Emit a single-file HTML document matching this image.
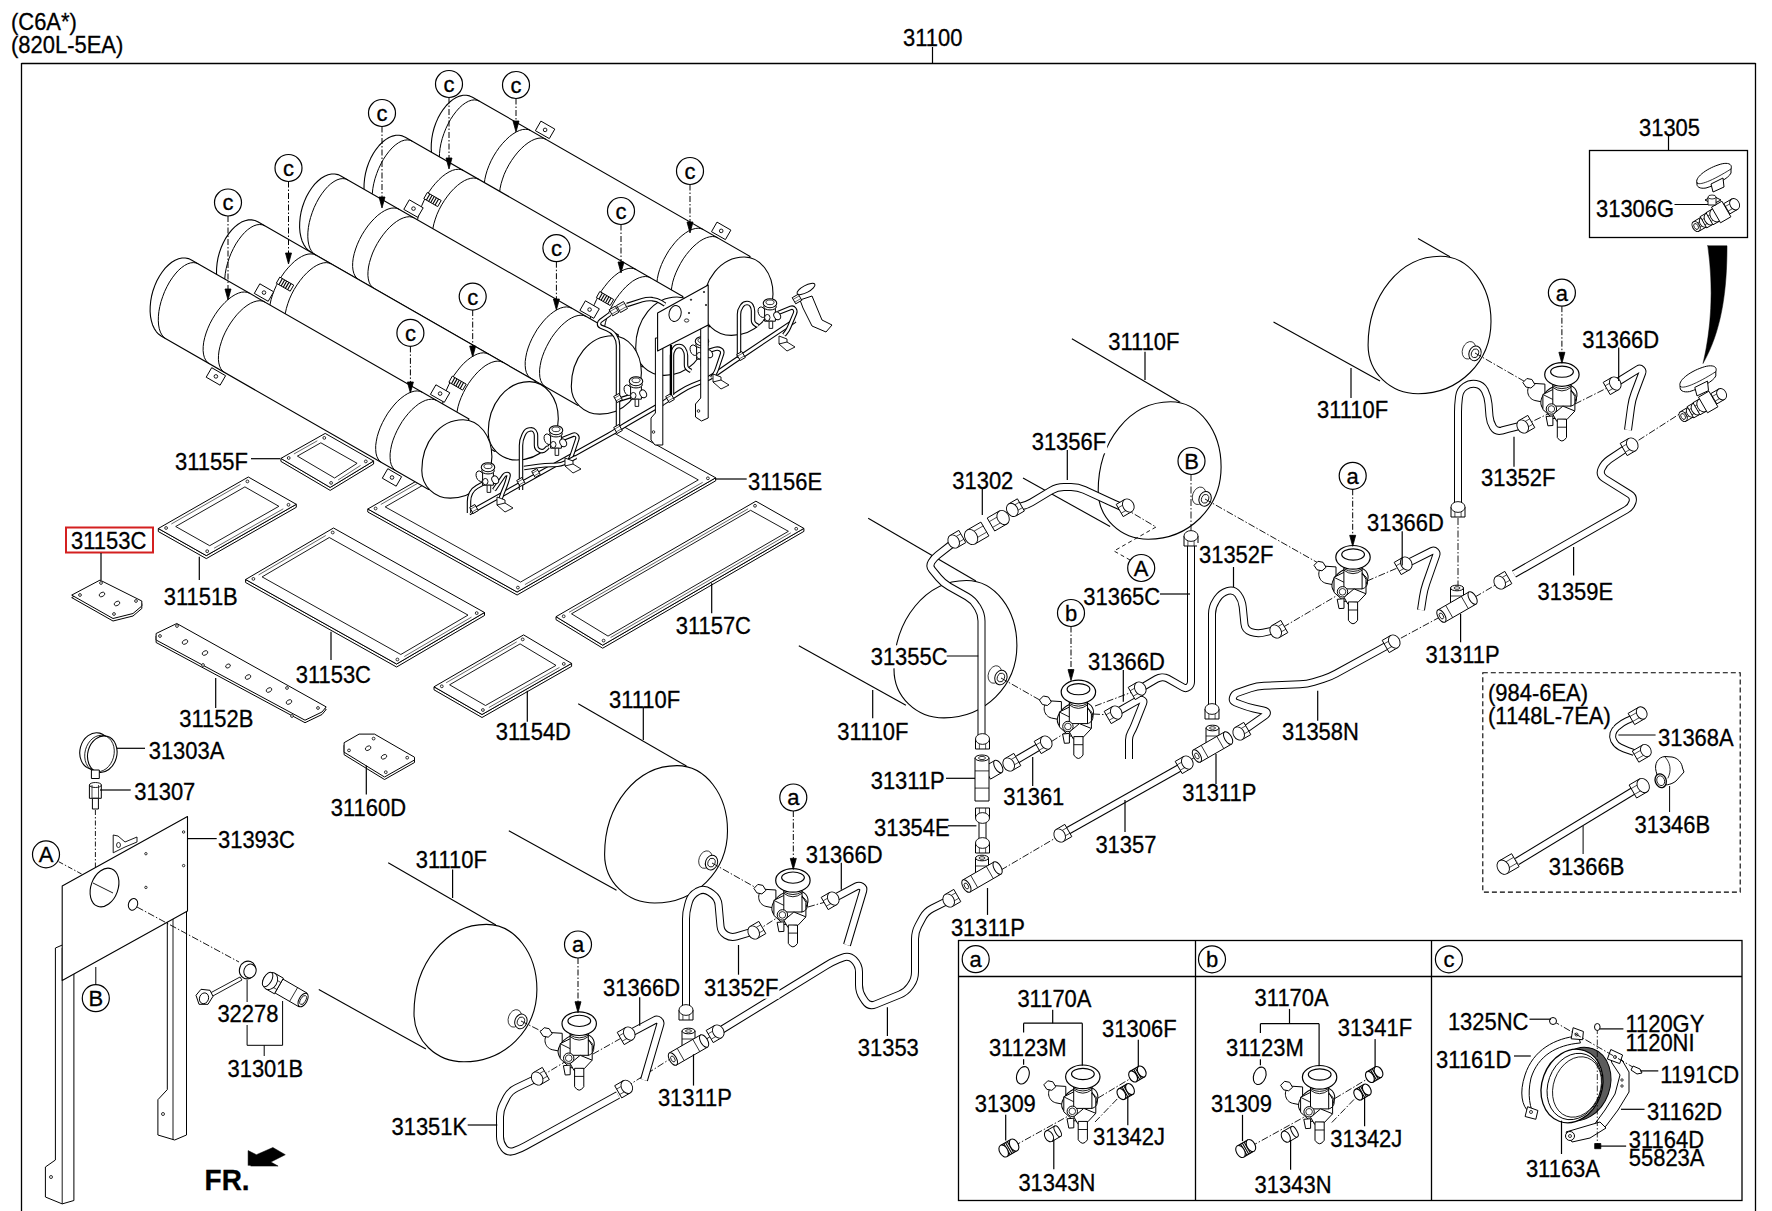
<!DOCTYPE html>
<html><head><meta charset="utf-8"><style>
html,body{margin:0;padding:0;background:#fff;width:1772px;height:1211px;overflow:hidden}
svg{display:block}
text{font-family:"Liberation Sans",sans-serif;fill:#000;stroke:#000;stroke-width:0.3px}
</style></head><body>
<svg width="1772" height="1211" viewBox="0 0 1772 1211">
<rect width="1772" height="1211" fill="#fff"/>
<clipPath id="c56"><path clip-rule="evenodd" d="M0,0 H1772 V1211 H0 Z M530,370 L623,370 L623,432 L600,432 L530,400 Z"/></clipPath>
<g clip-path="url(#c56)">
<polygon points="367.8,509.0 367.8,512.0 517.1,595.0 715.7,480.8 715.7,477.8 517.1,592.0" fill="#fff" stroke="#000" stroke-width="1.0" stroke-linejoin="round"/>
<polygon points="367.8,509.0 566.4,394.8 715.7,477.8 517.1,592.0" fill="#fff" stroke="#000" stroke-width="1.0" stroke-linejoin="round"/>
<polygon points="385.2,506.9 563.0,404.7 698.3,479.9 520.5,582.1" fill="#fff" stroke="#000" stroke-width="0.9" stroke-linejoin="round"/>
<line x1="380.8" y1="504.5" x2="558.6" y2="402.2" stroke="#000" stroke-width="0.6"/>
<line x1="524.9" y1="584.6" x2="702.7" y2="482.3" stroke="#000" stroke-width="0.6"/>
<circle cx="375.6" cy="508.5" r="1.4" fill="#fff" stroke="#000" stroke-width="0.8"/>
<circle cx="565.6" cy="399.2" r="1.4" fill="#fff" stroke="#000" stroke-width="0.8"/>
<circle cx="707.9" cy="478.3" r="1.4" fill="#fff" stroke="#000" stroke-width="0.8"/>
<circle cx="517.9" cy="587.6" r="1.4" fill="#fff" stroke="#000" stroke-width="0.8"/>
</g>
<polygon points="280.9,458.4 280.9,461.4 330.2,490.4 373.6,464.0 373.6,461.0 330.2,487.4" fill="#fff" stroke="#000" stroke-width="1.0" stroke-linejoin="round"/>
<polygon points="280.9,458.4 325.2,433.4 373.6,461.0 330.2,487.4" fill="#fff" stroke="#000" stroke-width="1.0" stroke-linejoin="round"/>
<polygon points="297.4,456.1 320.8,442.8 357.1,463.3 334.6,478.0" fill="#fff" stroke="#000" stroke-width="0.9" stroke-linejoin="round"/>
<line x1="293.9" y1="454.0" x2="317.3" y2="440.8" stroke="#000" stroke-width="0.6"/>
<line x1="338.1" y1="480.0" x2="360.6" y2="465.4" stroke="#000" stroke-width="0.6"/>
<circle cx="288.7" cy="458.0" r="1.4" fill="#fff" stroke="#000" stroke-width="0.8"/>
<circle cx="324.3" cy="437.9" r="1.4" fill="#fff" stroke="#000" stroke-width="0.8"/>
<circle cx="365.8" cy="461.4" r="1.4" fill="#fff" stroke="#000" stroke-width="0.8"/>
<circle cx="331.1" cy="482.9" r="1.4" fill="#fff" stroke="#000" stroke-width="0.8"/>
<polygon points="472.5,97.2 469.6,95.9 466.4,95.3 463.1,95.3 459.7,96.1 456.2,97.5 452.8,99.6 449.5,102.3 446.3,105.5 443.3,109.3 440.5,113.5 438.0,118.1 435.9,122.9 434.1,128.0 432.7,133.3 431.8,138.5 431.3,143.7 431.2,148.8 431.6,153.6 432.5,158.1 433.7,162.2 435.4,165.9 437.5,169.1 439.9,171.6 442.6,173.6 709.7,326.8 750.1,256.4" fill="#fff" stroke="#000" stroke-width="1.1" stroke-linejoin="round"/>
<polyline points="479.5,101.2 477.1,100.2 474.4,99.9 471.6,100.2 468.6,101.2 465.6,102.8 462.4,105.1 459.3,107.9 456.3,111.3 453.4,115.1 450.6,119.3 448.1,123.9 445.8,128.7 443.9,133.6 442.2,138.7 440.9,143.8 440.0,148.7 439.5,153.5 439.4,158.1 439.7,162.3 440.4,166.1 441.5,169.4 443.0,172.2 444.8,174.5 446.9,176.1" fill="none" stroke="#000" stroke-width="1.0" stroke-linejoin="round"/>
<polyline points="530.8,130.6 528.4,129.6 525.7,129.3 522.7,129.5 519.6,130.4 516.3,131.9 512.9,134.0 509.4,136.6 506.0,139.8 502.7,143.3 499.4,147.3 496.4,151.6 493.6,156.1 491.1,160.8 489.0,165.5 487.2,170.3 485.8,175.0 484.8,179.5 484.3,183.8 484.2,187.8 484.6,191.4 485.4,194.6 486.7,197.3 488.3,199.4 490.3,201.0" fill="none" stroke="#000" stroke-width="1.0" stroke-linejoin="round"/>
<polyline points="546.0,139.3 543.6,138.4 541.0,138.0 538.0,138.3 534.9,139.2 531.5,140.7 528.1,142.8 524.7,145.4 521.3,148.5 517.9,152.1 514.7,156.1 511.7,160.3 508.9,164.8 506.4,169.5 504.2,174.3 502.5,179.1 501.1,183.7 500.1,188.3 499.6,192.6 499.5,196.6 499.9,200.2 500.7,203.4 501.9,206.0 503.6,208.2 505.6,209.8" fill="none" stroke="#000" stroke-width="1.0" stroke-linejoin="round"/>
<polyline points="703.3,229.5 700.9,228.6 698.2,228.2 695.3,228.5 692.1,229.4 688.8,230.9 685.4,233.0 682.0,235.6 678.5,238.7 675.2,242.3 672.0,246.3 668.9,250.5 666.2,255.1 663.7,259.7 661.5,264.5 659.7,269.3 658.3,274.0 657.4,278.5 656.8,282.8 656.8,286.8 657.1,290.4 657.9,293.6 659.2,296.3 660.8,298.4 662.9,300.0" fill="none" stroke="#000" stroke-width="1.0" stroke-linejoin="round"/>
<polyline points="717.7,237.8 715.3,236.8 712.6,236.5 709.7,236.8 706.5,237.7 703.2,239.2 699.8,241.2 696.4,243.9 692.9,247.0 689.6,250.6 686.4,254.5 683.3,258.8 680.6,263.3 678.1,268.0 675.9,272.8 674.1,277.5 672.7,282.2 671.8,286.8 671.2,291.1 671.2,295.0 671.5,298.7 672.3,301.8 673.6,304.5 675.2,306.7 677.3,308.2" fill="none" stroke="#000" stroke-width="1.0" stroke-linejoin="round"/>
<path d="M744.2,257.0 C760.3,257.0 773.0,273.4 773.0,294.1 C773.0,317.2 754.7,335.4 731.4,335.4 C715.4,335.4 702.9,323.2 702.9,307.7 C702.9,279.3 721.1,257.0 744.2,257.0Z" fill="#fff" stroke="#000" stroke-width="1.1" stroke-linejoin="round" stroke-linecap="round" />
<polygon points="540.9,121.1 554.8,129.1 549.3,138.6 535.4,130.7" fill="#fff" stroke="#000" stroke-width="1.0" stroke-linejoin="round"/>
<circle cx="545.1" cy="129.9" r="1.8" fill="#fff" stroke="#000" stroke-width="0.9"/>
<polygon points="717.0,222.1 730.9,230.1 725.4,239.6 711.5,231.7" fill="#fff" stroke="#000" stroke-width="1.0" stroke-linejoin="round"/>
<circle cx="721.2" cy="230.9" r="1.8" fill="#fff" stroke="#000" stroke-width="0.9"/>
<polygon points="405.3,137.2 402.4,135.9 399.2,135.3 395.9,135.3 392.5,136.1 389.0,137.5 385.6,139.6 382.3,142.3 379.1,145.5 376.1,149.3 373.3,153.5 370.8,158.1 368.7,162.9 366.9,168.0 365.5,173.3 364.6,178.5 364.1,183.7 364.0,188.8 364.4,193.6 365.3,198.1 366.5,202.2 368.2,205.9 370.3,209.1 372.7,211.6 375.4,213.6 642.5,366.8 682.9,296.4" fill="#fff" stroke="#000" stroke-width="1.1" stroke-linejoin="round"/>
<polyline points="412.3,141.2 409.9,140.2 407.2,139.9 404.4,140.2 401.4,141.2 398.4,142.8 395.2,145.1 392.1,147.9 389.1,151.3 386.2,155.1 383.4,159.3 380.9,163.9 378.6,168.7 376.7,173.6 375.0,178.7 373.7,183.8 372.8,188.7 372.3,193.5 372.2,198.1 372.5,202.3 373.2,206.1 374.3,209.4 375.8,212.2 377.6,214.5 379.7,216.1" fill="none" stroke="#000" stroke-width="1.0" stroke-linejoin="round"/>
<polyline points="463.6,170.6 461.2,169.6 458.5,169.3 455.5,169.5 452.4,170.4 449.1,171.9 445.7,174.0 442.2,176.6 438.8,179.8 435.5,183.3 432.2,187.3 429.2,191.6 426.4,196.1 423.9,200.8 421.8,205.5 420.0,210.3 418.6,215.0 417.6,219.5 417.1,223.8 417.0,227.8 417.4,231.4 418.2,234.6 419.5,237.3 421.1,239.4 423.1,241.0" fill="none" stroke="#000" stroke-width="1.0" stroke-linejoin="round"/>
<polyline points="478.8,179.3 476.4,178.4 473.8,178.0 470.8,178.3 467.7,179.2 464.3,180.7 460.9,182.8 457.5,185.4 454.1,188.5 450.7,192.1 447.5,196.1 444.5,200.3 441.7,204.8 439.2,209.5 437.0,214.3 435.3,219.1 433.9,223.7 432.9,228.3 432.4,232.6 432.3,236.6 432.7,240.2 433.5,243.4 434.7,246.0 436.4,248.2 438.4,249.8" fill="none" stroke="#000" stroke-width="1.0" stroke-linejoin="round"/>
<polyline points="636.1,269.5 633.7,268.6 631.0,268.2 628.1,268.5 624.9,269.4 621.6,270.9 618.2,273.0 614.8,275.6 611.3,278.7 608.0,282.3 604.8,286.3 601.7,290.5 599.0,295.1 596.5,299.7 594.3,304.5 592.5,309.3 591.1,314.0 590.2,318.5 589.6,322.8 589.6,326.8 589.9,330.4 590.7,333.6 592.0,336.3 593.6,338.4 595.7,340.0" fill="none" stroke="#000" stroke-width="1.0" stroke-linejoin="round"/>
<polyline points="650.5,277.8 648.1,276.8 645.4,276.5 642.5,276.8 639.3,277.7 636.0,279.2 632.6,281.2 629.2,283.9 625.7,287.0 622.4,290.6 619.2,294.5 616.1,298.8 613.4,303.3 610.9,308.0 608.7,312.8 606.9,317.5 605.5,322.2 604.6,326.8 604.0,331.1 604.0,335.0 604.3,338.7 605.1,341.8 606.4,344.5 608.0,346.7 610.1,348.2" fill="none" stroke="#000" stroke-width="1.0" stroke-linejoin="round"/>
<path d="M677.0,297.0 C693.1,297.0 705.8,313.4 705.8,334.1 C705.8,357.2 687.5,375.4 664.2,375.4 C648.2,375.4 635.7,363.2 635.7,347.7 C635.7,319.3 653.9,297.0 677.0,297.0Z" fill="#fff" stroke="#000" stroke-width="1.1" stroke-linejoin="round" stroke-linecap="round" />
<polygon points="427.3,192.5 441.2,200.5 437.7,206.6 423.8,198.6" fill="#fff" stroke="#000" stroke-width="1.0" stroke-linejoin="round"/>
<line x1="429.9" y1="194.0" x2="426.4" y2="200.1" stroke="#000" stroke-width="1.1"/>
<line x1="432.1" y1="195.3" x2="428.6" y2="201.4" stroke="#000" stroke-width="1.1"/>
<line x1="434.2" y1="196.5" x2="430.8" y2="202.6" stroke="#000" stroke-width="1.1"/>
<line x1="436.4" y1="197.8" x2="432.9" y2="203.8" stroke="#000" stroke-width="1.1"/>
<line x1="438.6" y1="199.0" x2="435.1" y2="205.1" stroke="#000" stroke-width="1.1"/>
<polygon points="599.8,291.5 613.7,299.5 610.2,305.5 596.4,297.6" fill="#fff" stroke="#000" stroke-width="1.0" stroke-linejoin="round"/>
<line x1="602.4" y1="293.0" x2="599.0" y2="299.1" stroke="#000" stroke-width="1.1"/>
<line x1="604.6" y1="294.3" x2="601.1" y2="300.3" stroke="#000" stroke-width="1.1"/>
<line x1="606.8" y1="295.5" x2="603.3" y2="301.6" stroke="#000" stroke-width="1.1"/>
<line x1="608.9" y1="296.7" x2="605.5" y2="302.8" stroke="#000" stroke-width="1.1"/>
<line x1="611.1" y1="298.0" x2="607.6" y2="304.1" stroke="#000" stroke-width="1.1"/>
<polygon points="340.9,175.9 338.0,174.6 334.8,174.0 331.5,174.0 328.1,174.8 324.6,176.2 321.2,178.3 317.9,181.0 314.7,184.2 311.7,188.0 308.9,192.2 306.4,196.8 304.3,201.6 302.5,206.7 301.1,212.0 300.2,217.2 299.7,222.4 299.6,227.5 300.0,232.3 300.9,236.8 302.1,240.9 303.8,244.6 305.9,247.8 308.3,250.3 311.0,252.3 578.1,405.5 618.5,335.1" fill="#fff" stroke="#000" stroke-width="1.1" stroke-linejoin="round"/>
<polyline points="347.9,179.9 345.5,178.9 342.8,178.6 340.0,178.9 337.0,179.9 334.0,181.5 330.8,183.8 327.7,186.6 324.7,190.0 321.8,193.8 319.0,198.0 316.5,202.6 314.2,207.4 312.3,212.3 310.6,217.4 309.3,222.5 308.4,227.4 307.9,232.2 307.8,236.8 308.1,241.0 308.8,244.8 309.9,248.1 311.4,250.9 313.2,253.2 315.3,254.8" fill="none" stroke="#000" stroke-width="1.0" stroke-linejoin="round"/>
<polyline points="399.2,209.3 396.8,208.3 394.1,208.0 391.1,208.2 388.0,209.1 384.7,210.6 381.3,212.7 377.8,215.3 374.4,218.5 371.1,222.0 367.8,226.0 364.8,230.3 362.0,234.8 359.5,239.5 357.4,244.2 355.6,249.0 354.2,253.7 353.2,258.2 352.7,262.5 352.6,266.5 353.0,270.1 353.8,273.3 355.1,276.0 356.7,278.1 358.7,279.7" fill="none" stroke="#000" stroke-width="1.0" stroke-linejoin="round"/>
<polyline points="414.4,218.0 412.0,217.1 409.4,216.7 406.4,217.0 403.3,217.9 399.9,219.4 396.5,221.5 393.1,224.1 389.7,227.2 386.3,230.8 383.1,234.8 380.1,239.0 377.3,243.5 374.8,248.2 372.6,253.0 370.9,257.8 369.5,262.4 368.5,267.0 368.0,271.3 367.9,275.3 368.3,278.9 369.1,282.1 370.3,284.7 372.0,286.9 374.0,288.5" fill="none" stroke="#000" stroke-width="1.0" stroke-linejoin="round"/>
<polyline points="571.7,308.2 569.3,307.3 566.6,306.9 563.7,307.2 560.5,308.1 557.2,309.6 553.8,311.7 550.4,314.3 546.9,317.4 543.6,321.0 540.4,325.0 537.3,329.2 534.6,333.8 532.1,338.4 529.9,343.2 528.1,348.0 526.7,352.7 525.8,357.2 525.2,361.5 525.2,365.5 525.5,369.1 526.3,372.3 527.6,375.0 529.2,377.1 531.3,378.7" fill="none" stroke="#000" stroke-width="1.0" stroke-linejoin="round"/>
<polyline points="586.1,316.5 583.7,315.5 581.0,315.2 578.1,315.5 574.9,316.4 571.6,317.9 568.2,319.9 564.8,322.6 561.3,325.7 558.0,329.3 554.8,333.2 551.7,337.5 549.0,342.0 546.5,346.7 544.3,351.5 542.5,356.2 541.1,360.9 540.2,365.5 539.6,369.8 539.6,373.7 539.9,377.4 540.7,380.5 542.0,383.2 543.6,385.4 545.7,386.9" fill="none" stroke="#000" stroke-width="1.0" stroke-linejoin="round"/>
<path d="M612.6,335.7 C628.7,335.7 641.4,352.1 641.4,372.8 C641.4,395.9 623.1,414.1 599.8,414.1 C583.8,414.1 571.3,401.9 571.3,386.4 C571.3,358.0 589.5,335.7 612.6,335.7Z" fill="#fff" stroke="#000" stroke-width="1.1" stroke-linejoin="round" stroke-linecap="round" />
<polygon points="409.3,199.8 423.2,207.8 417.7,217.3 403.8,209.4" fill="#fff" stroke="#000" stroke-width="1.0" stroke-linejoin="round"/>
<circle cx="413.5" cy="208.6" r="1.8" fill="#fff" stroke="#000" stroke-width="0.9"/>
<polygon points="585.4,300.8 599.3,308.8 593.8,318.3 579.9,310.4" fill="#fff" stroke="#000" stroke-width="1.0" stroke-linejoin="round"/>
<circle cx="589.6" cy="309.6" r="1.8" fill="#fff" stroke="#000" stroke-width="0.9"/>
<polygon points="257.8,221.8 254.9,220.5 251.7,219.9 248.4,219.9 245.0,220.7 241.5,222.1 238.1,224.2 234.8,226.9 231.6,230.1 228.6,233.9 225.8,238.1 223.3,242.7 221.2,247.5 219.4,252.6 218.0,257.9 217.1,263.1 216.6,268.3 216.5,273.4 216.9,278.2 217.8,282.7 219.0,286.8 220.7,290.5 222.8,293.7 225.2,296.2 227.9,298.2 495.0,451.4 535.4,381.0" fill="#fff" stroke="#000" stroke-width="1.1" stroke-linejoin="round"/>
<polyline points="264.8,225.8 262.4,224.8 259.7,224.5 256.9,224.8 253.9,225.8 250.9,227.4 247.7,229.7 244.6,232.5 241.6,235.9 238.7,239.7 235.9,243.9 233.4,248.5 231.1,253.3 229.2,258.2 227.5,263.3 226.2,268.4 225.3,273.3 224.8,278.1 224.7,282.7 225.0,286.9 225.7,290.7 226.8,294.0 228.3,296.8 230.1,299.1 232.2,300.7" fill="none" stroke="#000" stroke-width="1.0" stroke-linejoin="round"/>
<polyline points="316.1,255.2 313.7,254.2 311.0,253.9 308.0,254.1 304.9,255.0 301.6,256.5 298.2,258.6 294.7,261.2 291.3,264.4 288.0,267.9 284.7,271.9 281.7,276.2 278.9,280.7 276.4,285.4 274.3,290.1 272.5,294.9 271.1,299.6 270.1,304.1 269.6,308.4 269.5,312.4 269.9,316.0 270.7,319.2 272.0,321.9 273.6,324.0 275.6,325.6" fill="none" stroke="#000" stroke-width="1.0" stroke-linejoin="round"/>
<polyline points="331.3,263.9 328.9,263.0 326.3,262.6 323.3,262.9 320.2,263.8 316.8,265.3 313.4,267.4 310.0,270.0 306.6,273.1 303.2,276.7 300.0,280.7 297.0,284.9 294.2,289.4 291.7,294.1 289.5,298.9 287.8,303.7 286.4,308.3 285.4,312.9 284.9,317.2 284.8,321.2 285.2,324.8 286.0,328.0 287.2,330.6 288.9,332.8 290.9,334.4" fill="none" stroke="#000" stroke-width="1.0" stroke-linejoin="round"/>
<polyline points="488.6,354.1 486.2,353.2 483.5,352.8 480.6,353.1 477.4,354.0 474.1,355.5 470.7,357.6 467.3,360.2 463.8,363.3 460.5,366.9 457.3,370.9 454.2,375.1 451.5,379.7 449.0,384.3 446.8,389.1 445.0,393.9 443.6,398.6 442.7,403.1 442.1,407.4 442.1,411.4 442.4,415.0 443.2,418.2 444.5,420.9 446.1,423.0 448.2,424.6" fill="none" stroke="#000" stroke-width="1.0" stroke-linejoin="round"/>
<polyline points="503.0,362.4 500.6,361.4 497.9,361.1 495.0,361.4 491.8,362.3 488.5,363.8 485.1,365.8 481.7,368.5 478.2,371.6 474.9,375.2 471.7,379.1 468.6,383.4 465.9,387.9 463.4,392.6 461.2,397.4 459.4,402.1 458.0,406.8 457.1,411.4 456.5,415.7 456.5,419.6 456.8,423.3 457.6,426.4 458.9,429.1 460.5,431.3 462.6,432.8" fill="none" stroke="#000" stroke-width="1.0" stroke-linejoin="round"/>
<path d="M529.5,381.6 C545.6,381.6 558.3,398.0 558.3,418.7 C558.3,441.8 540.0,460.0 516.7,460.0 C500.7,460.0 488.2,447.8 488.2,432.3 C488.2,403.9 506.4,381.6 529.5,381.6Z" fill="#fff" stroke="#000" stroke-width="1.1" stroke-linejoin="round" stroke-linecap="round" />
<polygon points="279.8,277.1 293.7,285.1 290.2,291.2 276.3,283.2" fill="#fff" stroke="#000" stroke-width="1.0" stroke-linejoin="round"/>
<line x1="282.4" y1="278.6" x2="278.9" y2="284.7" stroke="#000" stroke-width="1.1"/>
<line x1="284.6" y1="279.9" x2="281.1" y2="286.0" stroke="#000" stroke-width="1.1"/>
<line x1="286.7" y1="281.1" x2="283.3" y2="287.2" stroke="#000" stroke-width="1.1"/>
<line x1="288.9" y1="282.4" x2="285.4" y2="288.4" stroke="#000" stroke-width="1.1"/>
<line x1="291.1" y1="283.6" x2="287.6" y2="289.7" stroke="#000" stroke-width="1.1"/>
<polygon points="452.3,376.1 466.2,384.1 462.7,390.1 448.9,382.2" fill="#fff" stroke="#000" stroke-width="1.0" stroke-linejoin="round"/>
<line x1="454.9" y1="377.6" x2="451.5" y2="383.7" stroke="#000" stroke-width="1.1"/>
<line x1="457.1" y1="378.9" x2="453.6" y2="384.9" stroke="#000" stroke-width="1.1"/>
<line x1="459.3" y1="380.1" x2="455.8" y2="386.2" stroke="#000" stroke-width="1.1"/>
<line x1="461.4" y1="381.3" x2="458.0" y2="387.4" stroke="#000" stroke-width="1.1"/>
<line x1="463.6" y1="382.6" x2="460.1" y2="388.7" stroke="#000" stroke-width="1.1"/>
<polygon points="191.4,259.9 188.5,258.6 185.3,258.0 182.0,258.0 178.6,258.8 175.1,260.2 171.7,262.3 168.4,265.0 165.2,268.2 162.2,272.0 159.4,276.2 156.9,280.8 154.8,285.6 153.0,290.7 151.6,296.0 150.7,301.2 150.2,306.4 150.1,311.5 150.5,316.3 151.4,320.8 152.6,324.9 154.3,328.6 156.4,331.8 158.8,334.3 161.5,336.3 428.6,489.5 469.0,419.1" fill="#fff" stroke="#000" stroke-width="1.1" stroke-linejoin="round"/>
<polyline points="198.4,263.9 196.0,262.9 193.3,262.6 190.5,262.9 187.5,263.9 184.5,265.5 181.3,267.8 178.2,270.6 175.2,274.0 172.3,277.8 169.5,282.0 167.0,286.6 164.7,291.4 162.8,296.3 161.1,301.4 159.8,306.5 158.9,311.4 158.4,316.2 158.3,320.8 158.6,325.0 159.3,328.8 160.4,332.1 161.9,334.9 163.7,337.2 165.8,338.8" fill="none" stroke="#000" stroke-width="1.0" stroke-linejoin="round"/>
<polyline points="249.7,293.3 247.3,292.3 244.6,292.0 241.6,292.2 238.5,293.1 235.2,294.6 231.8,296.7 228.3,299.3 224.9,302.5 221.6,306.0 218.3,310.0 215.3,314.3 212.5,318.8 210.0,323.5 207.9,328.2 206.1,333.0 204.7,337.7 203.7,342.2 203.2,346.5 203.1,350.5 203.5,354.1 204.3,357.3 205.6,360.0 207.2,362.1 209.2,363.7" fill="none" stroke="#000" stroke-width="1.0" stroke-linejoin="round"/>
<polyline points="264.9,302.0 262.5,301.1 259.9,300.7 256.9,301.0 253.8,301.9 250.4,303.4 247.0,305.5 243.6,308.1 240.2,311.2 236.8,314.8 233.6,318.8 230.6,323.0 227.8,327.5 225.3,332.2 223.1,337.0 221.4,341.8 220.0,346.4 219.0,351.0 218.5,355.3 218.4,359.3 218.8,362.9 219.6,366.1 220.8,368.7 222.5,370.9 224.5,372.5" fill="none" stroke="#000" stroke-width="1.0" stroke-linejoin="round"/>
<polyline points="422.2,392.2 419.8,391.3 417.1,390.9 414.2,391.2 411.0,392.1 407.7,393.6 404.3,395.7 400.9,398.3 397.4,401.4 394.1,405.0 390.9,409.0 387.8,413.2 385.1,417.8 382.6,422.4 380.4,427.2 378.6,432.0 377.2,436.7 376.3,441.2 375.7,445.5 375.7,449.5 376.0,453.1 376.8,456.3 378.1,459.0 379.7,461.1 381.8,462.7" fill="none" stroke="#000" stroke-width="1.0" stroke-linejoin="round"/>
<polyline points="436.6,400.5 434.2,399.5 431.5,399.2 428.6,399.5 425.4,400.4 422.1,401.9 418.7,403.9 415.3,406.6 411.8,409.7 408.5,413.3 405.3,417.2 402.2,421.5 399.5,426.0 397.0,430.7 394.8,435.5 393.0,440.2 391.6,444.9 390.7,449.5 390.1,453.8 390.1,457.7 390.4,461.4 391.2,464.5 392.5,467.2 394.1,469.4 396.2,470.9" fill="none" stroke="#000" stroke-width="1.0" stroke-linejoin="round"/>
<path d="M463.1,419.7 C479.2,419.7 491.9,436.1 491.9,456.8 C491.9,479.9 473.6,498.1 450.3,498.1 C434.3,498.1 421.8,485.9 421.8,470.4 C421.8,442.0 440.0,419.7 463.1,419.7Z" fill="#fff" stroke="#000" stroke-width="1.1" stroke-linejoin="round" stroke-linecap="round" />
<polygon points="259.8,283.8 273.7,291.8 268.2,301.3 254.3,293.4" fill="#fff" stroke="#000" stroke-width="1.0" stroke-linejoin="round"/>
<circle cx="264.0" cy="292.6" r="1.8" fill="#fff" stroke="#000" stroke-width="0.9"/>
<polygon points="435.9,384.8 449.8,392.8 444.3,402.3 430.4,394.4" fill="#fff" stroke="#000" stroke-width="1.0" stroke-linejoin="round"/>
<circle cx="440.1" cy="393.6" r="1.8" fill="#fff" stroke="#000" stroke-width="0.9"/>
<polygon points="211.7,367.7 225.6,375.7 220.1,385.2 206.2,377.2" fill="#fff" stroke="#000" stroke-width="1.0" stroke-linejoin="round"/>
<circle cx="215.9" cy="376.4" r="1.8" fill="#fff" stroke="#000" stroke-width="0.9"/>
<polygon points="387.8,468.7 401.6,476.7 396.2,486.2 382.3,478.2" fill="#fff" stroke="#000" stroke-width="1.0" stroke-linejoin="round"/>
<circle cx="392.0" cy="477.5" r="1.8" fill="#fff" stroke="#000" stroke-width="0.9"/>
<path d="M469.0,513.0 L608.8,434.9 Q614.0,432.0 619.0,428.8 L619.0,428.8 Q624.0,425.5 629.2,422.5 L663.0,403.0" fill="none" stroke="#000" stroke-width="5" stroke-linejoin="round" stroke-linecap="butt"/>
<path d="M469.0,513.0 L608.8,434.9 Q614.0,432.0 619.0,428.8 L619.0,428.8 Q624.0,425.5 629.2,422.5 L663.0,403.0" fill="none" stroke="#fff" stroke-width="2.8" stroke-linejoin="round" stroke-linecap="butt"/>
<path d="M663.0,403.0 L680.1,391.8 Q686.0,388.0 692.5,385.3 L702.5,381.2 Q709.0,378.5 714.8,374.6 L733.2,361.9 Q739.0,358.0 744.8,354.1 L795.0,320.5" fill="none" stroke="#000" stroke-width="5" stroke-linejoin="round" stroke-linecap="butt"/>
<path d="M663.0,403.0 L680.1,391.8 Q686.0,388.0 692.5,385.3 L702.5,381.2 Q709.0,378.5 714.8,374.6 L733.2,361.9 Q739.0,358.0 744.8,354.1 L795.0,320.5" fill="none" stroke="#fff" stroke-width="2.8" stroke-linejoin="round" stroke-linecap="butt"/>
<path d="M484.0,483.0 L476.9,486.9 Q473.0,489.0 471.0,493.0 L471.0,493.0 Q469.0,497.0 469.0,501.5 L469.0,513.0" fill="none" stroke="#000" stroke-width="4.5" stroke-linejoin="round" stroke-linecap="butt"/>
<path d="M484.0,483.0 L476.9,486.9 Q473.0,489.0 471.0,493.0 L471.0,493.0 Q469.0,497.0 469.0,501.5 L469.0,513.0" fill="none" stroke="#fff" stroke-width="2.3" stroke-linejoin="round" stroke-linecap="butt"/>
<path d="M494.0,490.0 L503.9,475.6 Q505.0,474.0 507.0,474.0 L507.0,474.0 Q509.0,474.0 508.5,475.9 L508.0,478.0 Q507.0,482.0 505.5,485.8 L502.7,492.7 Q501.0,497.0 500.0,501.5 L499.0,506.0" fill="none" stroke="#000" stroke-width="4.5" stroke-linejoin="round" stroke-linecap="butt"/>
<path d="M494.0,490.0 L503.9,475.6 Q505.0,474.0 507.0,474.0 L507.0,474.0 Q509.0,474.0 508.5,475.9 L508.0,478.0 Q507.0,482.0 505.5,485.8 L502.7,492.7 Q501.0,497.0 500.0,501.5 L499.0,506.0" fill="none" stroke="#fff" stroke-width="2.3" stroke-linejoin="round" stroke-linecap="butt"/>
<path d="M521.0,490.0 L521.0,445.6 Q521.0,440.0 523.5,435.0 L524.4,433.2 Q526.0,430.0 529.5,429.5 L530.5,429.4 Q533.0,429.0 534.5,431.0 L534.5,431.0 Q536.0,433.0 536.0,435.5 L536.0,445.2 Q536.0,449.0 539.5,450.5 L539.8,450.6 Q543.0,452.0 545.5,449.5 L548.0,447.0" fill="none" stroke="#000" stroke-width="4.5" stroke-linejoin="round" stroke-linecap="butt"/>
<path d="M521.0,490.0 L521.0,445.6 Q521.0,440.0 523.5,435.0 L524.4,433.2 Q526.0,430.0 529.5,429.5 L530.5,429.4 Q533.0,429.0 534.5,431.0 L534.5,431.0 Q536.0,433.0 536.0,435.5 L536.0,445.2 Q536.0,449.0 539.5,450.5 L539.8,450.6 Q543.0,452.0 545.5,449.5 L548.0,447.0" fill="none" stroke="#fff" stroke-width="2.3" stroke-linejoin="round" stroke-linecap="butt"/>
<path d="M560.0,440.0 L573.0,434.8 Q575.0,434.0 576.5,435.5 L576.5,435.5 Q578.0,437.0 577.3,439.0 L573.2,451.4 Q572.0,455.0 570.5,458.5 L569.0,462.0" fill="none" stroke="#000" stroke-width="4.5" stroke-linejoin="round" stroke-linecap="butt"/>
<path d="M560.0,440.0 L573.0,434.8 Q575.0,434.0 576.5,435.5 L576.5,435.5 Q578.0,437.0 577.3,439.0 L573.2,451.4 Q572.0,455.0 570.5,458.5 L569.0,462.0" fill="none" stroke="#fff" stroke-width="2.3" stroke-linejoin="round" stroke-linecap="butt"/>
<path d="M524.0,468.0 L538.1,466.0 Q545.0,465.0 552.0,465.0 L554.0,465.0 Q561.0,465.0 567.2,461.7 L576.0,457.0" fill="none" stroke="#000" stroke-width="4.5" stroke-linejoin="round" stroke-linecap="butt"/>
<path d="M524.0,468.0 L538.1,466.0 Q545.0,465.0 552.0,465.0 L554.0,465.0 Q561.0,465.0 567.2,461.7 L576.0,457.0" fill="none" stroke="#fff" stroke-width="2.3" stroke-linejoin="round" stroke-linecap="butt"/>
<path d="M618.0,431.0 L618.0,345.4 Q618.0,340.0 615.0,335.5 L615.0,335.5 Q612.0,331.0 607.0,329.1 L600.9,326.7 Q599.0,326.0 599.0,324.0 L599.0,324.0 Q599.0,322.0 600.6,320.8 L610.0,314.0" fill="none" stroke="#000" stroke-width="4.5" stroke-linejoin="round" stroke-linecap="butt"/>
<path d="M618.0,431.0 L618.0,345.4 Q618.0,340.0 615.0,335.5 L615.0,335.5 Q612.0,331.0 607.0,329.1 L600.9,326.7 Q599.0,326.0 599.0,324.0 L599.0,324.0 Q599.0,322.0 600.6,320.8 L610.0,314.0" fill="none" stroke="#fff" stroke-width="2.3" stroke-linejoin="round" stroke-linecap="butt"/>
<polygon points="609.2,309.7 615.3,306.2 618.8,312.3 612.7,315.8" fill="#fff" stroke="#000" stroke-width="1.0" stroke-linejoin="round"/>
<line x1="610.2" y1="311.4" x2="616.2" y2="307.9" stroke="#000" stroke-width="0.6"/>
<line x1="611.8" y1="314.1" x2="617.8" y2="310.6" stroke="#000" stroke-width="0.6"/>
<polygon points="616.5,305.5 623.5,301.5 627.5,308.5 620.5,312.5" fill="#fff" stroke="#000" stroke-width="1.0" stroke-linejoin="round"/>
<line x1="617.6" y1="307.4" x2="624.6" y2="303.4" stroke="#000" stroke-width="0.6"/>
<line x1="619.4" y1="310.6" x2="626.4" y2="306.6" stroke="#000" stroke-width="0.6"/>
<path d="M627.0,305.0 L642.2,300.2 Q647.0,298.7 652.0,299.1 L652.3,299.2 Q657.0,299.6 661.0,302.1 L665.0,304.6" fill="none" stroke="#000" stroke-width="4.5" stroke-linejoin="round" stroke-linecap="butt"/>
<path d="M627.0,305.0 L642.2,300.2 Q647.0,298.7 652.0,299.1 L652.3,299.2 Q657.0,299.6 661.0,302.1 L665.0,304.6" fill="none" stroke="#fff" stroke-width="2.3" stroke-linejoin="round" stroke-linecap="butt"/>
<path d="M618.0,400.0 L631.0,396.0" fill="none" stroke="#000" stroke-width="4.5" stroke-linejoin="round" stroke-linecap="butt"/>
<path d="M618.0,400.0 L631.0,396.0" fill="none" stroke="#fff" stroke-width="2.3" stroke-linejoin="round" stroke-linecap="butt"/>
<path d="M672.0,395.0 L672.0,355.6 Q672.0,352.0 674.0,349.0 L674.3,348.5 Q676.0,346.0 679.0,346.0 L679.0,346.0 Q682.0,346.0 683.7,348.5 L684.0,349.0 Q686.0,352.0 686.0,355.6 L686.0,365.1 Q686.0,368.0 688.5,369.5 L691.0,371.0" fill="none" stroke="#000" stroke-width="4.5" stroke-linejoin="round" stroke-linecap="butt"/>
<path d="M672.0,395.0 L672.0,355.6 Q672.0,352.0 674.0,349.0 L674.3,348.5 Q676.0,346.0 679.0,346.0 L679.0,346.0 Q682.0,346.0 683.7,348.5 L684.0,349.0 Q686.0,352.0 686.0,355.6 L686.0,365.1 Q686.0,368.0 688.5,369.5 L691.0,371.0" fill="none" stroke="#fff" stroke-width="2.3" stroke-linejoin="round" stroke-linecap="butt"/>
<path d="M705.0,352.0 L715.2,348.9 Q718.0,348.0 720.5,349.5 L720.5,349.5 Q723.0,351.0 722.1,353.8 L717.1,368.6 Q716.0,372.0 714.0,375.0 L712.0,378.0" fill="none" stroke="#000" stroke-width="4.5" stroke-linejoin="round" stroke-linecap="butt"/>
<path d="M705.0,352.0 L715.2,348.9 Q718.0,348.0 720.5,349.5 L720.5,349.5 Q723.0,351.0 722.1,353.8 L717.1,368.6 Q716.0,372.0 714.0,375.0 L712.0,378.0" fill="none" stroke="#fff" stroke-width="2.3" stroke-linejoin="round" stroke-linecap="butt"/>
<path d="M739.0,358.0 L739.0,314.3 Q739.0,310.0 741.5,306.5 L742.3,305.4 Q744.0,303.0 747.0,303.0 L747.1,303.0 Q750.0,303.0 751.5,305.5 L751.5,305.5 Q753.0,308.0 753.0,310.9 L753.0,320.1 Q753.0,323.0 755.5,324.5 L758.0,326.0" fill="none" stroke="#000" stroke-width="4.5" stroke-linejoin="round" stroke-linecap="butt"/>
<path d="M739.0,358.0 L739.0,314.3 Q739.0,310.0 741.5,306.5 L742.3,305.4 Q744.0,303.0 747.0,303.0 L747.1,303.0 Q750.0,303.0 751.5,305.5 L751.5,305.5 Q753.0,308.0 753.0,310.9 L753.0,320.1 Q753.0,323.0 755.5,324.5 L758.0,326.0" fill="none" stroke="#fff" stroke-width="2.3" stroke-linejoin="round" stroke-linecap="butt"/>
<path d="M778.0,313.0 L790.7,307.9 Q793.0,307.0 794.5,309.0 L794.5,309.0 Q796.0,311.0 795.0,313.3 L789.2,327.0 Q788.0,330.0 786.0,332.5 L784.0,335.0" fill="none" stroke="#000" stroke-width="4.5" stroke-linejoin="round" stroke-linecap="butt"/>
<path d="M778.0,313.0 L790.7,307.9 Q793.0,307.0 794.5,309.0 L794.5,309.0 Q796.0,311.0 795.0,313.3 L789.2,327.0 Q788.0,330.0 786.0,332.5 L784.0,335.0" fill="none" stroke="#fff" stroke-width="2.3" stroke-linejoin="round" stroke-linecap="butt"/>
<polygon points="469.7,507.5 474.8,504.5 478.3,510.5 473.2,513.5" fill="#fff" stroke="#000" stroke-width="1.0" stroke-linejoin="round"/>
<line x1="470.6" y1="509.1" x2="475.8" y2="506.1" stroke="#000" stroke-width="0.6"/>
<line x1="472.2" y1="511.9" x2="477.4" y2="508.9" stroke="#000" stroke-width="0.6"/>
<polygon points="516.7,480.5 521.8,477.5 525.3,483.5 520.2,486.5" fill="#fff" stroke="#000" stroke-width="1.0" stroke-linejoin="round"/>
<line x1="517.6" y1="482.1" x2="522.8" y2="479.1" stroke="#000" stroke-width="0.6"/>
<line x1="519.2" y1="484.9" x2="524.4" y2="481.9" stroke="#000" stroke-width="0.6"/>
<polygon points="531.7,471.5 536.8,468.5 540.3,474.5 535.2,477.5" fill="#fff" stroke="#000" stroke-width="1.0" stroke-linejoin="round"/>
<line x1="532.6" y1="473.1" x2="537.8" y2="470.1" stroke="#000" stroke-width="0.6"/>
<line x1="534.2" y1="475.9" x2="539.4" y2="472.9" stroke="#000" stroke-width="0.6"/>
<polygon points="613.7,427.5 618.8,424.5 622.3,430.5 617.2,433.5" fill="#fff" stroke="#000" stroke-width="1.0" stroke-linejoin="round"/>
<line x1="614.6" y1="429.1" x2="619.8" y2="426.1" stroke="#000" stroke-width="0.6"/>
<line x1="616.2" y1="431.9" x2="621.4" y2="428.9" stroke="#000" stroke-width="0.6"/>
<polygon points="613.7,396.5 618.8,393.5 622.3,399.5 617.2,402.5" fill="#fff" stroke="#000" stroke-width="1.0" stroke-linejoin="round"/>
<line x1="614.6" y1="398.1" x2="619.8" y2="395.1" stroke="#000" stroke-width="0.6"/>
<line x1="616.2" y1="400.9" x2="621.4" y2="397.9" stroke="#000" stroke-width="0.6"/>
<polygon points="665.7,396.5 670.8,393.5 674.3,399.5 669.2,402.5" fill="#fff" stroke="#000" stroke-width="1.0" stroke-linejoin="round"/>
<line x1="666.6" y1="398.1" x2="671.8" y2="395.1" stroke="#000" stroke-width="0.6"/>
<line x1="668.2" y1="400.9" x2="673.4" y2="397.9" stroke="#000" stroke-width="0.6"/>
<polygon points="736.7,354.5 741.8,351.5 745.3,357.5 740.2,360.5" fill="#fff" stroke="#000" stroke-width="1.0" stroke-linejoin="round"/>
<line x1="737.6" y1="356.1" x2="742.8" y2="353.1" stroke="#000" stroke-width="0.6"/>
<line x1="739.2" y1="358.9" x2="744.4" y2="355.9" stroke="#000" stroke-width="0.6"/>
<ellipse cx="479.9" cy="476.2" rx="3.6" ry="5.4" transform="rotate(-20 479.9 476.2)" fill="#fff" stroke="#000" stroke-width="0.9"/>
<polygon points="482.6,472.6 493.4,472.6 493.4,485.2 482.6,485.2" fill="#fff" stroke="#000" stroke-width="1.0" stroke-linejoin="round"/>
<ellipse cx="488.0" cy="470.8" rx="6.3" ry="3.15" transform="rotate(0 488.0 470.8)" fill="#fff" stroke="#000" stroke-width="1.0"/>
<ellipse cx="488.0" cy="467.2" rx="6.75" ry="4.5" transform="rotate(0 488.0 467.2)" fill="#fff" stroke="#000" stroke-width="1.1"/>
<ellipse cx="488.0" cy="466.3" rx="4.05" ry="2.3400000000000003" transform="rotate(0 488.0 466.3)" fill="#fff" stroke="#000" stroke-width="0.8"/>
<ellipse cx="495.2" cy="479.8" rx="3.15" ry="4.05" transform="rotate(-30 495.2 479.8)" fill="#fff" stroke="#000" stroke-width="0.9"/>
<ellipse cx="485.3" cy="481.6" rx="2.7" ry="3.15" transform="rotate(0 485.3 481.6)" fill="#fff" stroke="#000" stroke-width="0.9"/>
<polygon points="487.1,485.2 490.7,485.2 490.7,492.4 487.1,492.4" fill="#fff" stroke="#000" stroke-width="0.9" stroke-linejoin="round"/>
<ellipse cx="547.9" cy="439.2" rx="3.6" ry="5.4" transform="rotate(-20 547.9 439.2)" fill="#fff" stroke="#000" stroke-width="0.9"/>
<polygon points="550.6,435.6 561.4,435.6 561.4,448.2 550.6,448.2" fill="#fff" stroke="#000" stroke-width="1.0" stroke-linejoin="round"/>
<ellipse cx="556.0" cy="433.8" rx="6.3" ry="3.15" transform="rotate(0 556.0 433.8)" fill="#fff" stroke="#000" stroke-width="1.0"/>
<ellipse cx="556.0" cy="430.2" rx="6.75" ry="4.5" transform="rotate(0 556.0 430.2)" fill="#fff" stroke="#000" stroke-width="1.1"/>
<ellipse cx="556.0" cy="429.3" rx="4.05" ry="2.3400000000000003" transform="rotate(0 556.0 429.3)" fill="#fff" stroke="#000" stroke-width="0.8"/>
<ellipse cx="563.2" cy="442.8" rx="3.15" ry="4.05" transform="rotate(-30 563.2 442.8)" fill="#fff" stroke="#000" stroke-width="0.9"/>
<ellipse cx="553.3" cy="444.6" rx="2.7" ry="3.15" transform="rotate(0 553.3 444.6)" fill="#fff" stroke="#000" stroke-width="0.9"/>
<polygon points="555.1,448.2 558.7,448.2 558.7,455.4 555.1,455.4" fill="#fff" stroke="#000" stroke-width="0.9" stroke-linejoin="round"/>
<ellipse cx="627.9" cy="390.2" rx="3.6" ry="5.4" transform="rotate(-20 627.9 390.2)" fill="#fff" stroke="#000" stroke-width="0.9"/>
<polygon points="630.6,386.6 641.4,386.6 641.4,399.2 630.6,399.2" fill="#fff" stroke="#000" stroke-width="1.0" stroke-linejoin="round"/>
<ellipse cx="636.0" cy="384.8" rx="6.3" ry="3.15" transform="rotate(0 636.0 384.8)" fill="#fff" stroke="#000" stroke-width="1.0"/>
<ellipse cx="636.0" cy="381.2" rx="6.75" ry="4.5" transform="rotate(0 636.0 381.2)" fill="#fff" stroke="#000" stroke-width="1.1"/>
<ellipse cx="636.0" cy="380.3" rx="4.05" ry="2.3400000000000003" transform="rotate(0 636.0 380.3)" fill="#fff" stroke="#000" stroke-width="0.8"/>
<ellipse cx="643.2" cy="393.8" rx="3.15" ry="4.05" transform="rotate(-30 643.2 393.8)" fill="#fff" stroke="#000" stroke-width="0.9"/>
<ellipse cx="633.3" cy="395.6" rx="2.7" ry="3.15" transform="rotate(0 633.3 395.6)" fill="#fff" stroke="#000" stroke-width="0.9"/>
<polygon points="635.1,399.2 638.7,399.2 638.7,406.4 635.1,406.4" fill="#fff" stroke="#000" stroke-width="0.9" stroke-linejoin="round"/>
<ellipse cx="693.9" cy="350.2" rx="3.6" ry="5.4" transform="rotate(-20 693.9 350.2)" fill="#fff" stroke="#000" stroke-width="0.9"/>
<polygon points="696.6,346.6 707.4,346.6 707.4,359.2 696.6,359.2" fill="#fff" stroke="#000" stroke-width="1.0" stroke-linejoin="round"/>
<ellipse cx="702.0" cy="344.8" rx="6.3" ry="3.15" transform="rotate(0 702.0 344.8)" fill="#fff" stroke="#000" stroke-width="1.0"/>
<ellipse cx="702.0" cy="341.2" rx="6.75" ry="4.5" transform="rotate(0 702.0 341.2)" fill="#fff" stroke="#000" stroke-width="1.1"/>
<ellipse cx="702.0" cy="340.3" rx="4.05" ry="2.3400000000000003" transform="rotate(0 702.0 340.3)" fill="#fff" stroke="#000" stroke-width="0.8"/>
<ellipse cx="709.2" cy="353.8" rx="3.15" ry="4.05" transform="rotate(-30 709.2 353.8)" fill="#fff" stroke="#000" stroke-width="0.9"/>
<ellipse cx="699.3" cy="355.6" rx="2.7" ry="3.15" transform="rotate(0 699.3 355.6)" fill="#fff" stroke="#000" stroke-width="0.9"/>
<polygon points="701.1,359.2 704.7,359.2 704.7,366.4 701.1,366.4" fill="#fff" stroke="#000" stroke-width="0.9" stroke-linejoin="round"/>
<ellipse cx="761.9" cy="312.2" rx="3.6" ry="5.4" transform="rotate(-20 761.9 312.2)" fill="#fff" stroke="#000" stroke-width="0.9"/>
<polygon points="764.6,308.6 775.4,308.6 775.4,321.2 764.6,321.2" fill="#fff" stroke="#000" stroke-width="1.0" stroke-linejoin="round"/>
<ellipse cx="770.0" cy="306.8" rx="6.3" ry="3.15" transform="rotate(0 770.0 306.8)" fill="#fff" stroke="#000" stroke-width="1.0"/>
<ellipse cx="770.0" cy="303.2" rx="6.75" ry="4.5" transform="rotate(0 770.0 303.2)" fill="#fff" stroke="#000" stroke-width="1.1"/>
<ellipse cx="770.0" cy="302.3" rx="4.05" ry="2.3400000000000003" transform="rotate(0 770.0 302.3)" fill="#fff" stroke="#000" stroke-width="0.8"/>
<ellipse cx="777.2" cy="315.8" rx="3.15" ry="4.05" transform="rotate(-30 777.2 315.8)" fill="#fff" stroke="#000" stroke-width="0.9"/>
<ellipse cx="767.3" cy="317.6" rx="2.7" ry="3.15" transform="rotate(0 767.3 317.6)" fill="#fff" stroke="#000" stroke-width="0.9"/>
<polygon points="769.1,321.2 772.7,321.2 772.7,328.4 769.1,328.4" fill="#fff" stroke="#000" stroke-width="0.9" stroke-linejoin="round"/>
<polygon points="497.0,497.0 505.0,500.0 505.0,507.0 497.0,505.0" fill="#fff" stroke="#000" stroke-width="0.9" stroke-linejoin="round"/>
<polygon points="497.0,505.0 505.0,512.0 513.0,508.0 505.0,503.0" fill="#fff" stroke="#000" stroke-width="0.9" stroke-linejoin="round"/>
<polygon points="565.0,458.0 573.0,461.0 573.0,468.0 565.0,466.0" fill="#fff" stroke="#000" stroke-width="0.9" stroke-linejoin="round"/>
<polygon points="565.0,466.0 573.0,473.0 581.0,469.0 573.0,464.0" fill="#fff" stroke="#000" stroke-width="0.9" stroke-linejoin="round"/>
<polygon points="713.0,374.0 721.0,377.0 721.0,384.0 713.0,382.0" fill="#fff" stroke="#000" stroke-width="0.9" stroke-linejoin="round"/>
<polygon points="713.0,382.0 721.0,389.0 729.0,385.0 721.0,380.0" fill="#fff" stroke="#000" stroke-width="0.9" stroke-linejoin="round"/>
<polygon points="779.0,336.0 787.0,339.0 787.0,346.0 779.0,344.0" fill="#fff" stroke="#000" stroke-width="0.9" stroke-linejoin="round"/>
<polygon points="779.0,344.0 787.0,351.0 795.0,347.0 787.0,342.0" fill="#fff" stroke="#000" stroke-width="0.9" stroke-linejoin="round"/>
<polygon points="800.0,300.0 812.0,296.0 822.0,320.0 832.0,325.0 826.0,332.0 812.0,326.0 803.0,308.0" fill="#fff" stroke="#000" stroke-width="1.0" stroke-linejoin="round"/>
<ellipse cx="806.0" cy="289.0" rx="10" ry="3.5" transform="rotate(-28 806.0 289.0)" fill="#fff" stroke="#000" stroke-width="1.0"/>
<polygon points="792.2,297.7 798.3,294.2 801.8,300.3 795.7,303.8" fill="#fff" stroke="#000" stroke-width="1.0" stroke-linejoin="round"/>
<line x1="793.2" y1="299.4" x2="799.2" y2="295.9" stroke="#000" stroke-width="0.6"/>
<line x1="794.8" y1="302.1" x2="800.8" y2="298.6" stroke="#000" stroke-width="0.6"/>
<polygon points="655.4,338.0 662.8,338.0 662.8,445.0 655.0,445.0 651.0,440.0 651.0,418.0 655.4,413.0" fill="#fff" stroke="#000" stroke-width="1.0" stroke-linejoin="round"/>
<polygon points="700.7,328.0 708.2,325.0 708.2,418.0 701.5,421.0 695.5,417.0 695.5,404.0 700.7,398.0" fill="#fff" stroke="#000" stroke-width="1.0" stroke-linejoin="round"/>
<circle cx="653.5" cy="432.0" r="1.3" fill="#fff" stroke="#000" stroke-width="0.8"/>
<circle cx="698.5" cy="411.0" r="1.3" fill="#fff" stroke="#000" stroke-width="0.8"/>
<polygon points="657.6,313.1 708.2,284.9 708.2,325.0 657.6,351.0" fill="#fff" stroke="#000" stroke-width="1.1" stroke-linejoin="round"/>
<ellipse cx="675.1" cy="313.5" rx="6" ry="8" transform="rotate(15 675.1 313.5)" fill="#fff" stroke="#000" stroke-width="1.0"/>
<ellipse cx="686.6" cy="320.5" rx="2.2" ry="1.6" transform="rotate(0 686.6 320.5)" fill="#fff" stroke="#000" stroke-width="0.8"/>
<circle cx="691.0" cy="299.7" r="0.7" fill="#000" stroke="#000" stroke-width="0.6"/>
<circle cx="706.0" cy="305.0" r="0.7" fill="#000" stroke="#000" stroke-width="0.6"/>
<circle cx="704.0" cy="292.0" r="0.7" fill="#000" stroke="#000" stroke-width="0.6"/>
<circle cx="689.0" cy="313.0" r="0.7" fill="#000" stroke="#000" stroke-width="0.6"/>
<line x1="671.0" y1="345.0" x2="671.0" y2="395.0" stroke="#000" stroke-width="2.2"/>
<line x1="449.0" y1="97.5" x2="449.0" y2="160.0" stroke="#000" stroke-width="1.0" stroke-dasharray="6,2,1.5,2"/>
<polygon points="446.0,158.0 452.0,158.0 449.0,169.0" fill="#000" stroke="#000" stroke-width="0.8" stroke-linejoin="round"/>
<line x1="516.0" y1="98.5" x2="516.0" y2="123.0" stroke="#000" stroke-width="1.0" stroke-dasharray="6,2,1.5,2"/>
<polygon points="513.0,121.0 519.0,121.0 516.0,132.0" fill="#000" stroke="#000" stroke-width="0.8" stroke-linejoin="round"/>
<line x1="382.0" y1="126.5" x2="382.0" y2="199.0" stroke="#000" stroke-width="1.0" stroke-dasharray="6,2,1.5,2"/>
<polygon points="379.0,197.0 385.0,197.0 382.0,208.0" fill="#000" stroke="#000" stroke-width="0.8" stroke-linejoin="round"/>
<line x1="288.5" y1="181.5" x2="288.5" y2="255.0" stroke="#000" stroke-width="1.0" stroke-dasharray="6,2,1.5,2"/>
<polygon points="285.5,253.0 291.5,253.0 288.5,264.0" fill="#000" stroke="#000" stroke-width="0.8" stroke-linejoin="round"/>
<line x1="228.0" y1="216.0" x2="228.0" y2="291.0" stroke="#000" stroke-width="1.0" stroke-dasharray="6,2,1.5,2"/>
<polygon points="225.0,289.0 231.0,289.0 228.0,300.0" fill="#000" stroke="#000" stroke-width="0.8" stroke-linejoin="round"/>
<line x1="690.0" y1="184.5" x2="690.0" y2="224.0" stroke="#000" stroke-width="1.0" stroke-dasharray="6,2,1.5,2"/>
<polygon points="687.0,222.0 693.0,222.0 690.0,233.0" fill="#000" stroke="#000" stroke-width="0.8" stroke-linejoin="round"/>
<line x1="621.0" y1="224.5" x2="621.0" y2="264.0" stroke="#000" stroke-width="1.0" stroke-dasharray="6,2,1.5,2"/>
<polygon points="618.0,262.0 624.0,262.0 621.0,273.0" fill="#000" stroke="#000" stroke-width="0.8" stroke-linejoin="round"/>
<line x1="556.4" y1="261.7" x2="556.4" y2="301.0" stroke="#000" stroke-width="1.0" stroke-dasharray="6,2,1.5,2"/>
<polygon points="553.4,299.0 559.4,299.0 556.4,310.0" fill="#000" stroke="#000" stroke-width="0.8" stroke-linejoin="round"/>
<line x1="472.7" y1="310.1" x2="472.7" y2="348.0" stroke="#000" stroke-width="1.0" stroke-dasharray="6,2,1.5,2"/>
<polygon points="469.7,346.0 475.7,346.0 472.7,357.0" fill="#000" stroke="#000" stroke-width="0.8" stroke-linejoin="round"/>
<line x1="410.4" y1="346.4" x2="410.4" y2="384.0" stroke="#000" stroke-width="1.0" stroke-dasharray="6,2,1.5,2"/>
<polygon points="407.4,382.0 413.4,382.0 410.4,393.0" fill="#000" stroke="#000" stroke-width="0.8" stroke-linejoin="round"/>
<polygon points="158.3,528.5 158.3,531.5 206.3,558.6 296.3,507.3 296.3,504.3 206.3,555.6" fill="#fff" stroke="#000" stroke-width="1.0" stroke-linejoin="round"/>
<polygon points="158.3,528.5 248.3,477.0 296.3,504.3 206.3,555.6" fill="#fff" stroke="#000" stroke-width="1.0" stroke-linejoin="round"/>
<polygon points="175.7,526.5 244.9,486.9 278.9,506.3 209.7,545.7" fill="#fff" stroke="#000" stroke-width="0.9" stroke-linejoin="round"/>
<line x1="171.3" y1="524.0" x2="240.5" y2="484.4" stroke="#000" stroke-width="0.6"/>
<line x1="214.1" y1="548.2" x2="283.3" y2="508.8" stroke="#000" stroke-width="0.6"/>
<circle cx="166.1" cy="528.0" r="1.4" fill="#fff" stroke="#000" stroke-width="0.8"/>
<circle cx="247.4" cy="481.4" r="1.4" fill="#fff" stroke="#000" stroke-width="0.8"/>
<circle cx="288.5" cy="504.8" r="1.4" fill="#fff" stroke="#000" stroke-width="0.8"/>
<circle cx="207.2" cy="551.2" r="1.4" fill="#fff" stroke="#000" stroke-width="0.8"/>
<polygon points="245.6,579.5 245.6,582.5 396.6,667.0 484.5,615.5 484.5,612.5 396.6,664.0" fill="#fff" stroke="#000" stroke-width="1.0" stroke-linejoin="round"/>
<polygon points="245.6,579.5 333.5,528.0 484.5,612.5 396.6,664.0" fill="#fff" stroke="#000" stroke-width="1.0" stroke-linejoin="round"/>
<polygon points="262.1,576.9 329.3,537.5 468.0,615.1 400.8,654.5" fill="#fff" stroke="#000" stroke-width="0.9" stroke-linejoin="round"/>
<line x1="258.6" y1="574.9" x2="325.8" y2="535.5" stroke="#000" stroke-width="0.6"/>
<line x1="404.3" y1="656.5" x2="471.5" y2="617.1" stroke="#000" stroke-width="0.6"/>
<circle cx="253.4" cy="578.9" r="1.4" fill="#fff" stroke="#000" stroke-width="0.8"/>
<circle cx="332.7" cy="532.5" r="1.4" fill="#fff" stroke="#000" stroke-width="0.8"/>
<circle cx="476.7" cy="613.1" r="1.4" fill="#fff" stroke="#000" stroke-width="0.8"/>
<circle cx="397.4" cy="659.5" r="1.4" fill="#fff" stroke="#000" stroke-width="0.8"/>
<polygon points="556.0,616.7 556.0,619.7 602.7,648.2 803.9,531.4 803.9,528.4 602.7,645.2" fill="#fff" stroke="#000" stroke-width="1.0" stroke-linejoin="round"/>
<polygon points="556.0,616.7 755.9,501.2 803.9,528.4 602.7,645.2" fill="#fff" stroke="#000" stroke-width="1.0" stroke-linejoin="round"/>
<polygon points="571.5,613.8 750.6,510.3 788.4,531.3 608.0,636.1" fill="#fff" stroke="#000" stroke-width="0.9" stroke-linejoin="round"/>
<line x1="569.0" y1="612.3" x2="748.1" y2="508.8" stroke="#000" stroke-width="0.6"/>
<line x1="610.5" y1="637.6" x2="790.9" y2="532.8" stroke="#000" stroke-width="0.6"/>
<circle cx="563.7" cy="616.3" r="1.4" fill="#fff" stroke="#000" stroke-width="0.8"/>
<circle cx="755.0" cy="505.8" r="1.4" fill="#fff" stroke="#000" stroke-width="0.8"/>
<circle cx="796.2" cy="528.8" r="1.4" fill="#fff" stroke="#000" stroke-width="0.8"/>
<circle cx="603.6" cy="640.6" r="1.4" fill="#fff" stroke="#000" stroke-width="0.8"/>
<polygon points="434.0,686.8 434.0,689.8 482.0,717.5 571.6,666.4 571.6,663.4 482.0,714.5" fill="#fff" stroke="#000" stroke-width="1.0" stroke-linejoin="round"/>
<polygon points="434.0,686.8 523.6,634.9 571.6,663.4 482.0,714.5" fill="#fff" stroke="#000" stroke-width="1.0" stroke-linejoin="round"/>
<polygon points="449.6,684.8 520.1,643.9 556.0,665.4 485.5,705.5" fill="#fff" stroke="#000" stroke-width="0.9" stroke-linejoin="round"/>
<line x1="446.1" y1="682.8" x2="516.7" y2="641.9" stroke="#000" stroke-width="0.6"/>
<line x1="488.9" y1="707.5" x2="559.5" y2="667.4" stroke="#000" stroke-width="0.6"/>
<circle cx="441.8" cy="686.3" r="1.4" fill="#fff" stroke="#000" stroke-width="0.8"/>
<circle cx="522.7" cy="639.4" r="1.4" fill="#fff" stroke="#000" stroke-width="0.8"/>
<circle cx="563.8" cy="663.9" r="1.4" fill="#fff" stroke="#000" stroke-width="0.8"/>
<circle cx="482.9" cy="710.0" r="1.4" fill="#fff" stroke="#000" stroke-width="0.8"/>
<polygon points="156.1,636.0 176.8,626.0 326.2,709.4 322.0,714.5 305.0,722.7 156.1,642.5" fill="#fff" stroke="#000" stroke-width="1.0" stroke-linejoin="round"/>
<polygon points="156.1,633.5 176.8,623.5 326.2,706.9 322.0,712.0 305.0,720.2 156.1,640.0" fill="#fff" stroke="#000" stroke-width="1.0" stroke-linejoin="round"/>
<circle cx="160.0" cy="636.0" r="1.4" fill="#fff" stroke="#000" stroke-width="0.8"/>
<circle cx="177.0" cy="626.0" r="1.4" fill="#fff" stroke="#000" stroke-width="0.8"/>
<ellipse cx="185.0" cy="642.0" rx="3" ry="2" transform="rotate(-30 185.0 642.0)" fill="#fff" stroke="#000" stroke-width="0.8"/>
<ellipse cx="205.0" cy="653.0" rx="3" ry="2" transform="rotate(-30 205.0 653.0)" fill="#fff" stroke="#000" stroke-width="0.8"/>
<ellipse cx="228.0" cy="666.0" rx="2.5" ry="1.8" transform="rotate(-30 228.0 666.0)" fill="#fff" stroke="#000" stroke-width="0.8"/>
<ellipse cx="248.0" cy="677.0" rx="3" ry="2" transform="rotate(-30 248.0 677.0)" fill="#fff" stroke="#000" stroke-width="0.8"/>
<ellipse cx="269.0" cy="690.0" rx="3" ry="2" transform="rotate(-30 269.0 690.0)" fill="#fff" stroke="#000" stroke-width="0.8"/>
<ellipse cx="289.0" cy="702.0" rx="3" ry="2" transform="rotate(-30 289.0 702.0)" fill="#fff" stroke="#000" stroke-width="0.8"/>
<circle cx="203.0" cy="665.0" r="1.4" fill="#fff" stroke="#000" stroke-width="0.8"/>
<circle cx="287.0" cy="688.0" r="1.4" fill="#fff" stroke="#000" stroke-width="0.8"/>
<circle cx="318.0" cy="708.0" r="1.4" fill="#fff" stroke="#000" stroke-width="0.8"/>
<circle cx="292.0" cy="716.0" r="1.4" fill="#fff" stroke="#000" stroke-width="0.8"/>
<polygon points="71.7,597.6 100.0,582.6 141.8,603.5 141.8,608.5 133.0,616.0 113.0,621.0" fill="#fff" stroke="#000" stroke-width="1.0" stroke-linejoin="round"/>
<polygon points="71.7,595.1 100.0,580.1 141.8,601.0 141.8,606.0 133.0,613.5 113.0,618.5" fill="#fff" stroke="#000" stroke-width="1.0" stroke-linejoin="round"/>
<circle cx="101.0" cy="583.0" r="1.4" fill="#fff" stroke="#000" stroke-width="0.8"/>
<circle cx="80.0" cy="595.0" r="1.4" fill="#fff" stroke="#000" stroke-width="0.8"/>
<circle cx="136.0" cy="601.0" r="1.4" fill="#fff" stroke="#000" stroke-width="0.8"/>
<circle cx="114.0" cy="614.0" r="1.4" fill="#fff" stroke="#000" stroke-width="0.8"/>
<ellipse cx="102.0" cy="594.5" rx="3" ry="2" transform="rotate(-30 102.0 594.5)" fill="#fff" stroke="#000" stroke-width="0.8"/>
<ellipse cx="117.0" cy="603.5" rx="3" ry="2" transform="rotate(-30 117.0 603.5)" fill="#fff" stroke="#000" stroke-width="0.8"/>
<polygon points="344.1,745.2 359.1,736.6 374.5,736.6 414.5,759.7 414.5,762.5 384.5,779.5 344.1,754.7" fill="#fff" stroke="#000" stroke-width="1.0" stroke-linejoin="round"/>
<polygon points="344.1,742.7 359.1,734.1 374.5,734.1 414.5,757.2 414.5,760.0 384.5,777.0 344.1,752.2" fill="#fff" stroke="#000" stroke-width="1.0" stroke-linejoin="round"/>
<circle cx="349.0" cy="750.4" r="1.4" fill="#fff" stroke="#000" stroke-width="0.8"/>
<circle cx="373.6" cy="738.6" r="1.4" fill="#fff" stroke="#000" stroke-width="0.8"/>
<circle cx="407.2" cy="757.7" r="1.4" fill="#fff" stroke="#000" stroke-width="0.8"/>
<circle cx="385.8" cy="772.2" r="1.4" fill="#fff" stroke="#000" stroke-width="0.8"/>
<ellipse cx="368.1" cy="748.2" rx="3" ry="2" transform="rotate(-30 368.1 748.2)" fill="#fff" stroke="#000" stroke-width="0.8"/>
<ellipse cx="384.0" cy="756.8" rx="3" ry="2" transform="rotate(-30 384.0 756.8)" fill="#fff" stroke="#000" stroke-width="0.8"/>
<path d="M1440.5,256.3 C1468.8,256.3 1491.0,284.9 1491.0,321.4 C1491.0,361.9 1458.9,393.7 1418.1,393.7 C1390.1,393.7 1368.1,372.4 1368.1,345.2 C1368.1,295.4 1400.0,256.3 1440.5,256.3Z" fill="#fff" stroke="#000" stroke-width="1.1" stroke-linejoin="round" stroke-linecap="round" />
<line x1="1418.0" y1="238.5" x2="1450.0" y2="256.8" stroke="#000" stroke-width="1.1"/>
<line x1="1273.5" y1="322.0" x2="1380.0" y2="381.0" stroke="#000" stroke-width="1.1"/>
<ellipse cx="1469.0" cy="350.3" rx="6.5" ry="9.0" transform="rotate(20 1469.0 350.3)" fill="#fff" stroke="#000" stroke-width="0.7"/>
<ellipse cx="1475.0" cy="353.3" rx="6.0" ry="7.5" transform="rotate(20 1475.0 353.3)" fill="#fff" stroke="#000" stroke-width="1.0"/>
<ellipse cx="1475.0" cy="353.3" rx="3.5" ry="4.5" transform="rotate(20 1475.0 353.3)" fill="#fff" stroke="#000" stroke-width="0.8"/>
<path d="M1170.6,401.8 C1198.9,401.8 1221.1,430.4 1221.1,466.9 C1221.1,507.4 1189.0,539.2 1148.2,539.2 C1120.2,539.2 1098.2,517.9 1098.2,490.7 C1098.2,440.9 1130.1,401.8 1170.6,401.8Z" fill="#fff" stroke="#000" stroke-width="1.1" stroke-linejoin="round" stroke-linecap="round" />
<line x1="1071.9" y1="338.8" x2="1180.1" y2="402.3" stroke="#000" stroke-width="1.1"/>
<line x1="1023.0" y1="478.0" x2="1110.1" y2="526.5" stroke="#000" stroke-width="1.1"/>
<ellipse cx="1199.1" cy="495.8" rx="6.5" ry="9.0" transform="rotate(20 1199.1 495.8)" fill="#fff" stroke="#000" stroke-width="0.7"/>
<ellipse cx="1205.1" cy="498.8" rx="6.0" ry="7.5" transform="rotate(20 1205.1 498.8)" fill="#fff" stroke="#000" stroke-width="1.0"/>
<ellipse cx="1205.1" cy="498.8" rx="3.5" ry="4.5" transform="rotate(20 1205.1 498.8)" fill="#fff" stroke="#000" stroke-width="0.8"/>
<path d="M966.4,580.5 C994.7,580.5 1016.9,609.1 1016.9,645.6 C1016.9,686.1 984.8,717.9 944.0,717.9 C916.0,717.9 894.0,696.6 894.0,669.4 C894.0,619.6 925.9,580.5 966.4,580.5Z" fill="#fff" stroke="#000" stroke-width="1.1" stroke-linejoin="round" stroke-linecap="round" />
<line x1="868.2" y1="518.2" x2="975.9" y2="581.0" stroke="#000" stroke-width="1.1"/>
<line x1="798.8" y1="645.7" x2="905.9" y2="705.2" stroke="#000" stroke-width="1.1"/>
<ellipse cx="994.9" cy="674.5" rx="6.5" ry="9.0" transform="rotate(20 994.9 674.5)" fill="#fff" stroke="#000" stroke-width="0.7"/>
<ellipse cx="1000.9" cy="677.5" rx="6.0" ry="7.5" transform="rotate(20 1000.9 677.5)" fill="#fff" stroke="#000" stroke-width="1.0"/>
<ellipse cx="1000.9" cy="677.5" rx="3.5" ry="4.5" transform="rotate(20 1000.9 677.5)" fill="#fff" stroke="#000" stroke-width="0.8"/>
<path d="M677.0,765.6 C705.3,765.6 727.5,794.2 727.5,830.7 C727.5,871.2 695.4,903.0 654.6,903.0 C626.6,903.0 604.6,881.7 604.6,854.5 C604.6,804.7 636.5,765.6 677.0,765.6Z" fill="#fff" stroke="#000" stroke-width="1.1" stroke-linejoin="round" stroke-linecap="round" />
<line x1="578.2" y1="703.8" x2="686.5" y2="766.1" stroke="#000" stroke-width="1.1"/>
<line x1="508.8" y1="830.7" x2="616.5" y2="890.3" stroke="#000" stroke-width="1.1"/>
<ellipse cx="705.5" cy="859.6" rx="6.5" ry="9.0" transform="rotate(20 705.5 859.6)" fill="#fff" stroke="#000" stroke-width="0.7"/>
<ellipse cx="711.5" cy="862.6" rx="6.0" ry="7.5" transform="rotate(20 711.5 862.6)" fill="#fff" stroke="#000" stroke-width="1.0"/>
<ellipse cx="711.5" cy="862.6" rx="3.5" ry="4.5" transform="rotate(20 711.5 862.6)" fill="#fff" stroke="#000" stroke-width="0.8"/>
<path d="M486.4,924.4 C514.7,924.4 536.9,953.0 536.9,989.5 C536.9,1030.0 504.8,1061.8 464.0,1061.8 C436.0,1061.8 414.0,1040.5 414.0,1013.3 C414.0,963.5 445.9,924.4 486.4,924.4Z" fill="#fff" stroke="#000" stroke-width="1.1" stroke-linejoin="round" stroke-linecap="round" />
<line x1="388.2" y1="862.8" x2="495.9" y2="924.9" stroke="#000" stroke-width="1.1"/>
<line x1="318.8" y1="989.6" x2="425.9" y2="1049.1" stroke="#000" stroke-width="1.1"/>
<ellipse cx="514.9" cy="1018.4" rx="6.5" ry="9.0" transform="rotate(20 514.9 1018.4)" fill="#fff" stroke="#000" stroke-width="0.7"/>
<ellipse cx="520.9" cy="1021.4" rx="6.0" ry="7.5" transform="rotate(20 520.9 1021.4)" fill="#fff" stroke="#000" stroke-width="1.0"/>
<ellipse cx="520.9" cy="1021.4" rx="3.5" ry="4.5" transform="rotate(20 520.9 1021.4)" fill="#fff" stroke="#000" stroke-width="0.8"/>
<polyline points="1475.0,353.0 1529.0,384.0" fill="none" stroke="#000" stroke-width="0.9" stroke-linejoin="round" stroke-dasharray="7,2,1.5,2"/>
<polyline points="1575.0,404.0 1611.0,386.0" fill="none" stroke="#000" stroke-width="0.9" stroke-linejoin="round" stroke-dasharray="7,2,1.5,2"/>
<polyline points="1552.0,412.0 1527.0,424.0" fill="none" stroke="#000" stroke-width="0.9" stroke-linejoin="round" stroke-dasharray="7,2,1.5,2"/>
<polyline points="1458.0,518.0 1458.0,588.0" fill="none" stroke="#000" stroke-width="0.9" stroke-linejoin="round" stroke-dasharray="7,2,1.5,2"/>
<polyline points="1205.0,499.0 1320.0,564.0" fill="none" stroke="#000" stroke-width="0.9" stroke-linejoin="round" stroke-dasharray="7,2,1.5,2"/>
<polyline points="1367.0,581.0 1402.0,566.0" fill="none" stroke="#000" stroke-width="0.9" stroke-linejoin="round" stroke-dasharray="7,2,1.5,2"/>
<polyline points="1343.0,592.0 1280.0,629.0" fill="none" stroke="#000" stroke-width="0.9" stroke-linejoin="round" stroke-dasharray="7,2,1.5,2"/>
<polyline points="1001.0,678.0 1045.0,703.0" fill="none" stroke="#000" stroke-width="0.9" stroke-linejoin="round" stroke-dasharray="7,2,1.5,2"/>
<polyline points="1093.0,714.0 1112.0,715.0" fill="none" stroke="#000" stroke-width="0.9" stroke-linejoin="round" stroke-dasharray="7,2,1.5,2"/>
<polyline points="1095.0,706.0 1135.0,691.0" fill="none" stroke="#000" stroke-width="0.9" stroke-linejoin="round" stroke-dasharray="7,2,1.5,2"/>
<polyline points="1068.0,731.0 1046.0,745.0" fill="none" stroke="#000" stroke-width="0.9" stroke-linejoin="round" stroke-dasharray="7,2,1.5,2"/>
<polyline points="1191.0,474.0 1191.0,538.0" fill="none" stroke="#000" stroke-width="0.9" stroke-linejoin="round" stroke-dasharray="7,2,1.5,2"/>
<polyline points="712.0,863.0 760.0,890.0" fill="none" stroke="#000" stroke-width="0.9" stroke-linejoin="round" stroke-dasharray="7,2,1.5,2"/>
<polyline points="808.0,907.0 829.0,901.0" fill="none" stroke="#000" stroke-width="0.9" stroke-linejoin="round" stroke-dasharray="7,2,1.5,2"/>
<polyline points="783.0,914.0 758.0,930.0" fill="none" stroke="#000" stroke-width="0.9" stroke-linejoin="round" stroke-dasharray="7,2,1.5,2"/>
<polyline points="521.0,1021.0 545.0,1033.0" fill="none" stroke="#000" stroke-width="0.9" stroke-linejoin="round" stroke-dasharray="7,2,1.5,2"/>
<polyline points="593.0,1054.0 625.0,1036.0" fill="none" stroke="#000" stroke-width="0.9" stroke-linejoin="round" stroke-dasharray="7,2,1.5,2"/>
<polyline points="568.0,1060.0 541.5,1076.0" fill="none" stroke="#000" stroke-width="0.9" stroke-linejoin="round" stroke-dasharray="7,2,1.5,2"/>
<polyline points="626.0,1087.0 670.0,1059.0" fill="none" stroke="#000" stroke-width="0.9" stroke-linejoin="round" stroke-dasharray="7,2,1.5,2"/>
<polyline points="705.0,1040.0 714.0,1034.0" fill="none" stroke="#000" stroke-width="0.9" stroke-linejoin="round" stroke-dasharray="7,2,1.5,2"/>
<polyline points="1440.0,617.0 1390.0,644.0" fill="none" stroke="#000" stroke-width="0.9" stroke-linejoin="round" stroke-dasharray="7,2,1.5,2"/>
<polyline points="1475.0,597.0 1504.0,580.0" fill="none" stroke="#000" stroke-width="0.9" stroke-linejoin="round" stroke-dasharray="7,2,1.5,2"/>
<polyline points="1628.0,447.0 1681.0,413.0" fill="none" stroke="#000" stroke-width="0.9" stroke-linejoin="round" stroke-dasharray="7,2,1.5,2"/>
<polyline points="1001.0,870.0 1064.0,833.0" fill="none" stroke="#000" stroke-width="0.9" stroke-linejoin="round" stroke-dasharray="7,2,1.5,2"/>
<polyline points="1124.0,508.0 1156.0,527.0" fill="none" stroke="#000" stroke-width="0.9" stroke-linejoin="round" stroke-dasharray="7,2,1.5,2"/>
<polyline points="1156.0,527.0 1114.0,551.0 1130.0,560.0" fill="none" stroke="#000" stroke-width="0.9" stroke-linejoin="round" stroke-dasharray="4,3"/>
<polyline points="1195.0,757.0 1183.0,765.0" fill="none" stroke="#000" stroke-width="0.9" stroke-linejoin="round" stroke-dasharray="7,2,1.5,2"/>
<path d="M1611.0,386.0 L1638.2,369.1 Q1640.0,368.0 1641.5,369.5 L1641.5,369.5 Q1643.0,371.0 1642.2,373.0 L1634.5,393.5 Q1632.0,400.0 1631.1,406.9 L1628.0,430.0" fill="none" stroke="#000" stroke-width="8" stroke-linejoin="round" stroke-linecap="butt"/>
<path d="M1611.0,386.0 L1638.2,369.1 Q1640.0,368.0 1641.5,369.5 L1641.5,369.5 Q1643.0,371.0 1642.2,373.0 L1634.5,393.5 Q1632.0,400.0 1631.1,406.9 L1628.0,430.0" fill="none" stroke="#fff" stroke-width="6" stroke-linejoin="round" stroke-linecap="butt"/>
<path d="M1527.0,424.0 L1514.0,427.4 Q1508.0,429.0 1502.0,430.5 L1501.7,430.6 Q1496.0,432.0 1493.0,427.0 L1493.0,427.0 Q1490.0,422.0 1489.5,416.2 L1488.5,403.7 Q1488.0,397.0 1485.0,391.0 L1484.7,390.4 Q1482.0,385.0 1476.0,384.0 L1476.0,384.0 Q1470.0,383.0 1465.0,386.5 L1465.0,386.5 Q1460.0,390.0 1459.2,396.0 L1458.9,398.1 Q1458.0,405.0 1458.0,412.0 L1458.0,505.0" fill="none" stroke="#000" stroke-width="8" stroke-linejoin="round" stroke-linecap="butt"/>
<path d="M1527.0,424.0 L1514.0,427.4 Q1508.0,429.0 1502.0,430.5 L1501.7,430.6 Q1496.0,432.0 1493.0,427.0 L1493.0,427.0 Q1490.0,422.0 1489.5,416.2 L1488.5,403.7 Q1488.0,397.0 1485.0,391.0 L1484.7,390.4 Q1482.0,385.0 1476.0,384.0 L1476.0,384.0 Q1470.0,383.0 1465.0,386.5 L1465.0,386.5 Q1460.0,390.0 1459.2,396.0 L1458.9,398.1 Q1458.0,405.0 1458.0,412.0 L1458.0,505.0" fill="none" stroke="#fff" stroke-width="6" stroke-linejoin="round" stroke-linecap="butt"/>
<path d="M1402.0,566.0 L1432.1,550.9 Q1434.0,550.0 1435.5,551.5 L1435.5,551.5 Q1437.0,553.0 1436.3,555.0 L1426.3,583.4 Q1424.0,590.0 1423.0,596.9 L1421.0,610.0" fill="none" stroke="#000" stroke-width="8" stroke-linejoin="round" stroke-linecap="butt"/>
<path d="M1402.0,566.0 L1432.1,550.9 Q1434.0,550.0 1435.5,551.5 L1435.5,551.5 Q1437.0,553.0 1436.3,555.0 L1426.3,583.4 Q1424.0,590.0 1423.0,596.9 L1421.0,610.0" fill="none" stroke="#fff" stroke-width="6" stroke-linejoin="round" stroke-linecap="butt"/>
<path d="M1280.0,629.0 L1263.2,632.7 Q1257.0,634.0 1251.0,632.0 L1251.0,632.0 Q1245.0,630.0 1244.4,623.7 L1242.7,606.8 Q1242.0,600.0 1238.0,594.5 L1238.0,594.5 Q1234.0,589.0 1227.5,591.0 L1227.5,591.0 Q1221.0,593.0 1217.3,598.7 L1215.8,601.1 Q1212.0,607.0 1212.0,614.0 L1212.0,710.0" fill="none" stroke="#000" stroke-width="8" stroke-linejoin="round" stroke-linecap="butt"/>
<path d="M1280.0,629.0 L1263.2,632.7 Q1257.0,634.0 1251.0,632.0 L1251.0,632.0 Q1245.0,630.0 1244.4,623.7 L1242.7,606.8 Q1242.0,600.0 1238.0,594.5 L1238.0,594.5 Q1234.0,589.0 1227.5,591.0 L1227.5,591.0 Q1221.0,593.0 1217.3,598.7 L1215.8,601.1 Q1212.0,607.0 1212.0,614.0 L1212.0,710.0" fill="none" stroke="#fff" stroke-width="6" stroke-linejoin="round" stroke-linecap="butt"/>
<path d="M1112.0,715.0 L1138.1,700.1 Q1140.0,699.0 1142.0,700.0 L1142.0,700.0 Q1144.0,701.0 1143.2,703.1 L1134.5,725.2 Q1133.0,729.0 1131.0,732.5 L1131.0,732.5 Q1129.0,736.0 1129.0,740.0 L1129.0,759.0" fill="none" stroke="#000" stroke-width="8" stroke-linejoin="round" stroke-linecap="butt"/>
<path d="M1112.0,715.0 L1138.1,700.1 Q1140.0,699.0 1142.0,700.0 L1142.0,700.0 Q1144.0,701.0 1143.2,703.1 L1134.5,725.2 Q1133.0,729.0 1131.0,732.5 L1131.0,732.5 Q1129.0,736.0 1129.0,740.0 L1129.0,759.0" fill="none" stroke="#fff" stroke-width="6" stroke-linejoin="round" stroke-linecap="butt"/>
<path d="M1136.0,691.0 L1156.4,679.0 Q1159.0,677.5 1162.0,677.2 L1162.0,677.2 Q1165.0,677.0 1167.6,678.5 L1183.2,687.4 Q1186.0,689.0 1188.5,687.0 L1188.5,687.0 Q1191.0,685.0 1191.0,681.8 L1191.0,545.0" fill="none" stroke="#000" stroke-width="8" stroke-linejoin="round" stroke-linecap="butt"/>
<path d="M1136.0,691.0 L1156.4,679.0 Q1159.0,677.5 1162.0,677.2 L1162.0,677.2 Q1165.0,677.0 1167.6,678.5 L1183.2,687.4 Q1186.0,689.0 1188.5,687.0 L1188.5,687.0 Q1191.0,685.0 1191.0,681.8 L1191.0,545.0" fill="none" stroke="#fff" stroke-width="6" stroke-linejoin="round" stroke-linecap="butt"/>
<path d="M829.0,901.0 L856.4,886.4 Q859.0,885.0 861.5,886.5 L861.5,886.5 Q864.0,888.0 863.2,890.8 L847.0,945.0" fill="none" stroke="#000" stroke-width="8" stroke-linejoin="round" stroke-linecap="butt"/>
<path d="M829.0,901.0 L856.4,886.4 Q859.0,885.0 861.5,886.5 L861.5,886.5 Q864.0,888.0 863.2,890.8 L847.0,945.0" fill="none" stroke="#fff" stroke-width="6" stroke-linejoin="round" stroke-linecap="butt"/>
<path d="M758.0,930.0 L736.6,936.3 Q731.0,938.0 726.0,935.0 L726.0,935.0 Q721.0,932.0 720.5,926.2 L718.6,905.0 Q718.0,898.0 712.3,893.9 L709.7,892.1 Q704.0,888.0 697.8,891.3 L697.2,891.7 Q691.0,895.0 689.0,901.7 L688.0,905.3 Q686.0,912.0 686.0,919.0 L686.0,1012.0" fill="none" stroke="#000" stroke-width="8" stroke-linejoin="round" stroke-linecap="butt"/>
<path d="M758.0,930.0 L736.6,936.3 Q731.0,938.0 726.0,935.0 L726.0,935.0 Q721.0,932.0 720.5,926.2 L718.6,905.0 Q718.0,898.0 712.3,893.9 L709.7,892.1 Q704.0,888.0 697.8,891.3 L697.2,891.7 Q691.0,895.0 689.0,901.7 L688.0,905.3 Q686.0,912.0 686.0,919.0 L686.0,1012.0" fill="none" stroke="#fff" stroke-width="6" stroke-linejoin="round" stroke-linecap="butt"/>
<path d="M625.0,1036.0 L654.8,1020.2 Q657.0,1019.0 659.0,1020.5 L659.0,1020.5 Q661.0,1022.0 660.3,1024.4 L644.0,1080.0" fill="none" stroke="#000" stroke-width="8" stroke-linejoin="round" stroke-linecap="butt"/>
<path d="M625.0,1036.0 L654.8,1020.2 Q657.0,1019.0 659.0,1020.5 L659.0,1020.5 Q661.0,1022.0 660.3,1024.4 L644.0,1080.0" fill="none" stroke="#fff" stroke-width="6" stroke-linejoin="round" stroke-linecap="butt"/>
<path d="M541.5,1076.0 L516.3,1088.0 Q510.0,1091.0 506.7,1097.2 L503.3,1103.8 Q500.0,1110.0 500.0,1117.0 L500.0,1136.6 Q500.0,1143.0 504.0,1148.0 L504.0,1148.1 Q508.0,1153.0 514.0,1151.0 L514.0,1151.0 Q520.0,1149.0 525.5,1145.9 L618.0,1095.0" fill="none" stroke="#000" stroke-width="8" stroke-linejoin="round" stroke-linecap="butt"/>
<path d="M541.5,1076.0 L516.3,1088.0 Q510.0,1091.0 506.7,1097.2 L503.3,1103.8 Q500.0,1110.0 500.0,1117.0 L500.0,1136.6 Q500.0,1143.0 504.0,1148.0 L504.0,1148.1 Q508.0,1153.0 514.0,1151.0 L514.0,1151.0 Q520.0,1149.0 525.5,1145.9 L618.0,1095.0" fill="none" stroke="#fff" stroke-width="6" stroke-linejoin="round" stroke-linecap="butt"/>
<path d="M1390.0,644.0 L1336.1,673.6 Q1330.0,677.0 1323.3,679.0 L1313.7,682.0 Q1307.0,684.0 1300.0,684.3 L1264.0,685.7 Q1257.0,686.0 1250.4,688.3 L1237.4,692.8 Q1234.0,694.0 1233.0,697.5 L1233.0,697.5 Q1232.0,701.0 1235.4,702.4 L1240.5,704.4 Q1247.0,707.0 1253.8,708.5 L1263.2,710.5 Q1270.0,712.0 1264.3,716.0 L1243.0,731.0" fill="none" stroke="#000" stroke-width="8" stroke-linejoin="round" stroke-linecap="butt"/>
<path d="M1390.0,644.0 L1336.1,673.6 Q1330.0,677.0 1323.3,679.0 L1313.7,682.0 Q1307.0,684.0 1300.0,684.3 L1264.0,685.7 Q1257.0,686.0 1250.4,688.3 L1237.4,692.8 Q1234.0,694.0 1233.0,697.5 L1233.0,697.5 Q1232.0,701.0 1235.4,702.4 L1240.5,704.4 Q1247.0,707.0 1253.8,708.5 L1263.2,710.5 Q1270.0,712.0 1264.3,716.0 L1243.0,731.0" fill="none" stroke="#fff" stroke-width="6" stroke-linejoin="round" stroke-linecap="butt"/>
<path d="M1628.0,447.0 L1609.4,459.4 Q1604.0,463.0 1601.5,469.0 L1601.5,469.0 Q1599.0,475.0 1604.5,478.5 L1629.6,494.2 Q1634.0,497.0 1632.5,502.0 L1632.5,502.0 Q1631.0,507.0 1626.5,509.6 L1514.0,574.0" fill="none" stroke="#000" stroke-width="8" stroke-linejoin="round" stroke-linecap="butt"/>
<path d="M1628.0,447.0 L1609.4,459.4 Q1604.0,463.0 1601.5,469.0 L1601.5,469.0 Q1599.0,475.0 1604.5,478.5 L1629.6,494.2 Q1634.0,497.0 1632.5,502.0 L1632.5,502.0 Q1631.0,507.0 1626.5,509.6 L1514.0,574.0" fill="none" stroke="#fff" stroke-width="6" stroke-linejoin="round" stroke-linecap="butt"/>
<path d="M1064.0,833.0 L1183.0,766.0" fill="none" stroke="#000" stroke-width="8" stroke-linejoin="round" stroke-linecap="butt"/>
<path d="M1064.0,833.0 L1183.0,766.0" fill="none" stroke="#fff" stroke-width="6" stroke-linejoin="round" stroke-linecap="butt"/>
<path d="M953.0,898.0 L932.3,908.4 Q926.0,911.5 922.7,917.7 L918.3,925.8 Q915.0,932.0 915.0,939.0 L915.0,972.0 Q915.0,979.0 911.0,984.8 L910.0,986.2 Q906.0,992.0 899.5,994.6 L875.5,1004.4 Q869.0,1007.0 865.1,1001.2 L862.9,997.8 Q859.0,992.0 859.0,985.0 L859.0,972.0 Q859.0,965.0 854.1,960.1 L853.9,959.9 Q849.0,955.0 842.5,957.7 L838.5,959.3 Q832.0,962.0 826.0,965.7 L718.0,1032.0" fill="none" stroke="#000" stroke-width="8" stroke-linejoin="round" stroke-linecap="butt"/>
<path d="M953.0,898.0 L932.3,908.4 Q926.0,911.5 922.7,917.7 L918.3,925.8 Q915.0,932.0 915.0,939.0 L915.0,972.0 Q915.0,979.0 911.0,984.8 L910.0,986.2 Q906.0,992.0 899.5,994.6 L875.5,1004.4 Q869.0,1007.0 865.1,1001.2 L862.9,997.8 Q859.0,992.0 859.0,985.0 L859.0,972.0 Q859.0,965.0 854.1,960.1 L853.9,959.9 Q849.0,955.0 842.5,957.7 L838.5,959.3 Q832.0,962.0 826.0,965.7 L718.0,1032.0" fill="none" stroke="#fff" stroke-width="6" stroke-linejoin="round" stroke-linecap="butt"/>
<path d="M982.5,813.0 L982.5,848.0" fill="none" stroke="#000" stroke-width="8" stroke-linejoin="round" stroke-linecap="butt"/>
<path d="M982.5,813.0 L982.5,848.0" fill="none" stroke="#fff" stroke-width="6" stroke-linejoin="round" stroke-linecap="butt"/>
<path d="M981.5,744.0 L981.5,621.0 Q981.5,614.0 977.9,608.0 L976.6,606.0 Q973.0,600.0 966.9,596.5 L949.1,586.5 Q943.0,583.0 938.6,577.6 L932.0,569.6 Q929.0,566.0 931.5,562.0 L931.5,562.0 Q934.0,558.0 937.7,555.1 L957.0,540.0" fill="none" stroke="#000" stroke-width="8" stroke-linejoin="round" stroke-linecap="butt"/>
<path d="M981.5,744.0 L981.5,621.0 Q981.5,614.0 977.9,608.0 L976.6,606.0 Q973.0,600.0 966.9,596.5 L949.1,586.5 Q943.0,583.0 938.6,577.6 L932.0,569.6 Q929.0,566.0 931.5,562.0 L931.5,562.0 Q934.0,558.0 937.7,555.1 L957.0,540.0" fill="none" stroke="#fff" stroke-width="6" stroke-linejoin="round" stroke-linecap="butt"/>
<path d="M1016.6,507.4 L1021.8,506.2 Q1027.0,505.0 1031.6,502.3 L1051.0,490.6 Q1057.0,487.0 1064.0,487.0 L1071.0,487.0 Q1078.0,487.0 1084.4,489.9 L1113.5,503.4 Q1117.0,505.0 1120.5,506.5 L1124.0,508.0" fill="none" stroke="#000" stroke-width="8" stroke-linejoin="round" stroke-linecap="butt"/>
<path d="M1016.6,507.4 L1021.8,506.2 Q1027.0,505.0 1031.6,502.3 L1051.0,490.6 Q1057.0,487.0 1064.0,487.0 L1071.0,487.0 Q1078.0,487.0 1084.4,489.9 L1113.5,503.4 Q1117.0,505.0 1120.5,506.5 L1124.0,508.0" fill="none" stroke="#fff" stroke-width="6" stroke-linejoin="round" stroke-linecap="butt"/>
<path d="M1013.0,762.0 L1042.0,745.0" fill="none" stroke="#000" stroke-width="8" stroke-linejoin="round" stroke-linecap="butt"/>
<path d="M1013.0,762.0 L1042.0,745.0" fill="none" stroke="#fff" stroke-width="6" stroke-linejoin="round" stroke-linecap="butt"/>
<polygon points="1603.2,382.4 1611.8,377.4 1618.8,389.6 1610.2,394.6" fill="#fff" stroke="#000" stroke-width="1.0" stroke-linejoin="round"/>
<line x1="1605.1" y1="385.8" x2="1613.8" y2="380.8" stroke="#000" stroke-width="0.7"/>
<line x1="1608.2" y1="391.2" x2="1616.9" y2="386.2" stroke="#000" stroke-width="0.7"/>
<ellipse cx="1615.3" cy="383.5" rx="5.384615384615384" ry="7.0" transform="rotate(-30 1615.3 383.5)" fill="#fff" stroke="#000" stroke-width="0.9"/>
<polygon points="1534.8,427.6 1526.2,432.6 1519.2,420.4 1527.8,415.4" fill="#fff" stroke="#000" stroke-width="1.0" stroke-linejoin="round"/>
<line x1="1532.9" y1="424.2" x2="1524.2" y2="429.2" stroke="#000" stroke-width="0.7"/>
<line x1="1529.8" y1="418.8" x2="1521.1" y2="423.8" stroke="#000" stroke-width="0.7"/>
<ellipse cx="1522.7" cy="426.5" rx="5.384615384615384" ry="7.0" transform="rotate(150 1522.7 426.5)" fill="#fff" stroke="#000" stroke-width="0.9"/>
<polygon points="1451.0,517.0 1451.0,507.0 1465.0,507.0 1465.0,517.0" fill="#fff" stroke="#000" stroke-width="1.0" stroke-linejoin="round"/>
<line x1="1454.9" y1="517.0" x2="1454.9" y2="507.0" stroke="#000" stroke-width="0.7"/>
<line x1="1461.1" y1="517.0" x2="1461.1" y2="507.0" stroke="#000" stroke-width="0.7"/>
<ellipse cx="1458.0" cy="507.0" rx="5.384615384615384" ry="7.0" transform="rotate(-90 1458.0 507.0)" fill="#fff" stroke="#000" stroke-width="0.9"/>
<polygon points="1394.2,562.4 1402.8,557.4 1409.8,569.6 1401.2,574.6" fill="#fff" stroke="#000" stroke-width="1.0" stroke-linejoin="round"/>
<line x1="1396.1" y1="565.8" x2="1404.8" y2="560.8" stroke="#000" stroke-width="0.7"/>
<line x1="1399.2" y1="571.2" x2="1407.9" y2="566.2" stroke="#000" stroke-width="0.7"/>
<ellipse cx="1406.3" cy="563.5" rx="5.384615384615384" ry="7.0" transform="rotate(-30 1406.3 563.5)" fill="#fff" stroke="#000" stroke-width="0.9"/>
<polygon points="1287.8,632.6 1279.2,637.6 1272.2,625.4 1280.8,620.4" fill="#fff" stroke="#000" stroke-width="1.0" stroke-linejoin="round"/>
<line x1="1285.9" y1="629.2" x2="1277.2" y2="634.2" stroke="#000" stroke-width="0.7"/>
<line x1="1282.8" y1="623.8" x2="1274.1" y2="628.8" stroke="#000" stroke-width="0.7"/>
<ellipse cx="1275.7" cy="631.5" rx="5.384615384615384" ry="7.0" transform="rotate(150 1275.7 631.5)" fill="#fff" stroke="#000" stroke-width="0.9"/>
<polygon points="1205.0,719.0 1205.0,709.0 1219.0,709.0 1219.0,719.0" fill="#fff" stroke="#000" stroke-width="1.0" stroke-linejoin="round"/>
<line x1="1208.9" y1="719.0" x2="1208.9" y2="709.0" stroke="#000" stroke-width="0.7"/>
<line x1="1215.1" y1="719.0" x2="1215.1" y2="709.0" stroke="#000" stroke-width="0.7"/>
<ellipse cx="1212.0" cy="709.0" rx="5.384615384615384" ry="7.0" transform="rotate(-90 1212.0 709.0)" fill="#fff" stroke="#000" stroke-width="0.9"/>
<polygon points="1104.2,711.4 1112.8,706.4 1119.8,718.6 1111.2,723.6" fill="#fff" stroke="#000" stroke-width="1.0" stroke-linejoin="round"/>
<line x1="1106.1" y1="714.8" x2="1114.8" y2="709.8" stroke="#000" stroke-width="0.7"/>
<line x1="1109.2" y1="720.2" x2="1117.9" y2="715.2" stroke="#000" stroke-width="0.7"/>
<ellipse cx="1116.3" cy="712.5" rx="5.384615384615384" ry="7.0" transform="rotate(-30 1116.3 712.5)" fill="#fff" stroke="#000" stroke-width="0.9"/>
<polygon points="1128.2,687.4 1136.8,682.4 1143.8,694.6 1135.2,699.6" fill="#fff" stroke="#000" stroke-width="1.0" stroke-linejoin="round"/>
<line x1="1130.1" y1="690.8" x2="1138.8" y2="685.8" stroke="#000" stroke-width="0.7"/>
<line x1="1133.2" y1="696.2" x2="1141.9" y2="691.2" stroke="#000" stroke-width="0.7"/>
<ellipse cx="1140.3" cy="688.5" rx="5.384615384615384" ry="7.0" transform="rotate(-30 1140.3 688.5)" fill="#fff" stroke="#000" stroke-width="0.9"/>
<polygon points="1184.0,546.0 1184.0,536.0 1198.0,536.0 1198.0,546.0" fill="#fff" stroke="#000" stroke-width="1.0" stroke-linejoin="round"/>
<line x1="1187.9" y1="546.0" x2="1187.9" y2="536.0" stroke="#000" stroke-width="0.7"/>
<line x1="1194.1" y1="546.0" x2="1194.1" y2="536.0" stroke="#000" stroke-width="0.7"/>
<ellipse cx="1191.0" cy="536.0" rx="5.384615384615384" ry="7.0" transform="rotate(-90 1191.0 536.0)" fill="#fff" stroke="#000" stroke-width="0.9"/>
<polygon points="821.2,897.4 829.8,892.4 836.8,904.6 828.2,909.6" fill="#fff" stroke="#000" stroke-width="1.0" stroke-linejoin="round"/>
<line x1="823.1" y1="900.8" x2="831.8" y2="895.8" stroke="#000" stroke-width="0.7"/>
<line x1="826.2" y1="906.2" x2="834.9" y2="901.2" stroke="#000" stroke-width="0.7"/>
<ellipse cx="833.3" cy="898.5" rx="5.384615384615384" ry="7.0" transform="rotate(-30 833.3 898.5)" fill="#fff" stroke="#000" stroke-width="0.9"/>
<polygon points="765.8,933.6 757.2,938.6 750.2,926.4 758.8,921.4" fill="#fff" stroke="#000" stroke-width="1.0" stroke-linejoin="round"/>
<line x1="763.9" y1="930.2" x2="755.2" y2="935.2" stroke="#000" stroke-width="0.7"/>
<line x1="760.8" y1="924.8" x2="752.1" y2="929.8" stroke="#000" stroke-width="0.7"/>
<ellipse cx="753.7" cy="932.5" rx="5.384615384615384" ry="7.0" transform="rotate(150 753.7 932.5)" fill="#fff" stroke="#000" stroke-width="0.9"/>
<polygon points="679.0,1020.0 679.0,1010.0 693.0,1010.0 693.0,1020.0" fill="#fff" stroke="#000" stroke-width="1.0" stroke-linejoin="round"/>
<line x1="682.9" y1="1020.0" x2="682.9" y2="1010.0" stroke="#000" stroke-width="0.7"/>
<line x1="689.1" y1="1020.0" x2="689.1" y2="1010.0" stroke="#000" stroke-width="0.7"/>
<ellipse cx="686.0" cy="1010.0" rx="5.384615384615384" ry="7.0" transform="rotate(-90 686.0 1010.0)" fill="#fff" stroke="#000" stroke-width="0.9"/>
<polygon points="617.2,1032.4 625.8,1027.4 632.8,1039.6 624.2,1044.6" fill="#fff" stroke="#000" stroke-width="1.0" stroke-linejoin="round"/>
<line x1="619.1" y1="1035.8" x2="627.8" y2="1030.8" stroke="#000" stroke-width="0.7"/>
<line x1="622.2" y1="1041.2" x2="630.9" y2="1036.2" stroke="#000" stroke-width="0.7"/>
<ellipse cx="629.3" cy="1033.5" rx="5.384615384615384" ry="7.0" transform="rotate(-30 629.3 1033.5)" fill="#fff" stroke="#000" stroke-width="0.9"/>
<polygon points="549.3,1079.6 540.7,1084.6 533.7,1072.4 542.3,1067.4" fill="#fff" stroke="#000" stroke-width="1.0" stroke-linejoin="round"/>
<line x1="547.4" y1="1076.2" x2="538.7" y2="1081.2" stroke="#000" stroke-width="0.7"/>
<line x1="544.3" y1="1070.8" x2="535.6" y2="1075.8" stroke="#000" stroke-width="0.7"/>
<ellipse cx="537.2" cy="1078.5" rx="5.384615384615384" ry="7.0" transform="rotate(150 537.2 1078.5)" fill="#fff" stroke="#000" stroke-width="0.9"/>
<polygon points="614.7,1085.7 623.3,1080.7 630.3,1092.9 621.7,1097.9" fill="#fff" stroke="#000" stroke-width="1.0" stroke-linejoin="round"/>
<line x1="616.6" y1="1089.1" x2="625.3" y2="1084.1" stroke="#000" stroke-width="0.7"/>
<line x1="619.7" y1="1094.5" x2="628.4" y2="1089.5" stroke="#000" stroke-width="0.7"/>
<ellipse cx="626.8" cy="1086.8" rx="5.384615384615384" ry="7.0" transform="rotate(-30 626.8 1086.8)" fill="#fff" stroke="#000" stroke-width="0.9"/>
<polygon points="1382.2,640.4 1390.8,635.4 1397.8,647.6 1389.2,652.6" fill="#fff" stroke="#000" stroke-width="1.0" stroke-linejoin="round"/>
<line x1="1384.1" y1="643.8" x2="1392.8" y2="638.8" stroke="#000" stroke-width="0.7"/>
<line x1="1387.2" y1="649.2" x2="1395.9" y2="644.2" stroke="#000" stroke-width="0.7"/>
<ellipse cx="1394.3" cy="641.5" rx="5.384615384615384" ry="7.0" transform="rotate(-30 1394.3 641.5)" fill="#fff" stroke="#000" stroke-width="0.9"/>
<polygon points="1250.8,734.6 1242.2,739.6 1235.2,727.4 1243.8,722.4" fill="#fff" stroke="#000" stroke-width="1.0" stroke-linejoin="round"/>
<line x1="1248.9" y1="731.2" x2="1240.2" y2="736.2" stroke="#000" stroke-width="0.7"/>
<line x1="1245.8" y1="725.8" x2="1237.1" y2="730.8" stroke="#000" stroke-width="0.7"/>
<ellipse cx="1238.7" cy="733.5" rx="5.384615384615384" ry="7.0" transform="rotate(150 1238.7 733.5)" fill="#fff" stroke="#000" stroke-width="0.9"/>
<polygon points="1620.2,443.4 1628.8,438.4 1635.8,450.6 1627.2,455.6" fill="#fff" stroke="#000" stroke-width="1.0" stroke-linejoin="round"/>
<line x1="1622.1" y1="446.8" x2="1630.8" y2="441.8" stroke="#000" stroke-width="0.7"/>
<line x1="1625.2" y1="452.2" x2="1633.9" y2="447.2" stroke="#000" stroke-width="0.7"/>
<ellipse cx="1632.3" cy="444.5" rx="5.384615384615384" ry="7.0" transform="rotate(-30 1632.3 444.5)" fill="#fff" stroke="#000" stroke-width="0.9"/>
<polygon points="1511.8,583.6 1503.2,588.6 1496.2,576.4 1504.8,571.4" fill="#fff" stroke="#000" stroke-width="1.0" stroke-linejoin="round"/>
<line x1="1509.9" y1="580.2" x2="1501.2" y2="585.2" stroke="#000" stroke-width="0.7"/>
<line x1="1506.8" y1="574.8" x2="1498.1" y2="579.8" stroke="#000" stroke-width="0.7"/>
<ellipse cx="1499.7" cy="582.5" rx="5.384615384615384" ry="7.0" transform="rotate(150 1499.7 582.5)" fill="#fff" stroke="#000" stroke-width="0.9"/>
<polygon points="1071.8,836.6 1063.2,841.6 1056.2,829.4 1064.8,824.4" fill="#fff" stroke="#000" stroke-width="1.0" stroke-linejoin="round"/>
<line x1="1069.9" y1="833.2" x2="1061.2" y2="838.2" stroke="#000" stroke-width="0.7"/>
<line x1="1066.8" y1="827.8" x2="1058.1" y2="832.8" stroke="#000" stroke-width="0.7"/>
<ellipse cx="1059.7" cy="835.5" rx="5.384615384615384" ry="7.0" transform="rotate(150 1059.7 835.5)" fill="#fff" stroke="#000" stroke-width="0.9"/>
<polygon points="1175.2,761.4 1183.8,756.4 1190.8,768.6 1182.2,773.6" fill="#fff" stroke="#000" stroke-width="1.0" stroke-linejoin="round"/>
<line x1="1177.1" y1="764.8" x2="1185.8" y2="759.8" stroke="#000" stroke-width="0.7"/>
<line x1="1180.2" y1="770.2" x2="1188.9" y2="765.2" stroke="#000" stroke-width="0.7"/>
<ellipse cx="1187.3" cy="762.5" rx="5.384615384615384" ry="7.0" transform="rotate(-30 1187.3 762.5)" fill="#fff" stroke="#000" stroke-width="0.9"/>
<polygon points="960.8,901.6 952.2,906.6 945.2,894.4 953.8,889.4" fill="#fff" stroke="#000" stroke-width="1.0" stroke-linejoin="round"/>
<line x1="958.9" y1="898.2" x2="950.2" y2="903.2" stroke="#000" stroke-width="0.7"/>
<line x1="955.8" y1="892.8" x2="947.1" y2="897.8" stroke="#000" stroke-width="0.7"/>
<ellipse cx="948.7" cy="900.5" rx="5.384615384615384" ry="7.0" transform="rotate(150 948.7 900.5)" fill="#fff" stroke="#000" stroke-width="0.9"/>
<polygon points="706.2,1030.4 714.8,1025.4 721.8,1037.6 713.2,1042.6" fill="#fff" stroke="#000" stroke-width="1.0" stroke-linejoin="round"/>
<line x1="708.1" y1="1033.8" x2="716.8" y2="1028.8" stroke="#000" stroke-width="0.7"/>
<line x1="711.2" y1="1039.2" x2="719.9" y2="1034.2" stroke="#000" stroke-width="0.7"/>
<ellipse cx="718.3" cy="1031.5" rx="5.384615384615384" ry="7.0" transform="rotate(-30 718.3 1031.5)" fill="#fff" stroke="#000" stroke-width="0.9"/>
<polygon points="975.5,749.0 975.5,739.0 989.5,739.0 989.5,749.0" fill="#fff" stroke="#000" stroke-width="1.0" stroke-linejoin="round"/>
<line x1="979.4" y1="749.0" x2="979.4" y2="739.0" stroke="#000" stroke-width="0.7"/>
<line x1="985.6" y1="749.0" x2="985.6" y2="739.0" stroke="#000" stroke-width="0.7"/>
<ellipse cx="982.5" cy="739.0" rx="5.384615384615384" ry="7.0" transform="rotate(-90 982.5 739.0)" fill="#fff" stroke="#000" stroke-width="0.9"/>
<polygon points="989.5,808.0 989.5,818.0 975.5,818.0 975.5,808.0" fill="#fff" stroke="#000" stroke-width="1.0" stroke-linejoin="round"/>
<line x1="985.6" y1="808.0" x2="985.6" y2="818.0" stroke="#000" stroke-width="0.7"/>
<line x1="979.4" y1="808.0" x2="979.4" y2="818.0" stroke="#000" stroke-width="0.7"/>
<ellipse cx="982.5" cy="818.0" rx="5.384615384615384" ry="7.0" transform="rotate(90 982.5 818.0)" fill="#fff" stroke="#000" stroke-width="0.9"/>
<polygon points="975.5,853.0 975.5,843.0 989.5,843.0 989.5,853.0" fill="#fff" stroke="#000" stroke-width="1.0" stroke-linejoin="round"/>
<line x1="979.4" y1="853.0" x2="979.4" y2="843.0" stroke="#000" stroke-width="0.7"/>
<line x1="985.6" y1="853.0" x2="985.6" y2="843.0" stroke="#000" stroke-width="0.7"/>
<ellipse cx="982.5" cy="843.0" rx="5.384615384615384" ry="7.0" transform="rotate(-90 982.5 843.0)" fill="#fff" stroke="#000" stroke-width="0.9"/>
<polygon points="965.8,542.6 957.2,547.6 950.2,535.4 958.8,530.4" fill="#fff" stroke="#000" stroke-width="1.0" stroke-linejoin="round"/>
<line x1="963.9" y1="539.2" x2="955.2" y2="544.2" stroke="#000" stroke-width="0.7"/>
<line x1="960.8" y1="533.8" x2="952.1" y2="538.8" stroke="#000" stroke-width="0.7"/>
<ellipse cx="953.7" cy="541.5" rx="5.384615384615384" ry="7.0" transform="rotate(150 953.7 541.5)" fill="#fff" stroke="#000" stroke-width="0.9"/>
<polygon points="1024.4,511.0 1015.8,516.0 1008.8,503.8 1017.4,498.8" fill="#fff" stroke="#000" stroke-width="1.0" stroke-linejoin="round"/>
<line x1="1022.5" y1="507.6" x2="1013.8" y2="512.6" stroke="#000" stroke-width="0.7"/>
<line x1="1019.4" y1="502.2" x2="1010.7" y2="507.2" stroke="#000" stroke-width="0.7"/>
<ellipse cx="1012.3" cy="509.9" rx="5.384615384615384" ry="7.0" transform="rotate(150 1012.3 509.9)" fill="#fff" stroke="#000" stroke-width="0.9"/>
<polygon points="1116.2,504.4 1124.8,499.4 1131.8,511.6 1123.2,516.6" fill="#fff" stroke="#000" stroke-width="1.0" stroke-linejoin="round"/>
<line x1="1118.1" y1="507.8" x2="1126.8" y2="502.8" stroke="#000" stroke-width="0.7"/>
<line x1="1121.2" y1="513.2" x2="1129.9" y2="508.2" stroke="#000" stroke-width="0.7"/>
<ellipse cx="1128.3" cy="505.5" rx="5.384615384615384" ry="7.0" transform="rotate(-30 1128.3 505.5)" fill="#fff" stroke="#000" stroke-width="0.9"/>
<polygon points="1020.8,765.6 1012.2,770.6 1005.2,758.4 1013.8,753.4" fill="#fff" stroke="#000" stroke-width="1.0" stroke-linejoin="round"/>
<line x1="1018.9" y1="762.2" x2="1010.2" y2="767.2" stroke="#000" stroke-width="0.7"/>
<line x1="1015.8" y1="756.8" x2="1007.1" y2="761.8" stroke="#000" stroke-width="0.7"/>
<ellipse cx="1008.7" cy="764.5" rx="5.384615384615384" ry="7.0" transform="rotate(150 1008.7 764.5)" fill="#fff" stroke="#000" stroke-width="0.9"/>
<polygon points="1034.2,741.4 1042.8,736.4 1049.8,748.6 1041.2,753.6" fill="#fff" stroke="#000" stroke-width="1.0" stroke-linejoin="round"/>
<line x1="1036.1" y1="744.8" x2="1044.8" y2="739.8" stroke="#000" stroke-width="0.7"/>
<line x1="1039.2" y1="750.2" x2="1047.9" y2="745.2" stroke="#000" stroke-width="0.7"/>
<ellipse cx="1046.3" cy="742.5" rx="5.384615384615384" ry="7.0" transform="rotate(-30 1046.3 742.5)" fill="#fff" stroke="#000" stroke-width="0.9"/>
<polygon points="988.9,535.9 975.1,543.9 967.1,530.1 980.9,522.1" fill="#fff" stroke="#000" stroke-width="1.0" stroke-linejoin="round"/>
<line x1="986.7" y1="532.1" x2="972.8" y2="540.1" stroke="#000" stroke-width="0.7"/>
<line x1="983.2" y1="525.9" x2="969.3" y2="533.9" stroke="#000" stroke-width="0.7"/>
<ellipse cx="971.1" cy="537.0" rx="6.153846153846153" ry="8.0" transform="rotate(150 971.1 537.0)" fill="#fff" stroke="#000" stroke-width="0.9"/>
<polygon points="987.2,518.0 999.3,511.0 1006.8,524.0 994.7,531.0" fill="#fff" stroke="#000" stroke-width="1.0" stroke-linejoin="round"/>
<line x1="989.3" y1="521.6" x2="1001.4" y2="514.6" stroke="#000" stroke-width="0.7"/>
<line x1="992.6" y1="527.4" x2="1004.7" y2="520.4" stroke="#000" stroke-width="0.7"/>
<ellipse cx="1003.1" cy="517.5" rx="5.769230769230769" ry="7.5" transform="rotate(-30 1003.1 517.5)" fill="#fff" stroke="#000" stroke-width="0.9"/>
<polygon points="1450.5,588.0 1463.5,588.0 1463.5,604.0 1450.5,604.0" fill="#fff" stroke="#000" stroke-width="1.0" stroke-linejoin="round"/>
<ellipse cx="1457.0" cy="588.0" rx="6.5" ry="2.8" transform="rotate(0 1457.0 588.0)" fill="#fff" stroke="#000" stroke-width="1.0"/>
<ellipse cx="1457.0" cy="588.0" rx="3" ry="1.3" transform="rotate(0 1457.0 588.0)" fill="#fff" stroke="#000" stroke-width="0.8"/>
<line x1="1450.5" y1="596.0" x2="1463.5" y2="596.0" stroke="#000" stroke-width="0.8"/>
<polygon points="1437.9,609.9 1469.1,591.9 1476.1,604.1 1444.9,622.1" fill="#fff" stroke="#000" stroke-width="1.0" stroke-linejoin="round"/>
<line x1="1445.7" y1="605.4" x2="1452.7" y2="617.6" stroke="#000" stroke-width="0.8"/>
<line x1="1461.3" y1="596.4" x2="1468.3" y2="608.6" stroke="#000" stroke-width="0.8"/>
<ellipse cx="1441.4" cy="616.0" rx="3.5" ry="7" transform="rotate(-30 1441.4 616.0)" fill="#fff" stroke="#000" stroke-width="1.0"/>
<ellipse cx="1472.6" cy="598.0" rx="3.5" ry="7" transform="rotate(-30 1472.6 598.0)" fill="#fff" stroke="#000" stroke-width="1.0"/>
<ellipse cx="1441.4" cy="616.0" rx="1.8" ry="3.2" transform="rotate(-30 1441.4 616.0)" fill="#fff" stroke="#000" stroke-width="0.8"/>
<polygon points="1206.0,728.0 1219.0,728.0 1219.0,744.0 1206.0,744.0" fill="#fff" stroke="#000" stroke-width="1.0" stroke-linejoin="round"/>
<ellipse cx="1212.5" cy="728.0" rx="6.5" ry="2.8" transform="rotate(0 1212.5 728.0)" fill="#fff" stroke="#000" stroke-width="1.0"/>
<ellipse cx="1212.5" cy="728.0" rx="3" ry="1.3" transform="rotate(0 1212.5 728.0)" fill="#fff" stroke="#000" stroke-width="0.8"/>
<line x1="1206.0" y1="736.0" x2="1219.0" y2="736.0" stroke="#000" stroke-width="0.8"/>
<polygon points="1193.4,749.9 1224.6,731.9 1231.6,744.1 1200.4,762.1" fill="#fff" stroke="#000" stroke-width="1.0" stroke-linejoin="round"/>
<line x1="1201.2" y1="745.4" x2="1208.2" y2="757.6" stroke="#000" stroke-width="0.8"/>
<line x1="1216.8" y1="736.4" x2="1223.8" y2="748.6" stroke="#000" stroke-width="0.8"/>
<ellipse cx="1196.9" cy="756.0" rx="3.5" ry="7" transform="rotate(-30 1196.9 756.0)" fill="#fff" stroke="#000" stroke-width="1.0"/>
<ellipse cx="1228.1" cy="738.0" rx="3.5" ry="7" transform="rotate(-30 1228.1 738.0)" fill="#fff" stroke="#000" stroke-width="1.0"/>
<ellipse cx="1196.9" cy="756.0" rx="1.8" ry="3.2" transform="rotate(-30 1196.9 756.0)" fill="#fff" stroke="#000" stroke-width="0.8"/>
<polygon points="975.5,858.0 988.5,858.0 988.5,874.0 975.5,874.0" fill="#fff" stroke="#000" stroke-width="1.0" stroke-linejoin="round"/>
<ellipse cx="982.0" cy="858.0" rx="6.5" ry="2.8" transform="rotate(0 982.0 858.0)" fill="#fff" stroke="#000" stroke-width="1.0"/>
<ellipse cx="982.0" cy="858.0" rx="3" ry="1.3" transform="rotate(0 982.0 858.0)" fill="#fff" stroke="#000" stroke-width="0.8"/>
<line x1="975.5" y1="866.0" x2="988.5" y2="866.0" stroke="#000" stroke-width="0.8"/>
<polygon points="962.9,879.9 994.1,861.9 1001.1,874.1 969.9,892.1" fill="#fff" stroke="#000" stroke-width="1.0" stroke-linejoin="round"/>
<line x1="970.7" y1="875.4" x2="977.7" y2="887.6" stroke="#000" stroke-width="0.8"/>
<line x1="986.3" y1="866.4" x2="993.3" y2="878.6" stroke="#000" stroke-width="0.8"/>
<ellipse cx="966.4" cy="886.0" rx="3.5" ry="7" transform="rotate(-30 966.4 886.0)" fill="#fff" stroke="#000" stroke-width="1.0"/>
<ellipse cx="997.6" cy="868.0" rx="3.5" ry="7" transform="rotate(-30 997.6 868.0)" fill="#fff" stroke="#000" stroke-width="1.0"/>
<ellipse cx="966.4" cy="886.0" rx="1.8" ry="3.2" transform="rotate(-30 966.4 886.0)" fill="#fff" stroke="#000" stroke-width="0.8"/>
<polygon points="682.0,1031.0 695.0,1031.0 695.0,1047.0 682.0,1047.0" fill="#fff" stroke="#000" stroke-width="1.0" stroke-linejoin="round"/>
<ellipse cx="688.5" cy="1031.0" rx="6.5" ry="2.8" transform="rotate(0 688.5 1031.0)" fill="#fff" stroke="#000" stroke-width="1.0"/>
<ellipse cx="688.5" cy="1031.0" rx="3" ry="1.3" transform="rotate(0 688.5 1031.0)" fill="#fff" stroke="#000" stroke-width="0.8"/>
<line x1="682.0" y1="1039.0" x2="695.0" y2="1039.0" stroke="#000" stroke-width="0.8"/>
<polygon points="669.4,1052.9 700.6,1034.9 707.6,1047.1 676.4,1065.1" fill="#fff" stroke="#000" stroke-width="1.0" stroke-linejoin="round"/>
<line x1="677.2" y1="1048.4" x2="684.2" y2="1060.6" stroke="#000" stroke-width="0.8"/>
<line x1="692.8" y1="1039.4" x2="699.8" y2="1051.6" stroke="#000" stroke-width="0.8"/>
<ellipse cx="672.9" cy="1059.0" rx="3.5" ry="7" transform="rotate(-30 672.9 1059.0)" fill="#fff" stroke="#000" stroke-width="1.0"/>
<ellipse cx="704.1" cy="1041.0" rx="3.5" ry="7" transform="rotate(-30 704.1 1041.0)" fill="#fff" stroke="#000" stroke-width="1.0"/>
<ellipse cx="672.9" cy="1059.0" rx="1.8" ry="3.2" transform="rotate(-30 672.9 1059.0)" fill="#fff" stroke="#000" stroke-width="0.8"/>
<polygon points="983.5,767.0 994.8,760.5 1001.8,772.6 990.5,779.1" fill="#fff" stroke="#000" stroke-width="1.0" stroke-linejoin="round"/>
<ellipse cx="998.3" cy="766.5" rx="3.5" ry="7" transform="rotate(-30 998.3 766.5)" fill="#fff" stroke="#000" stroke-width="1.0"/>
<polygon points="975.0,758.0 989.0,758.0 989.0,801.0 975.0,801.0" fill="#fff" stroke="#000" stroke-width="1.0" stroke-linejoin="round"/>
<ellipse cx="982.0" cy="758.0" rx="7" ry="3" transform="rotate(0 982.0 758.0)" fill="#fff" stroke="#000" stroke-width="1.0"/>
<ellipse cx="982.0" cy="758.0" rx="3.5" ry="1.6" transform="rotate(0 982.0 758.0)" fill="#fff" stroke="#000" stroke-width="0.8"/>
<line x1="975.0" y1="770.9" x2="989.0" y2="770.9" stroke="#000" stroke-width="0.8"/>
<line x1="975.0" y1="788.1" x2="989.0" y2="788.1" stroke="#000" stroke-width="0.8"/>
<path d="M1531.9,383.5 C1524.9,387.5 1526.9,398.5 1534.9,400.5 L1544.9,402.5 L1544.9,384.5 Z" fill="#fff" stroke="#000" stroke-width="1.0" stroke-linejoin="round" stroke-linecap="round" />
<polygon points="1522.9,382.5 1526.9,378.5 1531.9,379.5 1534.9,384.5 1530.9,388.0 1525.9,387.0" fill="#fff" stroke="#000" stroke-width="1.0" stroke-linejoin="round"/>
<ellipse cx="1558.9" cy="398.5" rx="19.0" ry="13.0" transform="rotate(-25 1558.9 398.5)" fill="#fff" stroke="#000" stroke-width="1.0"/>
<polygon points="1542.9,394.5 1552.9,389.5 1570.9,389.5 1574.9,396.5 1574.9,410.5 1565.9,418.5 1552.9,418.5 1542.9,409.5" fill="#fff" stroke="#000" stroke-width="1.0" stroke-linejoin="round"/>
<polyline points="1542.9,394.5 1552.9,399.5 1561.9,405.5" fill="none" stroke="#000" stroke-width="0.9" stroke-linejoin="round"/>
<polygon points="1552.8,384.5 1571.0,384.5 1571.0,406.1 1552.8,406.1" fill="#fff" stroke="#000" stroke-width="1.0" stroke-linejoin="round"/>
<path d="M1552.9,387.5 Q1561.9,394.5 1570.9,387.5" fill="none" stroke="#000" stroke-width="0.9" stroke-linejoin="round" stroke-linecap="round" />
<path d="M1552.9,386.0 Q1561.9,391.5 1570.9,386.0" fill="none" stroke="#000" stroke-width="0.9" stroke-linejoin="round" stroke-linecap="round" />
<path d="M1571.0,391.3 C1577.9,393.5 1578.9,404.5 1571.0,406.1" fill="none" stroke="#000" stroke-width="1.0" stroke-linejoin="round" stroke-linecap="round" />
<ellipse cx="1561.9" cy="374.5" rx="17.2" ry="11.8" transform="rotate(0 1561.9 374.5)" fill="#fff" stroke="#000" stroke-width="1.2"/>
<ellipse cx="1562.0" cy="371.7" rx="11.4" ry="5.6" transform="rotate(0 1562.0 371.7)" fill="#fff" stroke="#000" stroke-width="1.1"/>
<polygon points="1552.9,414.5 1562.9,406.1 1574.9,411.0 1566.9,419.5 1556.9,421.5" fill="#fff" stroke="#000" stroke-width="1.0" stroke-linejoin="round"/>
<circle cx="1551.4" cy="409.0" r="5.2" fill="#fff" stroke="#000" stroke-width="1.0"/>
<circle cx="1551.4" cy="409.0" r="3.3" fill="#fff" stroke="#000" stroke-width="0.8"/>
<polygon points="1546.1,416.5 1552.9,415.9 1552.9,425.5 1547.9,425.8" fill="#fff" stroke="#000" stroke-width="1.0" stroke-linejoin="round"/>
<path d="M1557.3,419.5 L1557.3,437.5 Q1561.9,444.5 1566.5,437.5 L1566.5,419.5 Z" fill="#fff" stroke="#000" stroke-width="1.0" stroke-linejoin="round" stroke-linecap="round" />
<line x1="1557.3" y1="427.2" x2="1566.5" y2="427.2" stroke="#000" stroke-width="0.9"/>
<path d="M1323.0,566.3 C1316.0,570.3 1318.0,581.3 1326.0,583.3 L1336.0,585.3 L1336.0,567.3 Z" fill="#fff" stroke="#000" stroke-width="1.0" stroke-linejoin="round" stroke-linecap="round" />
<polygon points="1314.0,565.3 1318.0,561.3 1323.0,562.3 1326.0,567.3 1322.0,570.8 1317.0,569.8" fill="#fff" stroke="#000" stroke-width="1.0" stroke-linejoin="round"/>
<ellipse cx="1350.0" cy="581.3" rx="19.0" ry="13.0" transform="rotate(-25 1350.0 581.3)" fill="#fff" stroke="#000" stroke-width="1.0"/>
<polygon points="1334.0,577.3 1344.0,572.3 1362.0,572.3 1366.0,579.3 1366.0,593.3 1357.0,601.3 1344.0,601.3 1334.0,592.3" fill="#fff" stroke="#000" stroke-width="1.0" stroke-linejoin="round"/>
<polyline points="1334.0,577.3 1344.0,582.3 1353.0,588.3" fill="none" stroke="#000" stroke-width="0.9" stroke-linejoin="round"/>
<polygon points="1343.9,567.3 1362.1,567.3 1362.1,588.9 1343.9,588.9" fill="#fff" stroke="#000" stroke-width="1.0" stroke-linejoin="round"/>
<path d="M1344.0,570.3 Q1353.0,577.3 1362.0,570.3" fill="none" stroke="#000" stroke-width="0.9" stroke-linejoin="round" stroke-linecap="round" />
<path d="M1344.0,568.8 Q1353.0,574.3 1362.0,568.8" fill="none" stroke="#000" stroke-width="0.9" stroke-linejoin="round" stroke-linecap="round" />
<path d="M1362.1,574.1 C1369.0,576.3 1370.0,587.3 1362.1,588.9" fill="none" stroke="#000" stroke-width="1.0" stroke-linejoin="round" stroke-linecap="round" />
<ellipse cx="1353.0" cy="557.3" rx="17.2" ry="11.8" transform="rotate(0 1353.0 557.3)" fill="#fff" stroke="#000" stroke-width="1.2"/>
<ellipse cx="1353.1" cy="554.5" rx="11.4" ry="5.6" transform="rotate(0 1353.1 554.5)" fill="#fff" stroke="#000" stroke-width="1.1"/>
<polygon points="1344.0,597.3 1354.0,588.9 1366.0,593.8 1358.0,602.3 1348.0,604.3" fill="#fff" stroke="#000" stroke-width="1.0" stroke-linejoin="round"/>
<circle cx="1342.5" cy="591.8" r="5.2" fill="#fff" stroke="#000" stroke-width="1.0"/>
<circle cx="1342.5" cy="591.8" r="3.3" fill="#fff" stroke="#000" stroke-width="0.8"/>
<polygon points="1337.2,599.3 1344.0,598.7 1344.0,608.3 1339.0,608.6" fill="#fff" stroke="#000" stroke-width="1.0" stroke-linejoin="round"/>
<path d="M1348.4,602.3 L1348.4,620.3 Q1353.0,627.3 1357.6,620.3 L1357.6,602.3 Z" fill="#fff" stroke="#000" stroke-width="1.0" stroke-linejoin="round" stroke-linecap="round" />
<line x1="1348.4" y1="610.0" x2="1357.6" y2="610.0" stroke="#000" stroke-width="0.9"/>
<path d="M1048.4,701.0 C1041.4,705.0 1043.4,716.0 1051.4,718.0 L1061.4,720.0 L1061.4,702.0 Z" fill="#fff" stroke="#000" stroke-width="1.0" stroke-linejoin="round" stroke-linecap="round" />
<polygon points="1039.4,700.0 1043.4,696.0 1048.4,697.0 1051.4,702.0 1047.4,705.5 1042.4,704.5" fill="#fff" stroke="#000" stroke-width="1.0" stroke-linejoin="round"/>
<ellipse cx="1075.4" cy="716.0" rx="19.0" ry="13.0" transform="rotate(-25 1075.4 716.0)" fill="#fff" stroke="#000" stroke-width="1.0"/>
<polygon points="1059.4,712.0 1069.4,707.0 1087.4,707.0 1091.4,714.0 1091.4,728.0 1082.4,736.0 1069.4,736.0 1059.4,727.0" fill="#fff" stroke="#000" stroke-width="1.0" stroke-linejoin="round"/>
<polyline points="1059.4,712.0 1069.4,717.0 1078.4,723.0" fill="none" stroke="#000" stroke-width="0.9" stroke-linejoin="round"/>
<polygon points="1069.3,702.0 1087.5,702.0 1087.5,723.6 1069.3,723.6" fill="#fff" stroke="#000" stroke-width="1.0" stroke-linejoin="round"/>
<path d="M1069.4,705.0 Q1078.4,712.0 1087.4,705.0" fill="none" stroke="#000" stroke-width="0.9" stroke-linejoin="round" stroke-linecap="round" />
<path d="M1069.4,703.5 Q1078.4,709.0 1087.4,703.5" fill="none" stroke="#000" stroke-width="0.9" stroke-linejoin="round" stroke-linecap="round" />
<path d="M1087.5,708.8 C1094.4,711.0 1095.4,722.0 1087.5,723.6" fill="none" stroke="#000" stroke-width="1.0" stroke-linejoin="round" stroke-linecap="round" />
<ellipse cx="1078.4" cy="692.0" rx="17.2" ry="11.8" transform="rotate(0 1078.4 692.0)" fill="#fff" stroke="#000" stroke-width="1.2"/>
<ellipse cx="1078.5" cy="689.2" rx="11.4" ry="5.6" transform="rotate(0 1078.5 689.2)" fill="#fff" stroke="#000" stroke-width="1.1"/>
<polygon points="1069.4,732.0 1079.4,723.6 1091.4,728.5 1083.4,737.0 1073.4,739.0" fill="#fff" stroke="#000" stroke-width="1.0" stroke-linejoin="round"/>
<circle cx="1067.9" cy="726.5" r="5.2" fill="#fff" stroke="#000" stroke-width="1.0"/>
<circle cx="1067.9" cy="726.5" r="3.3" fill="#fff" stroke="#000" stroke-width="0.8"/>
<polygon points="1062.6,734.0 1069.4,733.4 1069.4,743.0 1064.4,743.3" fill="#fff" stroke="#000" stroke-width="1.0" stroke-linejoin="round"/>
<path d="M1073.8,737.0 L1073.8,755.0 Q1078.4,762.0 1083.0,755.0 L1083.0,737.0 Z" fill="#fff" stroke="#000" stroke-width="1.0" stroke-linejoin="round" stroke-linecap="round" />
<line x1="1073.8" y1="744.7" x2="1083.0" y2="744.7" stroke="#000" stroke-width="0.9"/>
<path d="M762.9,889.4 C755.9,893.4 757.9,904.4 765.9,906.4 L775.9,908.4 L775.9,890.4 Z" fill="#fff" stroke="#000" stroke-width="1.0" stroke-linejoin="round" stroke-linecap="round" />
<polygon points="753.9,888.4 757.9,884.4 762.9,885.4 765.9,890.4 761.9,893.9 756.9,892.9" fill="#fff" stroke="#000" stroke-width="1.0" stroke-linejoin="round"/>
<ellipse cx="789.9" cy="904.4" rx="19.0" ry="13.0" transform="rotate(-25 789.9 904.4)" fill="#fff" stroke="#000" stroke-width="1.0"/>
<polygon points="773.9,900.4 783.9,895.4 801.9,895.4 805.9,902.4 805.9,916.4 796.9,924.4 783.9,924.4 773.9,915.4" fill="#fff" stroke="#000" stroke-width="1.0" stroke-linejoin="round"/>
<polyline points="773.9,900.4 783.9,905.4 792.9,911.4" fill="none" stroke="#000" stroke-width="0.9" stroke-linejoin="round"/>
<polygon points="783.8,890.4 802.0,890.4 802.0,912.0 783.8,912.0" fill="#fff" stroke="#000" stroke-width="1.0" stroke-linejoin="round"/>
<path d="M783.9,893.4 Q792.9,900.4 801.9,893.4" fill="none" stroke="#000" stroke-width="0.9" stroke-linejoin="round" stroke-linecap="round" />
<path d="M783.9,891.9 Q792.9,897.4 801.9,891.9" fill="none" stroke="#000" stroke-width="0.9" stroke-linejoin="round" stroke-linecap="round" />
<path d="M802.0,897.2 C808.9,899.4 809.9,910.4 802.0,912.0" fill="none" stroke="#000" stroke-width="1.0" stroke-linejoin="round" stroke-linecap="round" />
<ellipse cx="792.9" cy="880.4" rx="17.2" ry="11.8" transform="rotate(0 792.9 880.4)" fill="#fff" stroke="#000" stroke-width="1.2"/>
<ellipse cx="793.0" cy="877.6" rx="11.4" ry="5.6" transform="rotate(0 793.0 877.6)" fill="#fff" stroke="#000" stroke-width="1.1"/>
<polygon points="783.9,920.4 793.9,912.0 805.9,916.9 797.9,925.4 787.9,927.4" fill="#fff" stroke="#000" stroke-width="1.0" stroke-linejoin="round"/>
<circle cx="782.4" cy="914.9" r="5.2" fill="#fff" stroke="#000" stroke-width="1.0"/>
<circle cx="782.4" cy="914.9" r="3.3" fill="#fff" stroke="#000" stroke-width="0.8"/>
<polygon points="777.1,922.4 783.9,921.8 783.9,931.4 778.9,931.7" fill="#fff" stroke="#000" stroke-width="1.0" stroke-linejoin="round"/>
<path d="M788.3,925.4 L788.3,943.4 Q792.9,950.4 797.5,943.4 L797.5,925.4 Z" fill="#fff" stroke="#000" stroke-width="1.0" stroke-linejoin="round" stroke-linecap="round" />
<line x1="788.3" y1="933.1" x2="797.5" y2="933.1" stroke="#000" stroke-width="0.9"/>
<path d="M549.2,1032.7 C542.2,1036.7 544.2,1047.7 552.2,1049.7 L562.2,1051.7 L562.2,1033.7 Z" fill="#fff" stroke="#000" stroke-width="1.0" stroke-linejoin="round" stroke-linecap="round" />
<polygon points="540.2,1031.7 544.2,1027.7 549.2,1028.7 552.2,1033.7 548.2,1037.2 543.2,1036.2" fill="#fff" stroke="#000" stroke-width="1.0" stroke-linejoin="round"/>
<ellipse cx="576.2" cy="1047.7" rx="19.0" ry="13.0" transform="rotate(-25 576.2 1047.7)" fill="#fff" stroke="#000" stroke-width="1.0"/>
<polygon points="560.2,1043.7 570.2,1038.7 588.2,1038.7 592.2,1045.7 592.2,1059.7 583.2,1067.7 570.2,1067.7 560.2,1058.7" fill="#fff" stroke="#000" stroke-width="1.0" stroke-linejoin="round"/>
<polyline points="560.2,1043.7 570.2,1048.7 579.2,1054.7" fill="none" stroke="#000" stroke-width="0.9" stroke-linejoin="round"/>
<polygon points="570.1,1033.7 588.3,1033.7 588.3,1055.3 570.1,1055.3" fill="#fff" stroke="#000" stroke-width="1.0" stroke-linejoin="round"/>
<path d="M570.2,1036.7 Q579.2,1043.7 588.2,1036.7" fill="none" stroke="#000" stroke-width="0.9" stroke-linejoin="round" stroke-linecap="round" />
<path d="M570.2,1035.2 Q579.2,1040.7 588.2,1035.2" fill="none" stroke="#000" stroke-width="0.9" stroke-linejoin="round" stroke-linecap="round" />
<path d="M588.3,1040.5 C595.2,1042.7 596.2,1053.7 588.3,1055.3" fill="none" stroke="#000" stroke-width="1.0" stroke-linejoin="round" stroke-linecap="round" />
<ellipse cx="579.2" cy="1023.7" rx="17.2" ry="11.8" transform="rotate(0 579.2 1023.7)" fill="#fff" stroke="#000" stroke-width="1.2"/>
<ellipse cx="579.3" cy="1020.9" rx="11.4" ry="5.6" transform="rotate(0 579.3 1020.9)" fill="#fff" stroke="#000" stroke-width="1.1"/>
<polygon points="570.2,1063.7 580.2,1055.3 592.2,1060.2 584.2,1068.7 574.2,1070.7" fill="#fff" stroke="#000" stroke-width="1.0" stroke-linejoin="round"/>
<circle cx="568.7" cy="1058.2" r="5.2" fill="#fff" stroke="#000" stroke-width="1.0"/>
<circle cx="568.7" cy="1058.2" r="3.3" fill="#fff" stroke="#000" stroke-width="0.8"/>
<polygon points="563.4,1065.7 570.2,1065.1 570.2,1074.7 565.2,1075.0" fill="#fff" stroke="#000" stroke-width="1.0" stroke-linejoin="round"/>
<path d="M574.6,1068.7 L574.6,1086.7 Q579.2,1093.7 583.8,1086.7 L583.8,1068.7 Z" fill="#fff" stroke="#000" stroke-width="1.0" stroke-linejoin="round" stroke-linecap="round" />
<line x1="574.6" y1="1076.4" x2="583.8" y2="1076.4" stroke="#000" stroke-width="0.9"/>
<line x1="1561.9" y1="306.2" x2="1561.9" y2="354.3" stroke="#000" stroke-width="1.0" stroke-dasharray="6,2,1.5,2"/>
<polygon points="1558.9,352.3 1564.9,352.3 1561.9,363.3" fill="#000" stroke="#000" stroke-width="0.8" stroke-linejoin="round"/>
<line x1="1352.7" y1="489.3" x2="1352.7" y2="537.3" stroke="#000" stroke-width="1.0" stroke-dasharray="6,2,1.5,2"/>
<polygon points="1349.7,535.3 1355.7,535.3 1352.7,546.3" fill="#000" stroke="#000" stroke-width="0.8" stroke-linejoin="round"/>
<line x1="1071.0" y1="626.5" x2="1071.0" y2="671.6" stroke="#000" stroke-width="1.0" stroke-dasharray="6,2,1.5,2"/>
<polygon points="1068.0,669.6 1074.0,669.6 1071.0,680.6" fill="#000" stroke="#000" stroke-width="0.8" stroke-linejoin="round"/>
<line x1="793.3" y1="811.0" x2="793.3" y2="860.4" stroke="#000" stroke-width="1.0" stroke-dasharray="6,2,1.5,2"/>
<polygon points="790.3,858.4 796.3,858.4 793.3,869.4" fill="#000" stroke="#000" stroke-width="0.8" stroke-linejoin="round"/>
<line x1="578.0" y1="958.0" x2="578.0" y2="1003.7" stroke="#000" stroke-width="1.0" stroke-dasharray="6,2,1.5,2"/>
<polygon points="575.0,1001.7 581.0,1001.7 578.0,1012.7" fill="#000" stroke="#000" stroke-width="0.8" stroke-linejoin="round"/>
<polygon points="55.4,948.0 73.9,940.0 73.9,1200.5 62.2,1203.9 45.4,1197.0 45.4,1167.0 55.4,1160.0" fill="#fff" stroke="#000" stroke-width="1.0" stroke-linejoin="round"/>
<line x1="62.2" y1="948.0" x2="62.2" y2="1203.9" stroke="#000" stroke-width="0.9"/>
<circle cx="51.0" cy="1177.0" r="1.5" fill="#fff" stroke="#000" stroke-width="0.8"/>
<polygon points="167.3,915.0 186.5,906.0 186.5,1135.0 174.7,1140.0 157.9,1135.0 157.9,1099.7 167.3,1089.6" fill="#fff" stroke="#000" stroke-width="1.0" stroke-linejoin="round"/>
<line x1="173.0" y1="912.0" x2="173.0" y2="1140.0" stroke="#000" stroke-width="0.9"/>
<circle cx="163.0" cy="1114.0" r="1.5" fill="#fff" stroke="#000" stroke-width="0.8"/>
<polygon points="113.2,835.0 113.2,852.8 125.0,847.0 137.0,842.0 137.0,837.0 125.0,842.0 118.0,836.0" fill="#fff" stroke="#000" stroke-width="0.9" stroke-linejoin="round"/>
<ellipse cx="118.5" cy="845.0" rx="2" ry="2.5" transform="rotate(0 118.5 845.0)" fill="#fff" stroke="#000" stroke-width="0.8"/>
<polygon points="62.2,886.0 187.5,816.5 187.5,911.0 62.2,980.4" fill="#fff" stroke="#000" stroke-width="1.1" stroke-linejoin="round"/>
<ellipse cx="104.5" cy="887.5" rx="13.5" ry="20" transform="rotate(20 104.5 887.5)" fill="#fff" stroke="#000" stroke-width="1.1"/>
<line x1="93.0" y1="883.0" x2="113.0" y2="893.0" stroke="#000" stroke-width="0.9"/>
<ellipse cx="133.0" cy="904.3" rx="4.5" ry="6" transform="rotate(20 133.0 904.3)" fill="#fff" stroke="#000" stroke-width="1.0"/>
<circle cx="145.9" cy="853.7" r="1.2" fill="#fff" stroke="#000" stroke-width="0.8"/>
<circle cx="145.9" cy="887.4" r="1.2" fill="#fff" stroke="#000" stroke-width="0.8"/>
<circle cx="183.6" cy="832.0" r="1.2" fill="#fff" stroke="#000" stroke-width="0.8"/>
<circle cx="183.6" cy="865.6" r="1.2" fill="#fff" stroke="#000" stroke-width="0.8"/>
<ellipse cx="95.0" cy="751.0" rx="15" ry="18.5" transform="rotate(15 95.0 751.0)" fill="#fff" stroke="#000" stroke-width="1.1"/>
<ellipse cx="102.3" cy="754.2" rx="14.5" ry="18.5" transform="rotate(15 102.3 754.2)" fill="#fff" stroke="#000" stroke-width="1.1"/>
<ellipse cx="99.5" cy="753.5" rx="14.5" ry="18.5" transform="rotate(15 99.5 753.5)" fill="none" stroke="#000" stroke-width="0.8"/>
<polygon points="91.4,770.0 99.3,770.0 99.3,778.5 91.4,778.5" fill="#fff" stroke="#000" stroke-width="1.0" stroke-linejoin="round"/>
<polygon points="89.4,785.0 101.3,785.0 101.3,798.3 89.4,798.3" fill="#fff" stroke="#000" stroke-width="1.0" stroke-linejoin="round"/>
<ellipse cx="95.4" cy="785.0" rx="6" ry="2.5" transform="rotate(0 95.4 785.0)" fill="#fff" stroke="#000" stroke-width="0.9"/>
<line x1="92.0" y1="785.0" x2="92.0" y2="798.0" stroke="#000" stroke-width="0.7"/>
<line x1="98.5" y1="785.0" x2="98.5" y2="798.0" stroke="#000" stroke-width="0.7"/>
<polygon points="92.4,798.3 98.4,798.3 98.4,809.0 92.4,809.0" fill="#fff" stroke="#000" stroke-width="1.0" stroke-linejoin="round"/>
<line x1="95.4" y1="810.0" x2="95.4" y2="869.0" stroke="#000" stroke-width="0.9" stroke-dasharray="5,2,1.5,2"/>
<line x1="58.7" y1="861.7" x2="82.5" y2="874.5" stroke="#000" stroke-width="0.9" stroke-dasharray="5,2,1.5,2"/>
<line x1="95.8" y1="967.0" x2="95.8" y2="984.0" stroke="#000" stroke-width="1.0"/>
<polyline points="137.0,907.0 239.0,962.0" fill="none" stroke="#000" stroke-width="0.9" stroke-linejoin="round" stroke-dasharray="7,2,1.5,2"/>
<polygon points="240.0,977.0 209.0,993.7 211.0,997.0 242.0,980.0" fill="#fff" stroke="#000" stroke-width="0.9" stroke-linejoin="round"/>
<polygon points="196.0,995.3 201.0,989.3 210.0,990.3 213.0,996.3 208.0,1004.3 199.0,1004.3" fill="#fff" stroke="#000" stroke-width="1.0" stroke-linejoin="round"/>
<ellipse cx="204.0" cy="998.3" rx="4.5" ry="5.5" transform="rotate(20 204.0 998.3)" fill="#fff" stroke="#000" stroke-width="0.9"/>
<ellipse cx="247.5" cy="970.0" rx="8" ry="9" transform="rotate(20 247.5 970.0)" fill="#fff" stroke="#000" stroke-width="1.1"/>
<ellipse cx="250.0" cy="971.0" rx="6" ry="7" transform="rotate(20 250.0 971.0)" fill="#fff" stroke="#000" stroke-width="1.0"/>
<polygon points="282.9,979.1 307.1,993.1 299.1,1006.9 274.9,992.9" fill="#fff" stroke="#000" stroke-width="1.0" stroke-linejoin="round"/>
<ellipse cx="303.1" cy="1000.0" rx="4" ry="7.5" transform="rotate(30 303.1 1000.0)" fill="#fff" stroke="#000" stroke-width="1.0"/>
<ellipse cx="303.1" cy="1000.0" rx="2.5" ry="5" transform="rotate(30 303.1 1000.0)" fill="#fff" stroke="#000" stroke-width="0.8"/>
<line x1="297.6" y1="987.6" x2="289.6" y2="1001.4" stroke="#000" stroke-width="0.8"/>
<polygon points="274.4,993.8 265.7,988.8 274.7,973.2 283.4,978.2" fill="#fff" stroke="#000" stroke-width="1.0" stroke-linejoin="round"/>
<line x1="276.9" y1="989.5" x2="268.2" y2="984.5" stroke="#000" stroke-width="0.7"/>
<line x1="280.9" y1="982.5" x2="272.2" y2="977.5" stroke="#000" stroke-width="0.7"/>
<ellipse cx="270.2" cy="981.0" rx="6.9230769230769225" ry="9.0" transform="rotate(210 270.2 981.0)" fill="#fff" stroke="#000" stroke-width="0.9"/>
<ellipse cx="267.6" cy="979.5" rx="4" ry="8" transform="rotate(30 267.6 979.5)" fill="#fff" stroke="#000" stroke-width="1.0"/>
<line x1="247.1" y1="980.0" x2="247.1" y2="1003.0" stroke="#000" stroke-width="1.0"/>
<line x1="247.1" y1="1023.0" x2="247.1" y2="1045.3" stroke="#000" stroke-width="1.0"/>
<line x1="247.1" y1="1045.3" x2="282.6" y2="1045.3" stroke="#000" stroke-width="1.0"/>
<line x1="282.6" y1="1001.0" x2="282.6" y2="1045.3" stroke="#000" stroke-width="1.0"/>
<line x1="264.2" y1="1045.3" x2="264.2" y2="1056.0" stroke="#000" stroke-width="1.0"/>
<polygon points="248.1,1150.6 256.4,1154.7 272.9,1147.5 285.3,1154.7 270.9,1162.0 278.1,1166.1 248.1,1166.1" fill="#000" stroke="#000" stroke-width="0.5" stroke-linejoin="round"/>
<path d="M1697.0,183.0 C1694.0,178.0 1706.0,169.0 1718.0,165.0 C1726.0,162.0 1733.0,163.0 1731.0,169.0 L1731.0,173.0 C1729.0,178.0 1716.0,185.0 1706.0,188.0 C1700.0,189.0 1696.0,187.0 1697.0,183.0 Z" fill="#fff" stroke="#000" stroke-width="1.0" stroke-linejoin="round" stroke-linecap="round" />
<path d="M1697.0,183.0 C1699.0,186.0 1712.0,181.0 1731.0,169.0" fill="none" stroke="#000" stroke-width="0.8" stroke-linejoin="round" stroke-linecap="round" />
<polygon points="1711.0,184.0 1723.0,178.0 1724.0,187.0 1713.0,192.0" fill="#fff" stroke="#000" stroke-width="1.0" stroke-linejoin="round"/>
<polygon points="1694.2,221.2 1701.1,217.2 1706.6,226.8 1699.7,230.8" fill="#fff" stroke="#000" stroke-width="1.0" stroke-linejoin="round"/>
<line x1="1695.7" y1="223.9" x2="1702.7" y2="219.9" stroke="#000" stroke-width="0.7"/>
<line x1="1698.2" y1="228.1" x2="1705.1" y2="224.1" stroke="#000" stroke-width="0.7"/>
<ellipse cx="1703.9" cy="222.0" rx="4.230769230769231" ry="5.5" transform="rotate(-30 1703.9 222.0)" fill="#fff" stroke="#000" stroke-width="0.9"/>
<polygon points="1700.2,216.6 1706.3,213.1 1712.8,224.4 1706.7,227.9" fill="#fff" stroke="#000" stroke-width="1.0" stroke-linejoin="round"/>
<line x1="1702.0" y1="219.7" x2="1708.1" y2="216.2" stroke="#000" stroke-width="0.7"/>
<line x1="1704.9" y1="224.8" x2="1710.9" y2="221.3" stroke="#000" stroke-width="0.7"/>
<ellipse cx="1709.5" cy="218.8" rx="5.0" ry="6.5" transform="rotate(-30 1709.5 218.8)" fill="#fff" stroke="#000" stroke-width="0.9"/>
<polygon points="1706.0,212.7 1712.1,209.2 1719.1,221.3 1713.0,224.8" fill="#fff" stroke="#000" stroke-width="1.0" stroke-linejoin="round"/>
<line x1="1707.9" y1="216.1" x2="1714.0" y2="212.6" stroke="#000" stroke-width="0.7"/>
<line x1="1711.1" y1="221.4" x2="1717.1" y2="217.9" stroke="#000" stroke-width="0.7"/>
<ellipse cx="1715.6" cy="215.2" rx="5.384615384615384" ry="7.0" transform="rotate(-30 1715.6 215.2)" fill="#fff" stroke="#000" stroke-width="0.9"/>
<ellipse cx="1696.1" cy="226.5" rx="3.5" ry="5.5" transform="rotate(-30 1696.1 226.5)" fill="#fff" stroke="#000" stroke-width="1.0"/>
<ellipse cx="1696.1" cy="226.5" rx="2.0" ry="3.2" transform="rotate(-30 1696.1 226.5)" fill="#fff" stroke="#000" stroke-width="0.8"/>
<polygon points="1711.5,207.2 1721.9,201.2 1730.9,216.8 1720.5,222.8" fill="#fff" stroke="#000" stroke-width="1.0" stroke-linejoin="round"/>
<polygon points="1723.8,203.6 1731.6,199.1 1737.6,209.4 1729.8,213.9" fill="#fff" stroke="#000" stroke-width="1.0" stroke-linejoin="round"/>
<line x1="1725.5" y1="206.4" x2="1733.3" y2="201.9" stroke="#000" stroke-width="0.7"/>
<line x1="1728.2" y1="211.1" x2="1736.0" y2="206.6" stroke="#000" stroke-width="0.7"/>
<ellipse cx="1734.6" cy="204.2" rx="4.615384615384615" ry="6.0" transform="rotate(-30 1734.6 204.2)" fill="#fff" stroke="#000" stroke-width="0.9"/>
<polygon points="1705.0,200.0 1713.0,196.0 1721.0,200.0 1713.0,204.0" fill="#fff" stroke="#000" stroke-width="1.0" stroke-linejoin="round"/>
<polygon points="1708.0,197.0 1716.0,197.0 1716.0,205.0 1708.0,205.0" fill="#fff" stroke="#000" stroke-width="0.9" stroke-linejoin="round"/>
<ellipse cx="1712.0" cy="197.0" rx="4" ry="2" transform="rotate(0 1712.0 197.0)" fill="#fff" stroke="#000" stroke-width="0.8"/>
<path d="M1707.8,245.8 L1727,245.8 C1727,290 1722,330 1703,363.5 C1711,330 1714,290 1707.8,245.8 Z" fill="#000" stroke="#000" stroke-width="0.5" stroke-linejoin="round" stroke-linecap="round" />
<polygon points="1681.2,411.2 1688.1,407.2 1693.6,416.8 1686.7,420.8" fill="#fff" stroke="#000" stroke-width="1.0" stroke-linejoin="round"/>
<line x1="1682.7" y1="413.9" x2="1689.7" y2="409.9" stroke="#000" stroke-width="0.7"/>
<line x1="1685.2" y1="418.1" x2="1692.1" y2="414.1" stroke="#000" stroke-width="0.7"/>
<ellipse cx="1690.9" cy="412.0" rx="4.230769230769231" ry="5.5" transform="rotate(-30 1690.9 412.0)" fill="#fff" stroke="#000" stroke-width="0.9"/>
<polygon points="1687.2,406.6 1693.3,403.1 1699.8,414.4 1693.7,417.9" fill="#fff" stroke="#000" stroke-width="1.0" stroke-linejoin="round"/>
<line x1="1689.0" y1="409.7" x2="1695.1" y2="406.2" stroke="#000" stroke-width="0.7"/>
<line x1="1691.9" y1="414.8" x2="1697.9" y2="411.3" stroke="#000" stroke-width="0.7"/>
<ellipse cx="1696.5" cy="408.8" rx="5.0" ry="6.5" transform="rotate(-30 1696.5 408.8)" fill="#fff" stroke="#000" stroke-width="0.9"/>
<polygon points="1693.0,402.7 1699.1,399.2 1706.1,411.3 1700.0,414.8" fill="#fff" stroke="#000" stroke-width="1.0" stroke-linejoin="round"/>
<line x1="1694.9" y1="406.1" x2="1701.0" y2="402.6" stroke="#000" stroke-width="0.7"/>
<line x1="1698.1" y1="411.4" x2="1704.1" y2="407.9" stroke="#000" stroke-width="0.7"/>
<ellipse cx="1702.6" cy="405.2" rx="5.384615384615384" ry="7.0" transform="rotate(-30 1702.6 405.2)" fill="#fff" stroke="#000" stroke-width="0.9"/>
<ellipse cx="1683.1" cy="416.5" rx="3.5" ry="5.5" transform="rotate(-30 1683.1 416.5)" fill="#fff" stroke="#000" stroke-width="1.0"/>
<ellipse cx="1683.1" cy="416.5" rx="2.0" ry="3.2" transform="rotate(-30 1683.1 416.5)" fill="#fff" stroke="#000" stroke-width="0.8"/>
<polygon points="1698.5,397.2 1708.9,391.2 1717.9,406.8 1707.5,412.8" fill="#fff" stroke="#000" stroke-width="1.0" stroke-linejoin="round"/>
<polygon points="1710.8,393.6 1718.6,389.1 1724.6,399.4 1716.8,403.9" fill="#fff" stroke="#000" stroke-width="1.0" stroke-linejoin="round"/>
<line x1="1712.5" y1="396.4" x2="1720.3" y2="391.9" stroke="#000" stroke-width="0.7"/>
<line x1="1715.2" y1="401.1" x2="1723.0" y2="396.6" stroke="#000" stroke-width="0.7"/>
<ellipse cx="1721.6" cy="394.2" rx="4.615384615384615" ry="6.0" transform="rotate(-30 1721.6 394.2)" fill="#fff" stroke="#000" stroke-width="0.9"/>
<path d="M1680.2,386.4 C1677.0,381.1 1689.6,371.7 1702.2,367.5 C1710.6,364.4 1718.0,365.4 1715.8,371.7 L1715.8,375.9 C1713.8,381.1 1700.1,388.5 1689.6,391.6 C1683.3,392.7 1679.1,390.6 1680.2,386.4 Z" fill="#fff" stroke="#000" stroke-width="1.0" stroke-linejoin="round" stroke-linecap="round" />
<path d="M1680.2,386.4 C1682.2,389.6 1695.9,384.3 1715.8,371.7" fill="none" stroke="#000" stroke-width="0.8" stroke-linejoin="round" stroke-linecap="round" />
<polygon points="1694.8,387.4 1707.5,381.1 1708.5,390.6 1697.0,395.9" fill="#fff" stroke="#000" stroke-width="1.0" stroke-linejoin="round"/>
<path d="M1632.0,718.5 L1626.8,720.8 Q1622.0,723.0 1618.0,726.5 L1616.7,727.6 Q1614.0,730.0 1613.0,733.5 L1613.0,733.5 Q1612.0,737.0 1613.6,740.3 L1614.0,741.0 Q1616.0,745.0 1620.0,747.0 L1620.0,747.0 Q1624.0,749.0 1628.2,750.5 L1634.0,752.5" fill="none" stroke="#000" stroke-width="7" stroke-linejoin="round" stroke-linecap="butt"/>
<path d="M1632.0,718.5 L1626.8,720.8 Q1622.0,723.0 1618.0,726.5 L1616.7,727.6 Q1614.0,730.0 1613.0,733.5 L1613.0,733.5 Q1612.0,737.0 1613.6,740.3 L1614.0,741.0 Q1616.0,745.0 1620.0,747.0 L1620.0,747.0 Q1624.0,749.0 1628.2,750.5 L1634.0,752.5" fill="none" stroke="#fff" stroke-width="5" stroke-linejoin="round" stroke-linecap="butt"/>
<polygon points="1628.1,713.4 1638.4,707.4 1644.9,718.6 1634.6,724.6" fill="#fff" stroke="#000" stroke-width="1.0" stroke-linejoin="round"/>
<line x1="1629.9" y1="716.5" x2="1640.3" y2="710.5" stroke="#000" stroke-width="0.7"/>
<line x1="1632.7" y1="721.5" x2="1643.1" y2="715.5" stroke="#000" stroke-width="0.7"/>
<ellipse cx="1641.7" cy="713.0" rx="5.0" ry="6.5" transform="rotate(-30 1641.7 713.0)" fill="#fff" stroke="#000" stroke-width="0.9"/>
<polygon points="1632.3,751.0 1642.6,745.0 1649.1,756.2 1638.8,762.2" fill="#fff" stroke="#000" stroke-width="1.0" stroke-linejoin="round"/>
<line x1="1634.1" y1="754.1" x2="1644.5" y2="748.1" stroke="#000" stroke-width="0.7"/>
<line x1="1636.9" y1="759.1" x2="1647.3" y2="753.1" stroke="#000" stroke-width="0.7"/>
<ellipse cx="1645.9" cy="750.6" rx="5.0" ry="6.5" transform="rotate(-30 1645.9 750.6)" fill="#fff" stroke="#000" stroke-width="0.9"/>
<path d="M1517.0,861.5 L1634.0,790.5" fill="none" stroke="#000" stroke-width="8" stroke-linejoin="round" stroke-linecap="butt"/>
<path d="M1517.0,861.5 L1634.0,790.5" fill="none" stroke="#fff" stroke-width="6" stroke-linejoin="round" stroke-linecap="butt"/>
<polygon points="1519.1,866.7 1507.0,873.7 1499.5,860.7 1511.6,853.7" fill="#fff" stroke="#000" stroke-width="1.0" stroke-linejoin="round"/>
<line x1="1517.0" y1="863.1" x2="1504.9" y2="870.1" stroke="#000" stroke-width="0.7"/>
<line x1="1513.7" y1="857.3" x2="1501.6" y2="864.3" stroke="#000" stroke-width="0.7"/>
<ellipse cx="1503.2" cy="867.2" rx="5.769230769230769" ry="7.5" transform="rotate(150 1503.2 867.2)" fill="#fff" stroke="#000" stroke-width="0.9"/>
<polygon points="1629.1,785.0 1639.4,779.0 1646.9,792.0 1636.6,798.0" fill="#fff" stroke="#000" stroke-width="1.0" stroke-linejoin="round"/>
<line x1="1631.1" y1="788.6" x2="1641.5" y2="782.6" stroke="#000" stroke-width="0.7"/>
<line x1="1634.5" y1="794.4" x2="1644.9" y2="788.4" stroke="#000" stroke-width="0.7"/>
<ellipse cx="1643.2" cy="785.5" rx="5.769230769230769" ry="7.5" transform="rotate(-30 1643.2 785.5)" fill="#fff" stroke="#000" stroke-width="0.9"/>
<path d="M1656,771 C1654,764 1658,757 1665,756.5 L1672,757 C1678,758 1682,763 1682.5,768 L1684,772 L1676,781 C1671,785 1664,786 1660,784 Z" fill="#fff" stroke="#000" stroke-width="1.0" stroke-linejoin="round" stroke-linecap="round" />
<path d="M1665,757 C1670,762 1672,770 1668,778" fill="none" stroke="#000" stroke-width="0.8" stroke-linejoin="round" stroke-linecap="round" />
<ellipse cx="1660.7" cy="780.7" rx="5.5" ry="7" transform="rotate(-20 1660.7 780.7)" fill="#fff" stroke="#000" stroke-width="1.3"/>
<ellipse cx="1660.7" cy="780.7" rx="3.8" ry="5" transform="rotate(-20 1660.7 780.7)" fill="#fff" stroke="#000" stroke-width="0.8"/>
<line x1="1618.4" y1="735.0" x2="1655.6" y2="735.0" stroke="#000" stroke-width="1.0"/>
<line x1="1669.6" y1="786.0" x2="1669.6" y2="812.0" stroke="#000" stroke-width="1.0"/>
<line x1="1583.1" y1="826.0" x2="1583.1" y2="854.0" stroke="#000" stroke-width="1.0"/>
<polyline points="1014.0,1146.0 1072.0,1114.0" fill="none" stroke="#000" stroke-width="0.9" stroke-linejoin="round" stroke-dasharray="7,2,1.5,2"/>
<polyline points="1095.0,1122.0 1122.0,1094.0" fill="none" stroke="#000" stroke-width="0.9" stroke-linejoin="round" stroke-dasharray="7,2,1.5,2"/>
<polyline points="1098.0,1098.0 1133.0,1077.0" fill="none" stroke="#000" stroke-width="0.9" stroke-linejoin="round" stroke-dasharray="7,2,1.5,2"/>
<path d="M1052.8,1085.8 C1045.8,1089.8 1047.8,1100.8 1055.8,1102.8 L1065.8,1104.8 L1065.8,1086.8 Z" fill="#fff" stroke="#000" stroke-width="1.0" stroke-linejoin="round" stroke-linecap="round" />
<polygon points="1043.8,1084.8 1047.8,1080.8 1052.8,1081.8 1055.8,1086.8 1051.8,1090.3 1046.8,1089.3" fill="#fff" stroke="#000" stroke-width="1.0" stroke-linejoin="round"/>
<ellipse cx="1079.8" cy="1100.8" rx="19.0" ry="13.0" transform="rotate(-25 1079.8 1100.8)" fill="#fff" stroke="#000" stroke-width="1.0"/>
<polygon points="1063.8,1096.8 1073.8,1091.8 1091.8,1091.8 1095.8,1098.8 1095.8,1112.8 1086.8,1120.8 1073.8,1120.8 1063.8,1111.8" fill="#fff" stroke="#000" stroke-width="1.0" stroke-linejoin="round"/>
<polyline points="1063.8,1096.8 1073.8,1101.8 1082.8,1107.8" fill="none" stroke="#000" stroke-width="0.9" stroke-linejoin="round"/>
<polygon points="1073.7,1086.8 1091.9,1086.8 1091.9,1108.4 1073.7,1108.4" fill="#fff" stroke="#000" stroke-width="1.0" stroke-linejoin="round"/>
<path d="M1073.8,1089.8 Q1082.8,1096.8 1091.8,1089.8" fill="none" stroke="#000" stroke-width="0.9" stroke-linejoin="round" stroke-linecap="round" />
<path d="M1073.8,1088.3 Q1082.8,1093.8 1091.8,1088.3" fill="none" stroke="#000" stroke-width="0.9" stroke-linejoin="round" stroke-linecap="round" />
<path d="M1091.9,1093.6 C1098.8,1095.8 1099.8,1106.8 1091.9,1108.4" fill="none" stroke="#000" stroke-width="1.0" stroke-linejoin="round" stroke-linecap="round" />
<ellipse cx="1082.8" cy="1076.8" rx="17.2" ry="11.8" transform="rotate(0 1082.8 1076.8)" fill="#fff" stroke="#000" stroke-width="1.2"/>
<ellipse cx="1082.9" cy="1074.0" rx="11.4" ry="5.6" transform="rotate(0 1082.9 1074.0)" fill="#fff" stroke="#000" stroke-width="1.1"/>
<polygon points="1073.8,1116.8 1083.8,1108.4 1095.8,1113.3 1087.8,1121.8 1077.8,1123.8" fill="#fff" stroke="#000" stroke-width="1.0" stroke-linejoin="round"/>
<circle cx="1072.3" cy="1111.3" r="5.2" fill="#fff" stroke="#000" stroke-width="1.0"/>
<circle cx="1072.3" cy="1111.3" r="3.3" fill="#fff" stroke="#000" stroke-width="0.8"/>
<polygon points="1067.0,1118.8 1073.8,1118.2 1073.8,1127.8 1068.8,1128.1" fill="#fff" stroke="#000" stroke-width="1.0" stroke-linejoin="round"/>
<path d="M1078.2,1121.8 L1078.2,1139.8 Q1082.8,1146.8 1087.4,1139.8 L1087.4,1121.8 Z" fill="#fff" stroke="#000" stroke-width="1.0" stroke-linejoin="round" stroke-linecap="round" />
<line x1="1078.2" y1="1129.5" x2="1087.4" y2="1129.5" stroke="#000" stroke-width="0.9"/>
<ellipse cx="1022.9" cy="1075.3" rx="6" ry="9" transform="rotate(20 1022.9 1075.3)" fill="#fff" stroke="#000" stroke-width="1.1"/>
<polygon points="1144.7,1076.7 1136.1,1081.7 1130.1,1071.3 1138.7,1066.3" fill="#fff" stroke="#000" stroke-width="1.1" stroke-linejoin="round"/>
<line x1="1143.2" y1="1077.6" x2="1137.2" y2="1067.2" stroke="#000" stroke-width="1.1"/>
<line x1="1141.4" y1="1078.6" x2="1135.4" y2="1068.2" stroke="#000" stroke-width="1.1"/>
<line x1="1139.7" y1="1079.6" x2="1133.7" y2="1069.2" stroke="#000" stroke-width="1.1"/>
<line x1="1138.0" y1="1080.6" x2="1132.0" y2="1070.2" stroke="#000" stroke-width="1.1"/>
<ellipse cx="1133.1" cy="1076.5" rx="3.75" ry="6.0" transform="rotate(150 1133.1 1076.5)" fill="#fff" stroke="#000" stroke-width="1.1"/>
<ellipse cx="1141.7" cy="1071.5" rx="3.75" ry="6.0" transform="rotate(150 1141.7 1071.5)" fill="#fff" stroke="#000" stroke-width="1.1"/>
<polygon points="1133.0,1094.3 1124.4,1099.3 1118.4,1088.9 1127.0,1083.9" fill="#fff" stroke="#000" stroke-width="1.1" stroke-linejoin="round"/>
<line x1="1131.5" y1="1095.2" x2="1125.5" y2="1084.8" stroke="#000" stroke-width="1.1"/>
<line x1="1129.7" y1="1096.2" x2="1123.7" y2="1085.8" stroke="#000" stroke-width="1.1"/>
<line x1="1128.0" y1="1097.2" x2="1122.0" y2="1086.8" stroke="#000" stroke-width="1.1"/>
<line x1="1126.3" y1="1098.2" x2="1120.3" y2="1087.8" stroke="#000" stroke-width="1.1"/>
<ellipse cx="1121.4" cy="1094.1" rx="3.75" ry="6.0" transform="rotate(150 1121.4 1094.1)" fill="#fff" stroke="#000" stroke-width="1.1"/>
<ellipse cx="1130.0" cy="1089.1" rx="3.75" ry="6.0" transform="rotate(150 1130.0 1089.1)" fill="#fff" stroke="#000" stroke-width="1.1"/>
<polygon points="1000.5,1145.4 1010.8,1139.4 1017.3,1150.6 1007.0,1156.6" fill="#fff" stroke="#000" stroke-width="1.1" stroke-linejoin="round"/>
<line x1="1002.0" y1="1144.5" x2="1008.5" y2="1155.7" stroke="#000" stroke-width="1.1"/>
<line x1="1003.7" y1="1143.5" x2="1010.2" y2="1154.7" stroke="#000" stroke-width="1.1"/>
<line x1="1005.5" y1="1142.5" x2="1012.0" y2="1153.7" stroke="#000" stroke-width="1.1"/>
<line x1="1007.2" y1="1141.5" x2="1013.7" y2="1152.7" stroke="#000" stroke-width="1.1"/>
<line x1="1008.9" y1="1140.5" x2="1015.4" y2="1151.7" stroke="#000" stroke-width="1.1"/>
<ellipse cx="1014.1" cy="1145.0" rx="4.0625" ry="6.5" transform="rotate(-30 1014.1 1145.0)" fill="#fff" stroke="#000" stroke-width="1.1"/>
<ellipse cx="1003.7" cy="1151.0" rx="4.0625" ry="6.5" transform="rotate(-30 1003.7 1151.0)" fill="#fff" stroke="#000" stroke-width="1.1"/>
<polygon points="1046.0,1131.0 1054.7,1126.0 1060.7,1136.4 1052.0,1141.4" fill="#fff" stroke="#000" stroke-width="1.0" stroke-linejoin="round"/>
<ellipse cx="1057.7" cy="1131.2" rx="2.5" ry="6" transform="rotate(-30 1057.7 1131.2)" fill="#fff" stroke="#000" stroke-width="1.0"/>
<ellipse cx="1049.0" cy="1136.2" rx="4" ry="6" transform="rotate(-30 1049.0 1136.2)" fill="#fff" stroke="#000" stroke-width="1.0"/>
<line x1="1052.7" y1="1006.0" x2="1052.7" y2="1023.2" stroke="#000" stroke-width="1.2"/>
<line x1="1023.6" y1="1023.2" x2="1082.3" y2="1023.2" stroke="#000" stroke-width="1.2"/>
<line x1="1023.6" y1="1023.2" x2="1023.6" y2="1032.4" stroke="#000" stroke-width="1.2"/>
<line x1="1082.3" y1="1023.2" x2="1082.3" y2="1065.7" stroke="#000" stroke-width="1.2"/>
<line x1="1023.6" y1="1057.4" x2="1023.6" y2="1064.8" stroke="#000" stroke-width="1.2"/>
<line x1="1138.3" y1="1036.1" x2="1138.3" y2="1066.6" stroke="#000" stroke-width="1.2"/>
<line x1="1127.8" y1="1097.1" x2="1127.8" y2="1125.8" stroke="#000" stroke-width="1.2"/>
<line x1="1005.7" y1="1113.8" x2="1005.7" y2="1140.6" stroke="#000" stroke-width="1.2"/>
<line x1="1053.8" y1="1139.6" x2="1053.8" y2="1169.2" stroke="#000" stroke-width="1.2"/>
<polyline points="1250.8,1146.5 1308.8,1114.5" fill="none" stroke="#000" stroke-width="0.9" stroke-linejoin="round" stroke-dasharray="7,2,1.5,2"/>
<polyline points="1331.8,1122.5 1358.8,1094.5" fill="none" stroke="#000" stroke-width="0.9" stroke-linejoin="round" stroke-dasharray="7,2,1.5,2"/>
<polyline points="1334.8,1098.5 1369.8,1077.5" fill="none" stroke="#000" stroke-width="0.9" stroke-linejoin="round" stroke-dasharray="7,2,1.5,2"/>
<path d="M1289.6,1086.3 C1282.6,1090.3 1284.6,1101.3 1292.6,1103.3 L1302.6,1105.3 L1302.6,1087.3 Z" fill="#fff" stroke="#000" stroke-width="1.0" stroke-linejoin="round" stroke-linecap="round" />
<polygon points="1280.6,1085.3 1284.6,1081.3 1289.6,1082.3 1292.6,1087.3 1288.6,1090.8 1283.6,1089.8" fill="#fff" stroke="#000" stroke-width="1.0" stroke-linejoin="round"/>
<ellipse cx="1316.6" cy="1101.3" rx="19.0" ry="13.0" transform="rotate(-25 1316.6 1101.3)" fill="#fff" stroke="#000" stroke-width="1.0"/>
<polygon points="1300.6,1097.3 1310.6,1092.3 1328.6,1092.3 1332.6,1099.3 1332.6,1113.3 1323.6,1121.3 1310.6,1121.3 1300.6,1112.3" fill="#fff" stroke="#000" stroke-width="1.0" stroke-linejoin="round"/>
<polyline points="1300.6,1097.3 1310.6,1102.3 1319.6,1108.3" fill="none" stroke="#000" stroke-width="0.9" stroke-linejoin="round"/>
<polygon points="1310.5,1087.3 1328.7,1087.3 1328.7,1108.9 1310.5,1108.9" fill="#fff" stroke="#000" stroke-width="1.0" stroke-linejoin="round"/>
<path d="M1310.6,1090.3 Q1319.6,1097.3 1328.6,1090.3" fill="none" stroke="#000" stroke-width="0.9" stroke-linejoin="round" stroke-linecap="round" />
<path d="M1310.6,1088.8 Q1319.6,1094.3 1328.6,1088.8" fill="none" stroke="#000" stroke-width="0.9" stroke-linejoin="round" stroke-linecap="round" />
<path d="M1328.7,1094.1 C1335.6,1096.3 1336.6,1107.3 1328.7,1108.9" fill="none" stroke="#000" stroke-width="1.0" stroke-linejoin="round" stroke-linecap="round" />
<ellipse cx="1319.6" cy="1077.3" rx="17.2" ry="11.8" transform="rotate(0 1319.6 1077.3)" fill="#fff" stroke="#000" stroke-width="1.2"/>
<ellipse cx="1319.7" cy="1074.5" rx="11.4" ry="5.6" transform="rotate(0 1319.7 1074.5)" fill="#fff" stroke="#000" stroke-width="1.1"/>
<polygon points="1310.6,1117.3 1320.6,1108.9 1332.6,1113.8 1324.6,1122.3 1314.6,1124.3" fill="#fff" stroke="#000" stroke-width="1.0" stroke-linejoin="round"/>
<circle cx="1309.1" cy="1111.8" r="5.2" fill="#fff" stroke="#000" stroke-width="1.0"/>
<circle cx="1309.1" cy="1111.8" r="3.3" fill="#fff" stroke="#000" stroke-width="0.8"/>
<polygon points="1303.8,1119.3 1310.6,1118.7 1310.6,1128.3 1305.6,1128.6" fill="#fff" stroke="#000" stroke-width="1.0" stroke-linejoin="round"/>
<path d="M1315.0,1122.3 L1315.0,1140.3 Q1319.6,1147.3 1324.2,1140.3 L1324.2,1122.3 Z" fill="#fff" stroke="#000" stroke-width="1.0" stroke-linejoin="round" stroke-linecap="round" />
<line x1="1315.0" y1="1130.0" x2="1324.2" y2="1130.0" stroke="#000" stroke-width="0.9"/>
<ellipse cx="1259.7" cy="1075.8" rx="6" ry="9" transform="rotate(20 1259.7 1075.8)" fill="#fff" stroke="#000" stroke-width="1.1"/>
<polygon points="1381.5,1077.2 1372.9,1082.2 1366.9,1071.8 1375.5,1066.8" fill="#fff" stroke="#000" stroke-width="1.1" stroke-linejoin="round"/>
<line x1="1380.0" y1="1078.1" x2="1374.0" y2="1067.7" stroke="#000" stroke-width="1.1"/>
<line x1="1378.2" y1="1079.1" x2="1372.2" y2="1068.7" stroke="#000" stroke-width="1.1"/>
<line x1="1376.5" y1="1080.1" x2="1370.5" y2="1069.7" stroke="#000" stroke-width="1.1"/>
<line x1="1374.8" y1="1081.1" x2="1368.8" y2="1070.7" stroke="#000" stroke-width="1.1"/>
<ellipse cx="1369.9" cy="1077.0" rx="3.75" ry="6.0" transform="rotate(150 1369.9 1077.0)" fill="#fff" stroke="#000" stroke-width="1.1"/>
<ellipse cx="1378.5" cy="1072.0" rx="3.75" ry="6.0" transform="rotate(150 1378.5 1072.0)" fill="#fff" stroke="#000" stroke-width="1.1"/>
<polygon points="1369.8,1094.8 1361.2,1099.8 1355.2,1089.4 1363.8,1084.4" fill="#fff" stroke="#000" stroke-width="1.1" stroke-linejoin="round"/>
<line x1="1368.3" y1="1095.7" x2="1362.3" y2="1085.3" stroke="#000" stroke-width="1.1"/>
<line x1="1366.5" y1="1096.7" x2="1360.5" y2="1086.3" stroke="#000" stroke-width="1.1"/>
<line x1="1364.8" y1="1097.7" x2="1358.8" y2="1087.3" stroke="#000" stroke-width="1.1"/>
<line x1="1363.1" y1="1098.7" x2="1357.1" y2="1088.3" stroke="#000" stroke-width="1.1"/>
<ellipse cx="1358.2" cy="1094.6" rx="3.75" ry="6.0" transform="rotate(150 1358.2 1094.6)" fill="#fff" stroke="#000" stroke-width="1.1"/>
<ellipse cx="1366.8" cy="1089.6" rx="3.75" ry="6.0" transform="rotate(150 1366.8 1089.6)" fill="#fff" stroke="#000" stroke-width="1.1"/>
<polygon points="1237.3,1145.9 1247.6,1139.9 1254.1,1151.1 1243.8,1157.1" fill="#fff" stroke="#000" stroke-width="1.1" stroke-linejoin="round"/>
<line x1="1238.8" y1="1145.0" x2="1245.3" y2="1156.2" stroke="#000" stroke-width="1.1"/>
<line x1="1240.5" y1="1144.0" x2="1247.0" y2="1155.2" stroke="#000" stroke-width="1.1"/>
<line x1="1242.3" y1="1143.0" x2="1248.8" y2="1154.2" stroke="#000" stroke-width="1.1"/>
<line x1="1244.0" y1="1142.0" x2="1250.5" y2="1153.2" stroke="#000" stroke-width="1.1"/>
<line x1="1245.7" y1="1141.0" x2="1252.2" y2="1152.2" stroke="#000" stroke-width="1.1"/>
<ellipse cx="1250.9" cy="1145.5" rx="4.0625" ry="6.5" transform="rotate(-30 1250.9 1145.5)" fill="#fff" stroke="#000" stroke-width="1.1"/>
<ellipse cx="1240.5" cy="1151.5" rx="4.0625" ry="6.5" transform="rotate(-30 1240.5 1151.5)" fill="#fff" stroke="#000" stroke-width="1.1"/>
<polygon points="1282.8,1131.5 1291.5,1126.5 1297.5,1136.9 1288.8,1141.9" fill="#fff" stroke="#000" stroke-width="1.0" stroke-linejoin="round"/>
<ellipse cx="1294.5" cy="1131.7" rx="2.5" ry="6" transform="rotate(-30 1294.5 1131.7)" fill="#fff" stroke="#000" stroke-width="1.0"/>
<ellipse cx="1285.8" cy="1136.7" rx="4" ry="6" transform="rotate(-30 1285.8 1136.7)" fill="#fff" stroke="#000" stroke-width="1.0"/>
<line x1="1289.5" y1="1006.5" x2="1289.5" y2="1023.7" stroke="#000" stroke-width="1.2"/>
<line x1="1260.4" y1="1023.7" x2="1319.1" y2="1023.7" stroke="#000" stroke-width="1.2"/>
<line x1="1260.4" y1="1023.7" x2="1260.4" y2="1032.9" stroke="#000" stroke-width="1.2"/>
<line x1="1319.1" y1="1023.7" x2="1319.1" y2="1066.2" stroke="#000" stroke-width="1.2"/>
<line x1="1260.4" y1="1057.9" x2="1260.4" y2="1065.3" stroke="#000" stroke-width="1.2"/>
<line x1="1375.1" y1="1036.6" x2="1375.1" y2="1067.1" stroke="#000" stroke-width="1.2"/>
<line x1="1364.6" y1="1097.6" x2="1364.6" y2="1126.3" stroke="#000" stroke-width="1.2"/>
<line x1="1242.5" y1="1114.3" x2="1242.5" y2="1141.1" stroke="#000" stroke-width="1.2"/>
<line x1="1290.6" y1="1140.1" x2="1290.6" y2="1169.7" stroke="#000" stroke-width="1.2"/>
<path d="M1578,1036 C1555,1038 1533,1050 1525,1075 C1519,1093 1522,1106 1529,1112 L1535,1118 C1530,1108 1527,1095 1531,1078 C1538,1056 1556,1045 1580,1043 Z" fill="#fff" stroke="#000" stroke-width="1.0" stroke-linejoin="round" stroke-linecap="round" />
<polygon points="1573.1,1027.7 1583.4,1031.5 1582.6,1039.7 1571.2,1038.8" fill="#fff" stroke="#000" stroke-width="1.0" stroke-linejoin="round"/>
<circle cx="1576.5" cy="1034.5" r="1.5" fill="#fff" stroke="#000" stroke-width="0.8"/>
<polygon points="1527.6,1106.7 1537.9,1110.5 1535.8,1119.3 1525.1,1116.5" fill="#fff" stroke="#000" stroke-width="1.0" stroke-linejoin="round"/>
<circle cx="1531.0" cy="1112.0" r="1.5" fill="#fff" stroke="#000" stroke-width="0.8"/>
<ellipse cx="1580.0" cy="1084.0" rx="30" ry="37.5" transform="rotate(20 1580.0 1084.0)" fill="#5c5c5c" stroke="#000" stroke-width="1.0"/>
<ellipse cx="1572.0" cy="1086.0" rx="30" ry="37.5" transform="rotate(20 1572.0 1086.0)" fill="#fff" stroke="#000" stroke-width="1.3"/>
<ellipse cx="1574.5" cy="1086.5" rx="26.5" ry="34" transform="rotate(20 1574.5 1086.5)" fill="#fff" stroke="#000" stroke-width="0.9"/>
<ellipse cx="1577.0" cy="1087.0" rx="23.5" ry="31" transform="rotate(20 1577.0 1087.0)" fill="#fff" stroke="#000" stroke-width="0.8"/>
<path d="M1610,1053 L1622,1060 L1629,1072 L1629,1092 L1618,1110 L1606,1126 L1600,1130 L1594,1125 L1605,1110 L1615,1094 L1620,1075 L1612,1063 Z" fill="#fff" stroke="#000" stroke-width="1.0" stroke-linejoin="round" stroke-linecap="round" />
<polygon points="1610.8,1049.5 1622.6,1055.0 1619.7,1063.6 1607.4,1059.0" fill="#fff" stroke="#000" stroke-width="1.0" stroke-linejoin="round"/>
<circle cx="1615.0" cy="1057.0" r="1.5" fill="#fff" stroke="#000" stroke-width="0.8"/>
<polygon points="1566.0,1132.0 1600.0,1122.0 1606.0,1128.0 1590.0,1138.0 1572.0,1142.0" fill="#fff" stroke="#000" stroke-width="1.0" stroke-linejoin="round"/>
<circle cx="1570.0" cy="1136.0" r="4.5" fill="#fff" stroke="#000" stroke-width="1.0"/>
<circle cx="1570.0" cy="1136.0" r="1.5" fill="#fff" stroke="#000" stroke-width="0.8"/>
<circle cx="1622.0" cy="1080.0" r="1.2" fill="#fff" stroke="#000" stroke-width="0.8"/>
<circle cx="1622.0" cy="1086.0" r="1.2" fill="#fff" stroke="#000" stroke-width="0.8"/>
<polyline points="1553.0,1021.0 1638.0,1070.0" fill="none" stroke="#000" stroke-width="0.9" stroke-linejoin="round" stroke-dasharray="7,2,1.5,2"/>
<line x1="1597.3" y1="1028.0" x2="1597.3" y2="1145.0" stroke="#000" stroke-width="0.8" stroke-dasharray="6,2,1.5,2"/>
<ellipse cx="1553.0" cy="1021.0" rx="3.5" ry="3.5" transform="rotate(0 1553.0 1021.0)" fill="#fff" stroke="#000" stroke-width="1.0"/>
<ellipse cx="1597.3" cy="1027.0" rx="2.8" ry="3.5" transform="rotate(0 1597.3 1027.0)" fill="#fff" stroke="#000" stroke-width="1.0"/>
<polygon points="1633.0,1066.0 1640.0,1069.0 1642.0,1073.0 1637.0,1074.0 1631.0,1070.0" fill="#fff" stroke="#000" stroke-width="1.0" stroke-linejoin="round"/>
<polygon points="1594.7,1143.5 1600.8,1143.5 1600.8,1148.7 1594.7,1148.7" fill="#000" stroke="#000" stroke-width="0.8" stroke-linejoin="round"/>
<line x1="1526.5" y1="1019.2" x2="1551.0" y2="1019.2" stroke="#000" stroke-width="1.2"/>
<line x1="1600.0" y1="1028.9" x2="1624.4" y2="1028.9" stroke="#000" stroke-width="1.2"/>
<line x1="1640.2" y1="1070.9" x2="1659.4" y2="1070.9" stroke="#000" stroke-width="1.2"/>
<line x1="1511.6" y1="1056.0" x2="1530.8" y2="1056.0" stroke="#000" stroke-width="1.2"/>
<line x1="1621.0" y1="1109.3" x2="1644.6" y2="1109.3" stroke="#000" stroke-width="1.2"/>
<line x1="1600.0" y1="1146.1" x2="1626.2" y2="1146.1" stroke="#000" stroke-width="1.2"/>
<line x1="1561.5" y1="1120.7" x2="1561.5" y2="1154.0" stroke="#000" stroke-width="1.2"/>
<rect x="9.0" y="10.0" width="68.9" height="23.0" fill="#fff"/>
<rect x="9.0" y="32.5" width="115.3" height="23.0" fill="#fff"/>
<rect x="901.0" y="26.0" width="64.1" height="23.0" fill="#fff"/>
<rect x="1637.0" y="115.6" width="64.1" height="23.0" fill="#fff"/>
<rect x="1594.0" y="196.6" width="81.2" height="23.0" fill="#fff"/>
<rect x="1106.3" y="330.3" width="77.5" height="23.0" fill="#fff"/>
<rect x="1580.3" y="327.8" width="79.9" height="23.0" fill="#fff"/>
<rect x="1315.0" y="398.0" width="77.5" height="23.0" fill="#fff"/>
<rect x="1479.0" y="465.5" width="77.5" height="23.0" fill="#fff"/>
<rect x="173.0" y="450.0" width="77.5" height="23.0" fill="#fff"/>
<rect x="746.0" y="469.7" width="78.7" height="23.0" fill="#fff"/>
<rect x="1029.7" y="430.3" width="77.5" height="23.0" fill="#fff"/>
<rect x="950.3" y="468.7" width="64.1" height="23.0" fill="#fff"/>
<rect x="1365.0" y="510.6" width="79.9" height="23.0" fill="#fff"/>
<rect x="1197.0" y="543.0" width="77.5" height="23.0" fill="#fff"/>
<rect x="1535.5" y="580.1" width="78.7" height="23.0" fill="#fff"/>
<rect x="1081.3" y="585.3" width="79.9" height="23.0" fill="#fff"/>
<rect x="69.0" y="528.7" width="79.9" height="23.0" fill="#fff"/>
<rect x="161.7" y="585.3" width="78.7" height="23.0" fill="#fff"/>
<rect x="673.7" y="614.3" width="79.9" height="23.0" fill="#fff"/>
<rect x="1423.6" y="643.2" width="78.7" height="23.0" fill="#fff"/>
<rect x="868.7" y="645.3" width="79.9" height="23.0" fill="#fff"/>
<rect x="1086.0" y="650.3" width="79.9" height="23.0" fill="#fff"/>
<rect x="293.7" y="662.7" width="79.9" height="23.0" fill="#fff"/>
<rect x="1486.0" y="681.0" width="103.1" height="23.0" fill="#fff"/>
<rect x="1486.0" y="703.7" width="127.5" height="23.0" fill="#fff"/>
<rect x="607.0" y="688.0" width="77.5" height="23.0" fill="#fff"/>
<rect x="177.3" y="707.0" width="78.7" height="23.0" fill="#fff"/>
<rect x="493.7" y="720.3" width="79.9" height="23.0" fill="#fff"/>
<rect x="835.3" y="720.3" width="77.5" height="23.0" fill="#fff"/>
<rect x="1280.0" y="720.4" width="79.9" height="23.0" fill="#fff"/>
<rect x="1656.0" y="726.1" width="78.7" height="23.0" fill="#fff"/>
<rect x="146.7" y="739.3" width="78.7" height="23.0" fill="#fff"/>
<rect x="868.7" y="768.7" width="78.7" height="23.0" fill="#fff"/>
<rect x="132.3" y="780.3" width="64.1" height="23.0" fill="#fff"/>
<rect x="1180.3" y="781.2" width="78.7" height="23.0" fill="#fff"/>
<rect x="1001.3" y="785.3" width="64.1" height="23.0" fill="#fff"/>
<rect x="328.8" y="796.0" width="79.9" height="23.0" fill="#fff"/>
<rect x="1632.5" y="812.8" width="78.7" height="23.0" fill="#fff"/>
<rect x="872.0" y="816.1" width="78.7" height="23.0" fill="#fff"/>
<rect x="216.0" y="827.9" width="79.9" height="23.0" fill="#fff"/>
<rect x="1093.4" y="833.0" width="64.1" height="23.0" fill="#fff"/>
<rect x="803.7" y="843.0" width="79.9" height="23.0" fill="#fff"/>
<rect x="413.7" y="848.0" width="77.5" height="23.0" fill="#fff"/>
<rect x="1546.7" y="854.8" width="78.7" height="23.0" fill="#fff"/>
<rect x="948.9" y="916.3" width="78.7" height="23.0" fill="#fff"/>
<rect x="601.1" y="975.7" width="79.9" height="23.0" fill="#fff"/>
<rect x="701.9" y="975.7" width="77.5" height="23.0" fill="#fff"/>
<rect x="215.4" y="1002.0" width="64.1" height="23.0" fill="#fff"/>
<rect x="855.8" y="1036.2" width="64.1" height="23.0" fill="#fff"/>
<rect x="225.5" y="1057.4" width="78.7" height="23.0" fill="#fff"/>
<rect x="655.9" y="1086.0" width="78.7" height="23.0" fill="#fff"/>
<rect x="389.5" y="1115.2" width="78.7" height="23.0" fill="#fff"/>
<rect x="202.6" y="1165.6" width="48.0" height="27.6" fill="#fff"/>
<rect x="1015.4" y="986.8" width="78.7" height="23.0" fill="#fff"/>
<rect x="1100.1" y="1016.7" width="77.5" height="23.0" fill="#fff"/>
<rect x="986.9" y="1036.2" width="82.4" height="23.0" fill="#fff"/>
<rect x="972.8" y="1091.7" width="64.1" height="23.0" fill="#fff"/>
<rect x="1091.0" y="1125.3" width="75.0" height="23.0" fill="#fff"/>
<rect x="1016.4" y="1170.6" width="79.9" height="23.0" fill="#fff"/>
<rect x="1252.6" y="985.9" width="78.7" height="23.0" fill="#fff"/>
<rect x="1335.7" y="1016.1" width="77.5" height="23.0" fill="#fff"/>
<rect x="1224.0" y="1036.3" width="82.4" height="23.0" fill="#fff"/>
<rect x="1209.0" y="1091.8" width="64.1" height="23.0" fill="#fff"/>
<rect x="1328.3" y="1127.0" width="75.0" height="23.0" fill="#fff"/>
<rect x="1252.6" y="1173.4" width="79.9" height="23.0" fill="#fff"/>
<rect x="1445.9" y="1010.1" width="83.6" height="23.0" fill="#fff"/>
<rect x="1623.4" y="1012.1" width="83.6" height="23.0" fill="#fff"/>
<rect x="1623.4" y="1031.3" width="73.8" height="23.0" fill="#fff"/>
<rect x="1434.1" y="1048.1" width="79.9" height="23.0" fill="#fff"/>
<rect x="1658.3" y="1062.5" width="83.6" height="23.0" fill="#fff"/>
<rect x="1644.9" y="1099.5" width="79.9" height="23.0" fill="#fff"/>
<rect x="1626.8" y="1128.0" width="79.9" height="23.0" fill="#fff"/>
<rect x="1626.8" y="1145.5" width="78.7" height="23.0" fill="#fff"/>
<rect x="1523.9" y="1156.6" width="78.7" height="23.0" fill="#fff"/>
<circle cx="449.0" cy="84.0" r="13.5" fill="#fff" stroke="#000" stroke-width="1.2"/>
<text x="449.0" y="91.9" font-size="22" text-anchor="middle">c</text>
<circle cx="516.0" cy="85.0" r="13.5" fill="#fff" stroke="#000" stroke-width="1.2"/>
<text x="516.0" y="92.9" font-size="22" text-anchor="middle">c</text>
<circle cx="382.0" cy="113.0" r="13.5" fill="#fff" stroke="#000" stroke-width="1.2"/>
<text x="382.0" y="120.9" font-size="22" text-anchor="middle">c</text>
<circle cx="288.5" cy="168.0" r="13.5" fill="#fff" stroke="#000" stroke-width="1.2"/>
<text x="288.5" y="175.9" font-size="22" text-anchor="middle">c</text>
<circle cx="228.0" cy="202.5" r="13.5" fill="#fff" stroke="#000" stroke-width="1.2"/>
<text x="228.0" y="210.4" font-size="22" text-anchor="middle">c</text>
<circle cx="690.0" cy="171.0" r="13.5" fill="#fff" stroke="#000" stroke-width="1.2"/>
<text x="690.0" y="178.9" font-size="22" text-anchor="middle">c</text>
<circle cx="621.0" cy="211.0" r="13.5" fill="#fff" stroke="#000" stroke-width="1.2"/>
<text x="621.0" y="218.9" font-size="22" text-anchor="middle">c</text>
<circle cx="556.4" cy="248.2" r="13.5" fill="#fff" stroke="#000" stroke-width="1.2"/>
<text x="556.4" y="256.1" font-size="22" text-anchor="middle">c</text>
<circle cx="472.7" cy="296.6" r="13.5" fill="#fff" stroke="#000" stroke-width="1.2"/>
<text x="472.7" y="304.5" font-size="22" text-anchor="middle">c</text>
<circle cx="410.4" cy="332.9" r="13.5" fill="#fff" stroke="#000" stroke-width="1.2"/>
<text x="410.4" y="340.8" font-size="22" text-anchor="middle">c</text>
<circle cx="1561.9" cy="292.7" r="13.5" fill="#fff" stroke="#000" stroke-width="1.2"/>
<text x="1561.9" y="300.6" font-size="22" text-anchor="middle">a</text>
<circle cx="1352.7" cy="475.8" r="13.5" fill="#fff" stroke="#000" stroke-width="1.2"/>
<text x="1352.7" y="483.7" font-size="22" text-anchor="middle">a</text>
<circle cx="1071.0" cy="613.0" r="13.5" fill="#fff" stroke="#000" stroke-width="1.2"/>
<text x="1071.0" y="620.9" font-size="22" text-anchor="middle">b</text>
<circle cx="793.3" cy="797.5" r="13.5" fill="#fff" stroke="#000" stroke-width="1.2"/>
<text x="793.3" y="805.4" font-size="22" text-anchor="middle">a</text>
<circle cx="578.0" cy="944.5" r="13.5" fill="#fff" stroke="#000" stroke-width="1.2"/>
<text x="578.0" y="952.4" font-size="22" text-anchor="middle">a</text>
<circle cx="1141.2" cy="568.0" r="13.5" fill="#fff" stroke="#000" stroke-width="1.2"/>
<text x="1141.2" y="575.9" font-size="22" text-anchor="middle">A</text>
<circle cx="1191.5" cy="461.0" r="13.5" fill="#fff" stroke="#000" stroke-width="1.2"/>
<text x="1191.5" y="468.9" font-size="22" text-anchor="middle">B</text>
<circle cx="46.0" cy="854.4" r="13.5" fill="#fff" stroke="#000" stroke-width="1.2"/>
<text x="46.0" y="862.3" font-size="22" text-anchor="middle">A</text>
<circle cx="95.8" cy="998.2" r="13.5" fill="#fff" stroke="#000" stroke-width="1.2"/>
<text x="95.8" y="1006.1" font-size="22" text-anchor="middle">B</text>
<circle cx="975.7" cy="959.2" r="13.5" fill="#fff" stroke="#000" stroke-width="1.2"/>
<text x="975.7" y="967.1" font-size="22" text-anchor="middle">a</text>
<circle cx="1212.0" cy="959.3" r="13.5" fill="#fff" stroke="#000" stroke-width="1.2"/>
<text x="1212.0" y="967.2" font-size="22" text-anchor="middle">b</text>
<circle cx="1448.9" cy="959.3" r="13.5" fill="#fff" stroke="#000" stroke-width="1.2"/>
<text x="1448.9" y="967.2" font-size="22" text-anchor="middle">c</text>
<line x1="21.5" y1="63.5" x2="1755.5" y2="63.5" stroke="#000" stroke-width="1.3"/>
<line x1="21.5" y1="63.0" x2="21.5" y2="1211.0" stroke="#000" stroke-width="1.3"/>
<line x1="1755.5" y1="63.0" x2="1755.5" y2="1211.0" stroke="#000" stroke-width="1.3"/>
<text x="0" y="0" font-size="23.0" transform="translate(11.0,30.0) scale(0.955,1)">(C6A*)</text>
<text x="0" y="0" font-size="23.0" transform="translate(11.0,52.5) scale(0.955,1)">(820L-5EA)</text>
<text x="0" y="0" font-size="23.0" transform="translate(903.0,46.0) scale(0.955,1)">31100</text>
<line x1="932.5" y1="47.0" x2="932.5" y2="63.0" stroke="#000" stroke-width="1.2"/>
<rect x="1589.5" y="150.5" width="158" height="87" fill="none" stroke="#000" stroke-width="1.3"/>
<text x="0" y="0" font-size="23.0" transform="translate(1639.0,135.6) scale(0.955,1)">31305</text>
<line x1="1668.5" y1="135.0" x2="1668.5" y2="150.0" stroke="#000" stroke-width="1.2"/>
<text x="0" y="0" font-size="23.0" transform="translate(1596.0,216.6) scale(0.955,1)">31306G</text>
<line x1="1674.5" y1="204.5" x2="1708.0" y2="204.5" stroke="#000" stroke-width="1.2"/>
<text x="0" y="0" font-size="23.0" transform="translate(1108.3,350.3) scale(0.955,1)">31110F</text>
<line x1="1145.0" y1="351.7" x2="1145.0" y2="380.0" stroke="#000" stroke-width="1.2"/>
<text x="0" y="0" font-size="23.0" transform="translate(1582.3,347.8) scale(0.955,1)">31366D</text>
<line x1="1618.7" y1="347.5" x2="1618.7" y2="381.0" stroke="#000" stroke-width="1.2"/>
<text x="0" y="0" font-size="23.0" transform="translate(1317.0,418.0) scale(0.955,1)">31110F</text>
<line x1="1351.0" y1="368.0" x2="1351.0" y2="398.0" stroke="#000" stroke-width="1.2"/>
<text x="0" y="0" font-size="23.0" transform="translate(1481.0,485.5) scale(0.955,1)">31352F</text>
<line x1="1514.0" y1="436.8" x2="1514.0" y2="466.8" stroke="#000" stroke-width="1.2"/>
<text x="0" y="0" font-size="23.0" transform="translate(175.0,470.0) scale(0.955,1)">31155F</text>
<line x1="251.0" y1="458.7" x2="280.0" y2="458.7" stroke="#000" stroke-width="1.2"/>
<text x="0" y="0" font-size="23.0" transform="translate(748.0,489.7) scale(0.955,1)">31156E</text>
<line x1="715.0" y1="479.0" x2="746.7" y2="479.0" stroke="#000" stroke-width="1.2"/>
<text x="0" y="0" font-size="23.0" transform="translate(1031.7,450.3) scale(0.955,1)">31356F</text>
<line x1="1067.3" y1="450.0" x2="1067.3" y2="480.0" stroke="#000" stroke-width="1.2"/>
<text x="0" y="0" font-size="23.0" transform="translate(952.3,488.7) scale(0.955,1)">31302</text>
<line x1="982.3" y1="488.3" x2="982.3" y2="515.0" stroke="#000" stroke-width="1.2"/>
<text x="0" y="0" font-size="23.0" transform="translate(1367.0,530.6) scale(0.955,1)">31366D</text>
<line x1="1402.2" y1="531.3" x2="1402.2" y2="565.4" stroke="#000" stroke-width="1.2"/>
<text x="0" y="0" font-size="23.0" transform="translate(1199.0,563.0) scale(0.955,1)">31352F</text>
<line x1="1233.5" y1="567.0" x2="1233.5" y2="587.0" stroke="#000" stroke-width="1.2"/>
<text x="0" y="0" font-size="23.0" transform="translate(1537.5,600.1) scale(0.955,1)">31359E</text>
<line x1="1573.6" y1="547.0" x2="1573.6" y2="575.4" stroke="#000" stroke-width="1.2"/>
<text x="0" y="0" font-size="23.0" transform="translate(1083.3,605.3) scale(0.955,1)">31365C</text>
<line x1="1160.0" y1="594.0" x2="1190.0" y2="594.0" stroke="#000" stroke-width="1.2"/>
<rect x="66" y="527.5" width="87" height="25" fill="none" stroke="#d42020" stroke-width="2"/>
<text x="0" y="0" font-size="23.0" transform="translate(71.0,548.7) scale(0.955,1)">31153C</text>
<line x1="101.0" y1="553.0" x2="101.0" y2="580.0" stroke="#000" stroke-width="1.2"/>
<text x="0" y="0" font-size="23.0" transform="translate(163.7,605.3) scale(0.955,1)">31151B</text>
<line x1="199.3" y1="556.7" x2="199.3" y2="580.0" stroke="#000" stroke-width="1.2"/>
<text x="0" y="0" font-size="23.0" transform="translate(675.7,634.3) scale(0.955,1)">31157C</text>
<line x1="711.7" y1="583.3" x2="711.7" y2="613.3" stroke="#000" stroke-width="1.2"/>
<text x="0" y="0" font-size="23.0" transform="translate(1425.6,663.2) scale(0.955,1)">31311P</text>
<line x1="1460.6" y1="613.8" x2="1460.6" y2="642.2" stroke="#000" stroke-width="1.2"/>
<text x="0" y="0" font-size="23.0" transform="translate(870.7,665.3) scale(0.955,1)">31355C</text>
<line x1="946.7" y1="656.0" x2="978.3" y2="656.0" stroke="#000" stroke-width="1.2"/>
<text x="0" y="0" font-size="23.0" transform="translate(1088.0,670.3) scale(0.955,1)">31366D</text>
<line x1="1123.3" y1="670.0" x2="1123.3" y2="701.7" stroke="#000" stroke-width="1.2"/>
<text x="0" y="0" font-size="23.0" transform="translate(295.7,682.7) scale(0.955,1)">31153C</text>
<line x1="331.0" y1="631.7" x2="331.0" y2="660.0" stroke="#000" stroke-width="1.2"/>
<text x="0" y="0" font-size="23.0" transform="translate(1488.0,701.0) scale(0.955,1)">(984-6EA)</text>
<text x="0" y="0" font-size="23.0" transform="translate(1488.0,723.7) scale(0.955,1)">(1148L-7EA)</text>
<text x="0" y="0" font-size="23.0" transform="translate(609.0,708.0) scale(0.955,1)">31110F</text>
<line x1="643.3" y1="706.7" x2="643.3" y2="740.0" stroke="#000" stroke-width="1.2"/>
<text x="0" y="0" font-size="23.0" transform="translate(179.3,727.0) scale(0.955,1)">31152B</text>
<line x1="215.7" y1="678.0" x2="215.7" y2="708.0" stroke="#000" stroke-width="1.2"/>
<text x="0" y="0" font-size="23.0" transform="translate(495.7,740.3) scale(0.955,1)">31154D</text>
<line x1="527.3" y1="690.7" x2="527.3" y2="721.7" stroke="#000" stroke-width="1.2"/>
<text x="0" y="0" font-size="23.0" transform="translate(837.3,740.3) scale(0.955,1)">31110F</text>
<line x1="872.7" y1="690.0" x2="872.7" y2="718.3" stroke="#000" stroke-width="1.2"/>
<text x="0" y="0" font-size="23.0" transform="translate(1282.0,740.4) scale(0.955,1)">31358N</text>
<line x1="1317.7" y1="690.7" x2="1317.7" y2="720.7" stroke="#000" stroke-width="1.2"/>
<text x="0" y="0" font-size="23.0" transform="translate(1658.0,746.1) scale(0.955,1)">31368A</text>
<text x="0" y="0" font-size="23.0" transform="translate(148.7,759.3) scale(0.955,1)">31303A</text>
<line x1="116.7" y1="748.3" x2="145.0" y2="748.3" stroke="#000" stroke-width="1.2"/>
<text x="0" y="0" font-size="23.0" transform="translate(870.7,788.7) scale(0.955,1)">31311P</text>
<line x1="946.0" y1="778.3" x2="975.0" y2="778.3" stroke="#000" stroke-width="1.2"/>
<text x="0" y="0" font-size="23.0" transform="translate(134.3,800.3) scale(0.955,1)">31307</text>
<line x1="100.0" y1="790.0" x2="130.7" y2="790.0" stroke="#000" stroke-width="1.2"/>
<text x="0" y="0" font-size="23.0" transform="translate(1182.3,801.2) scale(0.955,1)">31311P</text>
<line x1="1216.0" y1="754.0" x2="1216.0" y2="784.0" stroke="#000" stroke-width="1.2"/>
<text x="0" y="0" font-size="23.0" transform="translate(1003.3,805.3) scale(0.955,1)">31361</text>
<line x1="1032.7" y1="757.0" x2="1032.7" y2="786.0" stroke="#000" stroke-width="1.2"/>
<text x="0" y="0" font-size="23.0" transform="translate(330.8,816.0) scale(0.955,1)">31160D</text>
<line x1="366.3" y1="765.4" x2="366.3" y2="794.5" stroke="#000" stroke-width="1.2"/>
<text x="0" y="0" font-size="23.0" transform="translate(1634.5,832.8) scale(0.955,1)">31346B</text>
<text x="0" y="0" font-size="23.0" transform="translate(874.0,836.1) scale(0.955,1)">31354E</text>
<line x1="947.9" y1="825.8" x2="976.4" y2="825.8" stroke="#000" stroke-width="1.2"/>
<text x="0" y="0" font-size="23.0" transform="translate(218.0,847.9) scale(0.955,1)">31393C</text>
<line x1="188.0" y1="838.6" x2="216.7" y2="838.6" stroke="#000" stroke-width="1.2"/>
<text x="0" y="0" font-size="23.0" transform="translate(1095.4,853.0) scale(0.955,1)">31357</text>
<line x1="1125.0" y1="800.0" x2="1125.0" y2="832.0" stroke="#000" stroke-width="1.2"/>
<text x="0" y="0" font-size="23.0" transform="translate(805.7,863.0) scale(0.955,1)">31366D</text>
<line x1="841.3" y1="862.8" x2="841.3" y2="889.7" stroke="#000" stroke-width="1.2"/>
<text x="0" y="0" font-size="23.0" transform="translate(415.7,868.0) scale(0.955,1)">31110F</text>
<line x1="452.6" y1="869.5" x2="452.6" y2="898.0" stroke="#000" stroke-width="1.2"/>
<text x="0" y="0" font-size="23.0" transform="translate(1548.7,874.8) scale(0.955,1)">31366B</text>
<text x="0" y="0" font-size="23.0" transform="translate(950.9,936.3) scale(0.955,1)">31311P</text>
<line x1="987.5" y1="888.0" x2="987.5" y2="914.9" stroke="#000" stroke-width="1.2"/>
<text x="0" y="0" font-size="23.0" transform="translate(603.1,995.7) scale(0.955,1)">31366D</text>
<line x1="639.7" y1="997.2" x2="639.7" y2="1025.8" stroke="#000" stroke-width="1.2"/>
<text x="0" y="0" font-size="23.0" transform="translate(703.9,995.7) scale(0.955,1)">31352F</text>
<line x1="738.5" y1="945.0" x2="738.5" y2="974.7" stroke="#000" stroke-width="1.2"/>
<text x="0" y="0" font-size="23.0" transform="translate(217.4,1022.0) scale(0.955,1)">32278</text>
<text x="0" y="0" font-size="23.0" transform="translate(857.8,1056.2) scale(0.955,1)">31353</text>
<line x1="887.4" y1="1007.3" x2="887.4" y2="1035.9" stroke="#000" stroke-width="1.2"/>
<text x="0" y="0" font-size="23.0" transform="translate(227.5,1077.4) scale(0.955,1)">31301B</text>
<text x="0" y="0" font-size="23.0" transform="translate(657.9,1106.0) scale(0.955,1)">31311P</text>
<line x1="693.5" y1="1054.3" x2="693.5" y2="1085.6" stroke="#000" stroke-width="1.2"/>
<text x="0" y="0" font-size="23.0" transform="translate(391.5,1135.2) scale(0.955,1)">31351K</text>
<line x1="467.7" y1="1125.0" x2="497.3" y2="1125.0" stroke="#000" stroke-width="1.2"/>
<text x="0" y="0" font-size="29.3" font-weight="bold" transform="translate(204.6,1190.2) scale(0.955,1)">FR.</text>
<rect x="1482.8" y="672.8" width="257.4" height="219.3" fill="none" stroke="#000" stroke-width="1.1" stroke-dasharray="5,3"/>
<rect x="958.5" y="940.5" width="783.5" height="260" fill="none" stroke="#000" stroke-width="1.3"/>
<line x1="958.5" y1="976.5" x2="1742.0" y2="976.5" stroke="#000" stroke-width="1.3"/>
<line x1="1195.5" y1="940.5" x2="1195.5" y2="1200.5" stroke="#000" stroke-width="1.3"/>
<line x1="1431.5" y1="940.5" x2="1431.5" y2="1200.5" stroke="#000" stroke-width="1.3"/>
<text x="0" y="0" font-size="23.0" transform="translate(1017.4,1006.8) scale(0.955,1)">31170A</text>
<text x="0" y="0" font-size="23.0" transform="translate(1102.1,1036.7) scale(0.955,1)">31306F</text>
<text x="0" y="0" font-size="23.0" transform="translate(988.9,1056.2) scale(0.955,1)">31123M</text>
<text x="0" y="0" font-size="23.0" transform="translate(974.8,1111.7) scale(0.955,1)">31309</text>
<text x="0" y="0" font-size="23.0" transform="translate(1093.0,1145.3) scale(0.955,1)">31342J</text>
<text x="0" y="0" font-size="23.0" transform="translate(1018.4,1190.6) scale(0.955,1)">31343N</text>
<text x="0" y="0" font-size="23.0" transform="translate(1254.6,1005.9) scale(0.955,1)">31170A</text>
<text x="0" y="0" font-size="23.0" transform="translate(1337.7,1036.1) scale(0.955,1)">31341F</text>
<text x="0" y="0" font-size="23.0" transform="translate(1226.0,1056.3) scale(0.955,1)">31123M</text>
<text x="0" y="0" font-size="23.0" transform="translate(1211.0,1111.8) scale(0.955,1)">31309</text>
<text x="0" y="0" font-size="23.0" transform="translate(1330.3,1147.0) scale(0.955,1)">31342J</text>
<text x="0" y="0" font-size="23.0" transform="translate(1254.6,1193.4) scale(0.955,1)">31343N</text>
<text x="0" y="0" font-size="23.0" transform="translate(1447.9,1030.1) scale(0.955,1)">1325NC</text>
<text x="0" y="0" font-size="23.0" transform="translate(1625.4,1032.1) scale(0.955,1)">1120GY</text>
<text x="0" y="0" font-size="23.0" transform="translate(1625.4,1051.3) scale(0.955,1)">1120NI</text>
<text x="0" y="0" font-size="23.0" transform="translate(1436.1,1068.1) scale(0.955,1)">31161D</text>
<text x="0" y="0" font-size="23.0" transform="translate(1660.3,1082.5) scale(0.955,1)">1191CD</text>
<text x="0" y="0" font-size="23.0" transform="translate(1646.9,1119.5) scale(0.955,1)">31162D</text>
<text x="0" y="0" font-size="23.0" transform="translate(1628.8,1148.0) scale(0.955,1)">31164D</text>
<text x="0" y="0" font-size="23.0" transform="translate(1628.8,1165.5) scale(0.955,1)">55823A</text>
<text x="0" y="0" font-size="23.0" transform="translate(1525.9,1176.6) scale(0.955,1)">31163A</text>
</svg></body></html>
